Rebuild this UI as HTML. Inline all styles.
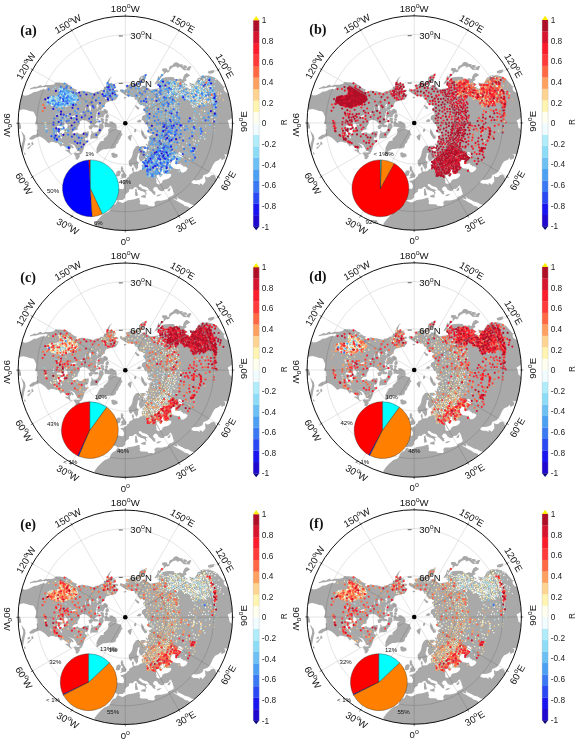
<!DOCTYPE html><html><head><meta charset="utf-8"><title>figure</title><style>html,body{margin:0;padding:0;background:#fff}svg{display:block}text{font-family:"Liberation Sans",sans-serif}.s{font-family:"Liberation Serif",serif;font-weight:bold}</style></head><body>
<svg width="575" height="743" viewBox="0 0 575 743">
<defs>
<clipPath id="cp"><circle r="107.2"/></clipPath>
<clipPath id="lc"><path d="M-6.7 -28.6L-6.9 -27.7L-8.2 -25.3L-10.0 -23.0L-12.2 -22.9L-14.0 -22.5L-17.4 -21.4L-19.4 -20.8L-19.7 -19.7L-20.3 -18.9L-20.6 -17.3L-20.6 -16.1L-22.4 -16.3L-22.0 -15.2L-23.2 -15.1L-24.1 -13.9L-26.0 -12.1L-27.5 -12.2L-28.3 -10.3L-27.9 -9.3L-29.9 -9.7L-28.9 -8.8L-28.5 -7.6L-29.4 -6.3L-29.5 -4.1L-28.9 -3.8L-28.3 -3.0L-24.9 -2.4L-24.2 -1.9L-25.6 -1.1L-27.7 -1.0L-29.1 -0.3L-30.5 1.1L-29.8 1.6L-27.2 2.1L-27.0 3.8L-28.8 4.3L-30.9 4.3L-32.0 3.4L-32.5 2.3L-34.7 1.5L-35.7 0.0L-37.1 -1.3L-39.5 -2.8L-42.4 -3.3L-45.4 -2.0L-45.4 0.0L-46.1 1.6L-47.7 4.2L-47.6 6.4L-50.8 7.1L-52.1 8.3L-53.0 9.3L-52.6 10.2L-51.0 10.1L-48.9 9.5L-48.0 8.9L-46.5 10.3L-44.9 10.8L-42.7 10.3L-41.9 8.9L-40.2 8.5L-38.7 8.6L-36.8 7.8L-36.5 9.8L-36.8 11.9L-37.3 13.6L-38.5 14.4L-39.9 14.5L-40.4 16.3L-39.1 17.4L-36.8 17.2L-36.6 17.4L-39.0 20.3L-40.5 22.0L-41.5 23.9L-41.6 26.0L-42.4 27.5L-43.0 29.2L-44.4 29.9L-46.0 28.2L-47.9 27.7L-49.7 24.3L-51.4 21.8L-53.3 21.0L-55.6 20.2L-57.5 19.6L-54.7 21.0L-52.8 22.4L-51.5 24.5L-53.1 25.3L-53.8 23.9L-54.7 25.5L-55.6 26.5L-55.2 28.1L-54.8 29.8L-53.4 30.8L-52.6 29.7L-53.9 31.1L-55.1 30.6L-57.4 28.6L-59.9 27.3L-59.5 26.3L-57.5 26.8L-56.6 27.0L-57.7 25.7L-58.5 24.8L-59.7 24.1L-61.6 22.4L-63.4 22.2L-64.1 23.3L-64.6 23.5L-65.3 22.5L-66.0 21.4L-67.6 19.4L-68.7 19.7L-70.0 19.4L-70.9 19.0L-72.4 18.7L-74.2 18.5L-74.9 19.0L-76.8 19.9L-78.1 18.7L-79.7 16.9L-81.2 15.8L-82.8 14.6L-84.8 13.4L-86.6 13.1L-90.0 14.6L-92.5 16.3L-95.3 16.5L-96.1 15.2L-94.8 13.7L-91.9 11.8L-89.6 11.5L-88.3 10.1L-88.1 8.8L-88.6 7.0L-87.6 5.4L-87.9 3.1L-88.1 0.8L-89.9 1.1L-89.9 -0.8L-89.2 -3.1L-89.0 -6.2L-90.0 -7.9L-91.0 -10.4L-92.3 -11.8L-95.0 -12.0L-98.7 -13.3L-101.9 -14.0L-104.9 -13.4L-108.1 -11.9L-109.2 -11.1L-110.6 -8.7L-110.1 -4.8L-109.3 -1.9L-106.3 -0.9L-105.4 -0.6L-104.3 2.7L-104.2 5.5L-106.2 5.6L-108.2 4.7L-110.7 4.3L-112.4 3.3L-115.5 2.4L-115.9 4.0L-115.7 8.1L-115.7 12.2L-116.8 13.9L-121.2 13.8L-121.8 5.3L-119.7 -3.1L-116.4 -7.1L-115.1 -10.1L-115.4 -13.1L-113.6 -17.0L-111.7 -19.7L-108.9 -23.2L-106.1 -26.5L-103.4 -28.7L-100.7 -27.5L-97.5 -28.0L-94.0 -29.7L-91.3 -31.4L-89.1 -31.5L-86.6 -32.4L-84.9 -33.4L-82.1 -34.0L-79.5 -33.8L-77.7 -35.7L-79.6 -36.6L-82.8 -36.0L-85.9 -35.6L-89.2 -34.8L-92.4 -34.5L-95.3 -33.7L-95.5 -34.8L-92.9 -35.7L-90.4 -36.9L-88.7 -36.2L-86.5 -37.6L-84.3 -38.4L-83.3 -37.1L-81.0 -37.8L-78.3 -38.2L-74.9 -38.2L-71.6 -38.9L-69.5 -40.9L-67.7 -40.7L-65.1 -40.7L-63.3 -40.4L-60.8 -40.6L-58.7 -40.0L-56.5 -38.3L-54.9 -37.8L-53.3 -35.9L-51.1 -34.5L-47.9 -33.2L-49.4 -32.1L-48.3 -30.8L-47.3 -31.0L-46.0 -31.6L-43.4 -32.7L-41.0 -32.0L-39.3 -31.8L-37.4 -31.7L-35.9 -31.2L-34.3 -30.9L-31.9 -30.3L-30.6 -30.6L-29.5 -31.6L-27.0 -31.6L-25.3 -32.4L-24.1 -33.2L-22.4 -33.2L-21.4 -34.2L-21.1 -35.8L-20.1 -37.1L-19.3 -35.5L-19.7 -34.1L-18.9 -35.6L-19.0 -37.2L-19.0 -38.9L-18.2 -40.8L-17.3 -42.8L-16.2 -44.5L-14.8 -45.7L-13.4 -46.9L-14.0 -45.8L-15.3 -44.3L-16.0 -41.7L-16.4 -39.7L-15.4 -40.1L-13.3 -40.8L-12.7 -39.1L-10.8 -38.9L-9.7 -37.7L-9.7 -36.2L-9.8 -35.5L-11.2 -34.3L-11.4 -33.1L-10.1 -33.2L-8.4 -33.5L-6.9 -32.4L-7.8 -31.2L-9.2 -31.1L-9.9 -30.3L-9.1 -29.8L-8.1 -29.1ZM-27.9 15.1L-30.7 15.3L-33.5 15.3L-34.8 16.4L-34.9 15.5L-34.9 13.7L-34.8 12.0L-33.6 9.6L-34.1 8.2L-33.9 7.2L-32.6 8.1L-32.7 9.4L-30.5 9.3L-28.5 8.7L-26.9 6.7L-26.5 5.2L-26.8 3.8L-26.2 2.3L-25.6 0.4L-22.9 0.2L-21.7 1.9L-21.7 3.4L-21.7 4.6L-22.6 5.6L-23.7 7.7L-24.8 9.8L-26.2 11.1L-27.4 13.4L-27.5 14.6ZM-25.3 -12.9L-26.8 -11.4L-27.4 -8.9L-27.8 -5.9L-26.5 -5.4L-24.8 -6.6L-22.1 -5.9L-21.5 -7.8L-20.6 -9.2L-20.8 -11.1L-21.8 -12.1L-23.4 -12.2ZM-19.9 -13.9L-21.3 -13.8L-21.6 -12.5L-20.6 -10.0L-19.0 -9.7L-17.9 -10.7L-17.8 -12.2ZM-18.1 0.0L-18.3 3.2L-17.1 3.6L-14.9 4.0L-14.1 4.3L-10.9 5.1L-9.1 4.8L-8.8 3.2L-9.2 1.6L-10.7 0.0L-12.1 -0.4L-13.4 0.7L-15.4 0.5ZM-15.6 -1.4L-15.4 -0.3L-14.1 0.5L-12.1 -0.4L-12.9 -1.4ZM-20.3 3.6L-20.6 -0.7L-18.7 -2.0L-17.9 0.0L-18.9 3.3ZM-18.0 -9.2L-19.6 -7.1L-19.1 -5.1L-17.3 -5.6L-16.7 -7.8ZM-19.2 -4.8L-20.0 -2.8L-18.0 -2.4L-17.5 -3.7ZM-23.9 -2.3L-23.2 -0.2L-21.5 0.0L-21.5 -1.9L-22.8 -2.4ZM-24.4 -5.2L-24.4 -3.0L-22.1 -2.7L-21.4 -4.2ZM-28.0 -4.7L-28.8 -3.0L-27.5 -2.6L-26.8 -3.8ZM-33.2 1.7L-36.4 3.2L-35.7 5.6L-34.2 5.7L-32.4 3.4ZM-51.1 30.4L-49.3 33.3L-49.2 35.8L-47.6 35.9L-46.7 34.5L-45.8 33.2L-46.3 31.2L-44.1 30.3L-45.5 29.6L-48.0 30.0L-49.9 29.7ZM-15.1 4.6L-12.4 5.0L-9.3 5.4L-6.8 6.8L-4.5 7.3L-3.8 9.3L-3.5 10.8L-2.4 11.1L-4.1 12.8L-5.0 15.3L-6.7 17.6L-7.1 19.6L-9.0 21.1L-9.4 23.1L-9.9 24.4L-12.5 25.5L-15.2 25.3L-19.6 26.0L-21.8 26.0L-24.6 27.4L-28.0 30.0L-28.7 29.8L-28.8 27.8L-28.8 25.1L-27.5 22.3L-26.0 19.6L-24.7 17.9L-21.5 17.4L-21.7 15.5L-19.3 13.5L-17.5 11.4L-16.5 9.5L-17.2 7.7L-17.1 6.2L-16.0 5.2ZM-13.8 30.3L-12.0 29.7L-10.0 30.7L-8.3 31.1L-7.9 33.0L-9.1 33.8L-11.5 34.4L-13.4 33.1L-13.3 32.0ZM2.7 13.8L3.7 12.9L4.8 11.9L6.1 12.0L5.8 14.3L5.2 17.1L4.1 16.3ZM19.5 15.5L18.3 13.8L16.6 11.4L16.3 9.4L16.2 6.5L17.7 8.2L18.8 11.8L21.5 14.0L21.1 15.3ZM14.7 -1.3L11.9 -1.7L13.9 -3.5L15.9 -2.8ZM9.8 8.8L10.8 7.5L10.4 6.0L9.3 6.5L9.2 8.3ZM13.3 -14.3L11.8 -14.6L11.2 -16.0L10.0 -17.2L10.6 -17.6L12.3 -16.3L13.8 -15.3ZM0.7 -25.6L-0.9 -25.0L-1.1 -25.6L0.0 -25.9ZM11.1 23.0L12.0 22.7L13.7 22.8L13.7 23.8L15.2 23.4L16.5 22.8L19.8 22.8L20.9 24.1L19.9 25.5L17.7 26.2L16.7 26.2L18.9 27.4L19.8 28.5L21.4 28.4L21.1 27.0L22.2 26.5L20.9 25.0L21.5 23.5L22.4 23.2L20.4 21.1L19.9 21.1L21.2 20.5L22.7 21.6L22.8 21.3L22.5 19.5L23.2 17.5L24.0 17.1L24.3 15.2L24.0 13.9L23.9 13.2L25.3 12.1L26.0 11.6L26.8 11.4L27.3 10.8L25.7 10.4L23.6 10.0L22.0 8.6L21.5 8.0L22.1 7.0L23.9 7.3L27.1 8.5L30.2 8.8L30.6 9.9L28.9 8.3L27.2 8.1L24.0 6.9L22.3 6.2L23.3 5.0L22.6 4.0L24.0 3.8L26.1 3.2L24.0 3.4L22.0 3.5L21.8 1.3L20.2 1.1L19.1 -0.7L18.2 -2.6L16.0 -4.0L16.7 -5.1L16.8 -6.8L17.9 -7.8L20.1 -8.5L21.4 -7.0L20.2 -7.4L20.3 -8.8L20.0 -11.1L19.0 -12.3L17.8 -13.4L18.2 -15.0L19.9 -16.1L19.6 -17.0L18.3 -17.0L17.0 -18.3L15.2 -18.1L13.3 -19.8L12.5 -21.6L12.2 -22.9L10.0 -23.6L9.2 -25.4L9.0 -26.2L7.6 -26.4L6.1 -26.3L4.8 -27.3L4.9 -28.0L4.2 -26.7L1.9 -27.2L0.0 -28.4L-1.5 -29.3L-3.8 -30.8L-5.6 -32.0L-4.8 -34.4L-2.3 -33.2L-0.6 -33.3L-0.8 -32.2L0.6 -34.3L1.5 -34.4L0.6 -36.8L0.5 -37.8L3.4 -38.4L5.6 -39.5L7.1 -40.5L9.9 -39.9L11.7 -39.7L12.9 -42.0L13.7 -42.1L13.7 -44.8L15.0 -46.2L17.4 -47.9L18.9 -48.0L21.5 -49.9L20.9 -46.9L19.9 -44.1L18.5 -41.5L17.3 -40.7L14.6 -39.1L13.1 -38.2L10.3 -36.1L13.2 -36.2L12.9 -36.3L15.1 -35.6L17.5 -37.5L20.0 -37.5L20.3 -36.4L22.9 -35.3L25.3 -33.6L28.7 -34.2L31.1 -34.5L33.9 -35.1L33.7 -36.7L32.5 -37.4L32.0 -39.5L32.9 -41.3L35.5 -43.1L37.4 -45.4L40.7 -46.0L44.7 -46.2L48.6 -46.1L49.3 -44.4L51.1 -44.1L53.1 -44.1L54.5 -45.0L56.8 -43.9L57.7 -44.3L57.9 -46.0L59.1 -48.5L61.0 -50.1L61.9 -50.1L63.7 -48.9L65.0 -47.7L63.5 -47.0L61.7 -45.7L60.3 -45.0L61.4 -43.3L60.6 -42.4L59.0 -41.8L59.2 -40.4L61.9 -38.7L62.8 -38.0L59.9 -37.5L60.0 -36.1L62.5 -35.4L64.3 -34.2L65.5 -34.4L66.1 -36.7L64.7 -38.1L64.0 -40.8L66.2 -39.8L69.6 -39.1L71.0 -41.8L72.5 -45.0L74.0 -45.9L75.4 -45.3L75.4 -47.1L77.8 -47.7L80.6 -47.5L83.6 -47.5L86.3 -46.9L89.6 -45.6L92.1 -43.9L93.9 -41.8L96.4 -39.0L98.1 -36.7L100.1 -37.0L98.4 -35.4L98.6 -33.0L100.8 -30.8L104.1 -29.9L106.8 -31.6L111.9 -36.4L120.1 -21.2L113.5 -14.9L115.1 -10.1L112.1 -8.4L108.1 -7.6L106.8 -5.6L104.3 -3.6L102.4 -2.7L103.0 -0.9L103.8 1.8L104.3 4.6L105.8 5.7L107.3 7.5L108.5 9.5L113.4 15.9L115.8 20.4L113.1 32.4L107.5 32.9L104.5 32.3L100.6 31.2L98.6 31.1L98.2 31.0L100.2 32.6L99.7 35.3L96.2 36.9L95.7 34.8L93.5 36.8L90.8 38.0L89.7 38.6L87.6 41.8L85.5 46.4L82.7 50.1L79.7 51.4L78.2 51.7L77.1 55.0L73.8 56.6L70.5 57.1L68.0 56.7L66.3 58.1L66.0 59.5L68.6 60.7L72.4 60.7L74.3 61.9L74.5 59.9L76.5 60.7L77.3 61.9L80.2 58.3L79.7 53.8L79.3 52.7L81.7 54.3L84.3 53.7L85.6 52.3L88.5 51.5L90.2 53.3L90.8 55.7L92.5 58.3L92.6 60.1L92.1 64.5L91.0 71.1L89.0 80.1L85.2 88.2L83.6 88.7L79.8 86.4L75.9 84.3L71.5 82.8L66.3 81.3L63.2 79.4L59.6 78.5L57.0 77.0L53.1 75.3L51.3 73.2L52.2 75.9L52.1 76.4L50.3 76.1L47.8 74.7L49.0 76.3L51.8 77.7L54.6 79.4L57.8 81.0L59.2 82.4L62.8 83.4L65.3 85.7L69.3 87.2L73.2 92.1L48.0 132.0L0.0 140.5L-34.6 113.1L-32.8 110.8L-30.7 105.0L-30.8 100.8L-27.7 96.6L-24.0 92.7L-20.8 90.1L-17.8 88.9L-15.4 87.5L-14.6 84.6L-12.2 81.8L-9.7 80.9L-8.1 78.0L-7.2 77.9L-4.1 79.2L-2.8 79.6L0.0 78.4L2.0 77.2L4.0 76.7L6.7 76.5L10.0 75.8L12.9 74.8L14.6 75.0L14.1 76.3L15.0 78.4L14.1 79.9L15.8 81.2L18.8 81.3L22.3 81.5L22.9 82.7L26.1 82.9L28.6 83.2L29.7 81.5L28.9 79.4L30.6 77.6L32.9 77.4L36.1 77.5L39.1 76.8L42.1 76.0L43.1 74.7L44.1 73.4L46.1 72.9L48.5 71.3L48.3 69.5L47.7 68.2L47.1 65.5L46.3 64.0L45.5 62.2L44.2 63.2L43.5 64.5L41.9 65.7L39.2 66.0L38.3 67.7L36.1 67.9L34.8 67.5L33.0 66.2L32.6 64.9L31.6 64.1L30.9 63.4L28.5 64.1L28.8 65.4L27.4 65.2L28.1 67.0L29.4 68.2L30.6 68.8L29.5 69.6L30.4 71.0L29.5 71.6L28.4 71.3L27.2 70.0L26.6 69.3L25.4 68.0L23.7 66.9L22.9 65.1L21.4 64.0L19.4 63.4L17.4 62.7L15.8 61.2L14.8 60.8L13.4 61.6L13.9 63.1L15.5 64.0L17.0 65.6L18.9 65.9L21.8 67.1L22.6 67.6L20.7 67.7L20.6 69.1L21.5 69.9L21.0 71.1L20.2 72.0L20.2 70.3L19.2 68.9L17.3 68.0L15.6 67.6L14.5 67.0L12.9 66.4L11.8 64.8L11.0 64.0L9.9 63.7L8.5 64.8L7.0 66.1L5.5 65.8L4.4 65.9L3.5 67.4L3.8 68.5L2.7 69.2L1.0 70.3L-0.4 72.5L0.1 73.6L-0.9 75.3L-2.7 76.7L-5.9 76.7L-7.3 77.6L-8.4 76.5L-9.8 75.5L-11.8 75.5L-11.3 73.1L-12.1 72.6L-10.9 70.3L-10.4 67.5L-10.7 65.8L-9.1 64.9L-6.5 65.4L-4.4 65.7L-2.1 66.0L-1.3 64.0L-1.2 62.5L-2.1 60.7L-2.3 60.0L-4.4 59.0L-4.8 58.0L-3.0 57.5L-1.6 57.8L-1.6 56.4L-0.2 56.9L0.2 56.3L1.5 55.5L1.6 54.4L3.3 53.6L3.8 52.3L4.3 51.1L6.2 50.2L7.4 49.6L7.4 48.1L6.8 47.0L6.5 44.9L8.1 43.6L8.2 45.4L8.7 45.8L8.3 47.2L8.1 47.9L9.3 48.6L10.3 48.4L11.5 47.9L12.3 48.4L13.6 47.5L15.4 46.1L16.4 46.4L16.6 45.6L17.1 44.4L16.3 42.4L16.5 41.4L17.1 41.1L18.4 41.4L18.0 39.6L17.1 39.4L16.8 38.7L17.7 37.9L19.6 36.9L20.6 35.7L19.2 35.3L17.8 36.4L16.1 37.9L14.7 37.4L14.0 35.9L13.5 34.2L13.8 32.6L14.4 30.8L14.2 30.0L13.4 30.0L12.4 30.6L12.5 32.3L11.8 34.4L11.4 36.0L11.7 37.9L12.9 38.7L13.5 39.6L12.9 41.0L12.7 42.8L12.8 44.8L11.7 45.4L11.7 46.3L10.7 46.5L10.3 45.3L9.3 43.7L8.5 42.4L7.9 41.3L7.6 40.7L7.0 42.1L6.1 43.4L5.2 43.5L4.2 42.6L3.7 40.9L3.4 39.2L3.4 37.8L4.5 36.5L5.6 35.2L6.4 33.7L7.1 31.8L7.4 29.9L7.6 28.4L8.2 26.9L8.8 25.6L9.9 24.4L10.4 23.4ZM-5.5 55.4L-3.4 55.2L-1.4 54.7L1.2 54.0L0.7 53.5L1.5 51.7L0.3 51.3L-0.2 49.8L-1.3 48.3L-1.6 46.8L-2.5 46.8L-1.6 44.5L-3.1 44.4L-2.4 43.0L-3.8 42.9L-4.5 44.5L-4.5 46.2L-4.3 47.4L-4.1 48.5L-2.7 48.6L-2.6 50.5L-4.0 50.7L-3.8 51.9L-4.8 52.9L-3.0 53.6L-4.1 54.1ZM-9.2 52.3L-7.9 52.8L-5.8 52.2L-5.3 50.6L-4.7 48.8L-5.4 47.7L-6.9 47.6L-8.6 48.8L-8.7 50.1ZM44.1 -53.1L42.4 -52.4L40.9 -54.7L37.5 -54.5L37.0 -53.2L38.9 -51.6L38.7 -49.4L40.4 -51.0L41.5 -51.8L42.4 -51.0L43.8 -51.9ZM43.3 -54.0L44.5 -57.0L47.1 -58.1L48.6 -60.0L49.7 -60.9L51.3 -61.1L52.9 -60.4L54.9 -58.9L55.4 -59.0L57.4 -59.1L57.2 -57.4L59.2 -55.2L61.5 -53.5L61.1 -52.9L58.2 -53.3L56.2 -55.2L54.6 -56.6L52.4 -55.6L51.3 -55.6L52.2 -56.3L50.3 -56.9L48.0 -56.2L45.9 -54.8L44.9 -53.5ZM61.7 -53.5L61.8 -55.2L64.5 -56.9L65.7 -56.3L64.6 -54.6L64.0 -53.2L62.6 -53.3ZM60.3 -55.3L58.0 -56.6L58.2 -57.6L59.3 -57.7L61.3 -57.1L61.1 -55.8ZM38.1 -48.8L36.1 -48.8L34.2 -45.4L33.1 -46.8L32.0 -42.9L30.7 -41.1L29.8 -39.3L31.1 -39.8L32.6 -41.5L33.8 -43.4L36.1 -46.4L37.7 -48.1ZM83.4 -50.1L82.9 -51.6L85.7 -52.5L88.8 -52.9L87.8 -50.9L85.6 -50.0ZM101.2 -35.8L100.2 -38.5L103.4 -38.6L104.7 -36.1L103.3 -34.7ZM-103.2 9.2L-100.7 12.4L-100.0 15.8L-100.7 18.7L-101.5 22.5L-102.1 26.0L-102.7 29.1L-103.9 27.8L-105.1 22.9L-103.5 23.5L-103.2 21.0L-102.0 17.1L-101.6 14.3L-102.4 11.7ZM-106.5 29.7L-102.8 31.4L-102.0 34.1L-101.4 36.9L-102.4 40.6L-105.7 36.4ZM16.2 73.0L20.0 71.7L20.0 74.3L16.3 73.6ZM10.4 72.4L10.0 69.1L11.5 68.6L12.4 71.7L11.4 72.2ZM10.3 68.3L10.1 66.5L10.9 65.8L11.4 68.1ZM31.6 72.7L32.7 71.7L35.2 71.2L33.8 72.4L31.7 72.9ZM42.6 67.5L43.1 66.4L44.7 64.9L44.6 66.2L43.8 67.5ZM-93.1 18.9L-92.0 20.9L-93.0 21.5L-93.7 19.9ZM-95.8 20.0L-95.4 21.0L-97.4 21.6L-97.4 20.7ZM-94.5 22.5L-95.5 23.8L-97.2 25.7L-97.5 25.0ZM-100.7 29.6L-99.9 30.9L-100.9 30.9Z"/></clipPath>
<g id="land"><g clip-path="url(#cp)">
<path fill="#a9a9a9" d="M-6.7 -28.6L-6.9 -27.7L-8.2 -25.3L-10.0 -23.0L-12.2 -22.9L-14.0 -22.5L-17.4 -21.4L-19.4 -20.8L-19.7 -19.7L-20.3 -18.9L-20.6 -17.3L-20.6 -16.1L-22.4 -16.3L-22.0 -15.2L-23.2 -15.1L-24.1 -13.9L-26.0 -12.1L-27.5 -12.2L-28.3 -10.3L-27.9 -9.3L-29.9 -9.7L-28.9 -8.8L-28.5 -7.6L-29.4 -6.3L-29.5 -4.1L-28.9 -3.8L-28.3 -3.0L-24.9 -2.4L-24.2 -1.9L-25.6 -1.1L-27.7 -1.0L-29.1 -0.3L-30.5 1.1L-29.8 1.6L-27.2 2.1L-27.0 3.8L-28.8 4.3L-30.9 4.3L-32.0 3.4L-32.5 2.3L-34.7 1.5L-35.7 0.0L-37.1 -1.3L-39.5 -2.8L-42.4 -3.3L-45.4 -2.0L-45.4 0.0L-46.1 1.6L-47.7 4.2L-47.6 6.4L-50.8 7.1L-52.1 8.3L-53.0 9.3L-52.6 10.2L-51.0 10.1L-48.9 9.5L-48.0 8.9L-46.5 10.3L-44.9 10.8L-42.7 10.3L-41.9 8.9L-40.2 8.5L-38.7 8.6L-36.8 7.8L-36.5 9.8L-36.8 11.9L-37.3 13.6L-38.5 14.4L-39.9 14.5L-40.4 16.3L-39.1 17.4L-36.8 17.2L-36.6 17.4L-39.0 20.3L-40.5 22.0L-41.5 23.9L-41.6 26.0L-42.4 27.5L-43.0 29.2L-44.4 29.9L-46.0 28.2L-47.9 27.7L-49.7 24.3L-51.4 21.8L-53.3 21.0L-55.6 20.2L-57.5 19.6L-54.7 21.0L-52.8 22.4L-51.5 24.5L-53.1 25.3L-53.8 23.9L-54.7 25.5L-55.6 26.5L-55.2 28.1L-54.8 29.8L-53.4 30.8L-52.6 29.7L-53.9 31.1L-55.1 30.6L-57.4 28.6L-59.9 27.3L-59.5 26.3L-57.5 26.8L-56.6 27.0L-57.7 25.7L-58.5 24.8L-59.7 24.1L-61.6 22.4L-63.4 22.2L-64.1 23.3L-64.6 23.5L-65.3 22.5L-66.0 21.4L-67.6 19.4L-68.7 19.7L-70.0 19.4L-70.9 19.0L-72.4 18.7L-74.2 18.5L-74.9 19.0L-76.8 19.9L-78.1 18.7L-79.7 16.9L-81.2 15.8L-82.8 14.6L-84.8 13.4L-86.6 13.1L-90.0 14.6L-92.5 16.3L-95.3 16.5L-96.1 15.2L-94.8 13.7L-91.9 11.8L-89.6 11.5L-88.3 10.1L-88.1 8.8L-88.6 7.0L-87.6 5.4L-87.9 3.1L-88.1 0.8L-89.9 1.1L-89.9 -0.8L-89.2 -3.1L-89.0 -6.2L-90.0 -7.9L-91.0 -10.4L-92.3 -11.8L-95.0 -12.0L-98.7 -13.3L-101.9 -14.0L-104.9 -13.4L-108.1 -11.9L-109.2 -11.1L-110.6 -8.7L-110.1 -4.8L-109.3 -1.9L-106.3 -0.9L-105.4 -0.6L-104.3 2.7L-104.2 5.5L-106.2 5.6L-108.2 4.7L-110.7 4.3L-112.4 3.3L-115.5 2.4L-115.9 4.0L-115.7 8.1L-115.7 12.2L-116.8 13.9L-121.2 13.8L-121.8 5.3L-119.7 -3.1L-116.4 -7.1L-115.1 -10.1L-115.4 -13.1L-113.6 -17.0L-111.7 -19.7L-108.9 -23.2L-106.1 -26.5L-103.4 -28.7L-100.7 -27.5L-97.5 -28.0L-94.0 -29.7L-91.3 -31.4L-89.1 -31.5L-86.6 -32.4L-84.9 -33.4L-82.1 -34.0L-79.5 -33.8L-77.7 -35.7L-79.6 -36.6L-82.8 -36.0L-85.9 -35.6L-89.2 -34.8L-92.4 -34.5L-95.3 -33.7L-95.5 -34.8L-92.9 -35.7L-90.4 -36.9L-88.7 -36.2L-86.5 -37.6L-84.3 -38.4L-83.3 -37.1L-81.0 -37.8L-78.3 -38.2L-74.9 -38.2L-71.6 -38.9L-69.5 -40.9L-67.7 -40.7L-65.1 -40.7L-63.3 -40.4L-60.8 -40.6L-58.7 -40.0L-56.5 -38.3L-54.9 -37.8L-53.3 -35.9L-51.1 -34.5L-47.9 -33.2L-49.4 -32.1L-48.3 -30.8L-47.3 -31.0L-46.0 -31.6L-43.4 -32.7L-41.0 -32.0L-39.3 -31.8L-37.4 -31.7L-35.9 -31.2L-34.3 -30.9L-31.9 -30.3L-30.6 -30.6L-29.5 -31.6L-27.0 -31.6L-25.3 -32.4L-24.1 -33.2L-22.4 -33.2L-21.4 -34.2L-21.1 -35.8L-20.1 -37.1L-19.3 -35.5L-19.7 -34.1L-18.9 -35.6L-19.0 -37.2L-19.0 -38.9L-18.2 -40.8L-17.3 -42.8L-16.2 -44.5L-14.8 -45.7L-13.4 -46.9L-14.0 -45.8L-15.3 -44.3L-16.0 -41.7L-16.4 -39.7L-15.4 -40.1L-13.3 -40.8L-12.7 -39.1L-10.8 -38.9L-9.7 -37.7L-9.7 -36.2L-9.8 -35.5L-11.2 -34.3L-11.4 -33.1L-10.1 -33.2L-8.4 -33.5L-6.9 -32.4L-7.8 -31.2L-9.2 -31.1L-9.9 -30.3L-9.1 -29.8L-8.1 -29.1ZM-27.9 15.1L-30.7 15.3L-33.5 15.3L-34.8 16.4L-34.9 15.5L-34.9 13.7L-34.8 12.0L-33.6 9.6L-34.1 8.2L-33.9 7.2L-32.6 8.1L-32.7 9.4L-30.5 9.3L-28.5 8.7L-26.9 6.7L-26.5 5.2L-26.8 3.8L-26.2 2.3L-25.6 0.4L-22.9 0.2L-21.7 1.9L-21.7 3.4L-21.7 4.6L-22.6 5.6L-23.7 7.7L-24.8 9.8L-26.2 11.1L-27.4 13.4L-27.5 14.6ZM-25.4 -13.3L-27.1 -11.5L-27.8 -9.0L-28.2 -5.7L-26.4 -5.0L-24.7 -6.3L-21.9 -5.5L-21.2 -7.7L-20.2 -9.1L-20.5 -11.2L-21.7 -12.4L-23.3 -12.5ZM-19.8 -14.3L-21.6 -14.2L-22.0 -12.5L-20.8 -9.7L-18.8 -9.3L-17.5 -10.6L-17.4 -12.4ZM-18.5 -0.4L-18.6 3.5L-17.2 4.0L-15.0 4.3L-14.2 4.6L-11.0 5.5L-8.8 5.2L-8.5 3.2L-8.9 1.5L-10.5 -0.3L-12.1 -0.8L-13.5 0.3L-15.4 0.2ZM-16.1 -1.7L-15.7 -0.0L-14.1 0.9L-11.5 -0.3L-12.8 -1.7ZM-20.6 4.0L-18.7 3.6L-17.5 -0.0L-18.6 -2.5L-20.9 -0.9ZM-18.0 -9.7L-20.0 -7.2L-19.4 -4.7L-17.0 -5.3L-16.3 -7.9ZM-19.4 -5.3L-20.5 -2.6L-17.8 -2.0L-17.1 -3.9ZM-24.4 -2.6L-23.4 0.1L-21.2 0.4L-21.1 -2.1L-22.7 -2.8ZM-24.8 -5.7L-24.7 -2.7L-21.8 -2.3L-20.9 -4.4ZM-28.2 -5.2L-29.3 -2.8L-27.3 -2.2L-26.3 -3.9ZM-33.1 1.3L-36.8 3.0L-35.9 6.0L-34.0 6.1L-32.0 3.4ZM-51.6 30.2L-49.6 33.4L-49.6 36.1L-47.4 36.2L-46.4 34.7L-45.4 33.3L-45.8 31.4L-43.3 30.4L-45.5 29.2L-48.0 29.6L-50.0 29.3ZM-15.1 4.6L-12.4 5.0L-9.3 5.4L-6.8 6.8L-4.5 7.3L-3.8 9.3L-3.5 10.8L-2.4 11.1L-4.1 12.8L-5.0 15.3L-6.7 17.6L-7.1 19.6L-9.0 21.1L-9.4 23.1L-9.9 24.4L-12.5 25.5L-15.2 25.3L-19.6 26.0L-21.8 26.0L-24.6 27.4L-28.0 30.0L-28.7 29.8L-28.8 27.8L-28.8 25.1L-27.5 22.3L-26.0 19.6L-24.7 17.9L-21.5 17.4L-21.7 15.5L-19.3 13.5L-17.5 11.4L-16.5 9.5L-17.2 7.7L-17.1 6.2L-16.0 5.2ZM-14.2 30.1L-13.6 32.1L-13.7 33.2L-11.6 34.7L-8.9 34.1L-7.5 33.2L-8.0 30.8L-9.9 30.4L-12.0 29.3ZM2.2 13.8L3.8 16.5L5.5 17.7L6.1 14.4L6.5 11.6L4.7 11.6L3.5 12.6ZM19.4 15.9L21.4 15.6L21.9 13.9L19.2 11.6L18.0 8.1L15.8 5.6L16.0 9.4L16.3 11.6L18.0 14.0ZM14.9 -0.9L16.4 -3.0L13.8 -3.9L11.2 -1.4ZM9.8 9.3L11.1 7.6L10.7 5.5L9.0 6.3L8.8 8.4ZM13.5 -13.9L14.2 -15.4L12.5 -16.6L10.6 -18.1L9.4 -17.3L10.9 -15.8L11.6 -14.3ZM1.5 -25.7L0.0 -26.3L-1.6 -25.9L-1.1 -24.5ZM11.1 23.0L12.0 22.7L13.7 22.8L13.7 23.8L15.2 23.4L16.5 22.8L19.8 22.8L20.9 24.1L19.9 25.5L17.7 26.2L16.7 26.2L18.9 27.4L19.8 28.5L21.4 28.4L21.1 27.0L22.2 26.5L20.9 25.0L21.5 23.5L22.4 23.2L20.4 21.1L19.9 21.1L21.2 20.5L22.7 21.6L22.8 21.3L22.5 19.5L23.2 17.5L24.0 17.1L24.3 15.2L24.0 13.9L23.9 13.2L25.3 12.1L26.0 11.6L26.8 11.4L27.3 10.8L25.7 10.4L23.6 10.0L22.0 8.6L21.5 8.0L22.1 7.0L23.9 7.3L27.1 8.5L30.2 8.8L30.6 9.9L28.9 8.3L27.2 8.1L24.0 6.9L22.3 6.2L23.3 5.0L22.6 4.0L24.0 3.8L26.1 3.2L24.0 3.4L22.0 3.5L21.8 1.3L20.2 1.1L19.1 -0.7L18.2 -2.6L16.0 -4.0L16.7 -5.1L16.8 -6.8L17.9 -7.8L20.1 -8.5L21.4 -7.0L20.2 -7.4L20.3 -8.8L20.0 -11.1L19.0 -12.3L17.8 -13.4L18.2 -15.0L19.9 -16.1L19.6 -17.0L18.3 -17.0L17.0 -18.3L15.2 -18.1L13.3 -19.8L12.5 -21.6L12.2 -22.9L10.0 -23.6L9.2 -25.4L9.0 -26.2L7.6 -26.4L6.1 -26.3L4.8 -27.3L4.9 -28.0L4.2 -26.7L1.9 -27.2L0.0 -28.4L-1.5 -29.3L-3.8 -30.8L-5.6 -32.0L-4.8 -34.4L-2.3 -33.2L-0.6 -33.3L-0.8 -32.2L0.6 -34.3L1.5 -34.4L0.6 -36.8L0.5 -37.8L3.4 -38.4L5.6 -39.5L7.1 -40.5L9.9 -39.9L11.7 -39.7L12.9 -42.0L13.7 -42.1L13.7 -44.8L15.0 -46.2L17.4 -47.9L18.9 -48.0L21.5 -49.9L20.9 -46.9L19.9 -44.1L18.5 -41.5L17.3 -40.7L14.6 -39.1L13.1 -38.2L10.3 -36.1L13.2 -36.2L12.9 -36.3L15.1 -35.6L17.5 -37.5L20.0 -37.5L20.3 -36.4L22.9 -35.3L25.3 -33.6L28.7 -34.2L31.1 -34.5L33.9 -35.1L33.7 -36.7L32.5 -37.4L32.0 -39.5L32.9 -41.3L35.5 -43.1L37.4 -45.4L40.7 -46.0L44.7 -46.2L48.6 -46.1L49.3 -44.4L51.1 -44.1L53.1 -44.1L54.5 -45.0L56.8 -43.9L57.7 -44.3L57.9 -46.0L59.1 -48.5L61.0 -50.1L61.9 -50.1L63.7 -48.9L65.0 -47.7L63.5 -47.0L61.7 -45.7L60.3 -45.0L61.4 -43.3L60.6 -42.4L59.0 -41.8L59.2 -40.4L61.9 -38.7L62.8 -38.0L59.9 -37.5L60.0 -36.1L62.5 -35.4L64.3 -34.2L65.5 -34.4L66.1 -36.7L64.7 -38.1L64.0 -40.8L66.2 -39.8L69.6 -39.1L71.0 -41.8L72.5 -45.0L74.0 -45.9L75.4 -45.3L75.4 -47.1L77.8 -47.7L80.6 -47.5L83.6 -47.5L86.3 -46.9L89.6 -45.6L92.1 -43.9L93.9 -41.8L96.4 -39.0L98.1 -36.7L100.1 -37.0L98.4 -35.4L98.6 -33.0L100.8 -30.8L104.1 -29.9L106.8 -31.6L111.9 -36.4L120.1 -21.2L113.5 -14.9L115.1 -10.1L112.1 -8.4L108.1 -7.6L106.8 -5.6L104.3 -3.6L102.4 -2.7L103.0 -0.9L103.8 1.8L104.3 4.6L105.8 5.7L107.3 7.5L108.5 9.5L113.4 15.9L115.8 20.4L113.1 32.4L107.5 32.9L104.5 32.3L100.6 31.2L98.6 31.1L98.2 31.0L100.2 32.6L99.7 35.3L96.2 36.9L95.7 34.8L93.5 36.8L90.8 38.0L89.7 38.6L87.6 41.8L85.5 46.4L82.7 50.1L79.7 51.4L78.2 51.7L77.1 55.0L73.8 56.6L70.5 57.1L68.0 56.7L66.3 58.1L66.0 59.5L68.6 60.7L72.4 60.7L74.3 61.9L74.5 59.9L76.5 60.7L77.3 61.9L80.2 58.3L79.7 53.8L79.3 52.7L81.7 54.3L84.3 53.7L85.6 52.3L88.5 51.5L90.2 53.3L90.8 55.7L92.5 58.3L92.6 60.1L92.1 64.5L91.0 71.1L89.0 80.1L85.2 88.2L83.6 88.7L79.8 86.4L75.9 84.3L71.5 82.8L66.3 81.3L63.2 79.4L59.6 78.5L57.0 77.0L53.1 75.3L51.3 73.2L52.2 75.9L52.1 76.4L50.3 76.1L47.8 74.7L49.0 76.3L51.8 77.7L54.6 79.4L57.8 81.0L59.2 82.4L62.8 83.4L65.3 85.7L69.3 87.2L73.2 92.1L48.0 132.0L0.0 140.5L-34.6 113.1L-32.8 110.8L-30.7 105.0L-30.8 100.8L-27.7 96.6L-24.0 92.7L-20.8 90.1L-17.8 88.9L-15.4 87.5L-14.6 84.6L-12.2 81.8L-9.7 80.9L-8.1 78.0L-7.2 77.9L-4.1 79.2L-2.8 79.6L0.0 78.4L2.0 77.2L4.0 76.7L6.7 76.5L10.0 75.8L12.9 74.8L14.6 75.0L14.1 76.3L15.0 78.4L14.1 79.9L15.8 81.2L18.8 81.3L22.3 81.5L22.9 82.7L26.1 82.9L28.6 83.2L29.7 81.5L28.9 79.4L30.6 77.6L32.9 77.4L36.1 77.5L39.1 76.8L42.1 76.0L43.1 74.7L44.1 73.4L46.1 72.9L48.5 71.3L48.3 69.5L47.7 68.2L47.1 65.5L46.3 64.0L45.5 62.2L44.2 63.2L43.5 64.5L41.9 65.7L39.2 66.0L38.3 67.7L36.1 67.9L34.8 67.5L33.0 66.2L32.6 64.9L31.6 64.1L30.9 63.4L28.5 64.1L28.8 65.4L27.4 65.2L28.1 67.0L29.4 68.2L30.6 68.8L29.5 69.6L30.4 71.0L29.5 71.6L28.4 71.3L27.2 70.0L26.6 69.3L25.4 68.0L23.7 66.9L22.9 65.1L21.4 64.0L19.4 63.4L17.4 62.7L15.8 61.2L14.8 60.8L13.4 61.6L13.9 63.1L15.5 64.0L17.0 65.6L18.9 65.9L21.8 67.1L22.6 67.6L20.7 67.7L20.6 69.1L21.5 69.9L21.0 71.1L20.2 72.0L20.2 70.3L19.2 68.9L17.3 68.0L15.6 67.6L14.5 67.0L12.9 66.4L11.8 64.8L11.0 64.0L9.9 63.7L8.5 64.8L7.0 66.1L5.5 65.8L4.4 65.9L3.5 67.4L3.8 68.5L2.7 69.2L1.0 70.3L-0.4 72.5L0.1 73.6L-0.9 75.3L-2.7 76.7L-5.9 76.7L-7.3 77.6L-8.4 76.5L-9.8 75.5L-11.8 75.5L-11.3 73.1L-12.1 72.6L-10.9 70.3L-10.4 67.5L-10.7 65.8L-9.1 64.9L-6.5 65.4L-4.4 65.7L-2.1 66.0L-1.3 64.0L-1.2 62.5L-2.1 60.7L-2.3 60.0L-4.4 59.0L-4.8 58.0L-3.0 57.5L-1.6 57.8L-1.6 56.4L-0.2 56.9L0.2 56.3L1.5 55.5L1.6 54.4L3.3 53.6L3.8 52.3L4.3 51.1L6.2 50.2L7.4 49.6L7.4 48.1L6.8 47.0L6.5 44.9L8.1 43.6L8.2 45.4L8.7 45.8L8.3 47.2L8.1 47.9L9.3 48.6L10.3 48.4L11.5 47.9L12.3 48.4L13.6 47.5L15.4 46.1L16.4 46.4L16.6 45.6L17.1 44.4L16.3 42.4L16.5 41.4L17.1 41.1L18.4 41.4L18.0 39.6L17.1 39.4L16.8 38.7L17.7 37.9L19.6 36.9L20.6 35.7L19.2 35.3L17.8 36.4L16.1 37.9L14.7 37.4L14.0 35.9L13.5 34.2L13.8 32.6L14.4 30.8L14.2 30.0L13.4 30.0L12.4 30.6L12.5 32.3L11.8 34.4L11.4 36.0L11.7 37.9L12.9 38.7L13.5 39.6L12.9 41.0L12.7 42.8L12.8 44.8L11.7 45.4L11.7 46.3L10.7 46.5L10.3 45.3L9.3 43.7L8.5 42.4L7.9 41.3L7.6 40.7L7.0 42.1L6.1 43.4L5.2 43.5L4.2 42.6L3.7 40.9L3.4 39.2L3.4 37.8L4.5 36.5L5.6 35.2L6.4 33.7L7.1 31.8L7.4 29.9L7.6 28.4L8.2 26.9L8.8 25.6L9.9 24.4L10.4 23.4ZM-5.5 55.4L-3.4 55.2L-1.4 54.7L1.2 54.0L0.7 53.5L1.5 51.7L0.3 51.3L-0.2 49.8L-1.3 48.3L-1.6 46.8L-2.5 46.8L-1.6 44.5L-3.1 44.4L-2.4 43.0L-3.8 42.9L-4.5 44.5L-4.5 46.2L-4.3 47.4L-4.1 48.5L-2.7 48.6L-2.6 50.5L-4.0 50.7L-3.8 51.9L-4.8 52.9L-3.0 53.6L-4.1 54.1ZM-9.6 52.5L-7.9 53.2L-5.5 52.5L-5.0 50.7L-4.3 48.8L-5.2 47.4L-6.9 47.2L-8.9 48.6L-9.0 50.1ZM44.6 -53.7L42.6 -52.9L41.1 -55.0L37.2 -54.9L36.5 -53.1L38.5 -51.4L38.3 -48.5L40.6 -50.7L41.5 -51.3L42.3 -50.6L44.2 -51.7ZM43.3 -54.0L44.5 -57.0L47.1 -58.1L48.6 -60.0L49.7 -60.9L51.3 -61.1L52.9 -60.4L54.9 -58.9L55.4 -59.0L57.4 -59.1L57.2 -57.4L59.2 -55.2L61.5 -53.5L61.1 -52.9L58.2 -53.3L56.2 -55.2L54.6 -56.6L52.4 -55.6L51.3 -55.6L52.2 -56.3L50.3 -56.9L48.0 -56.2L45.9 -54.8L44.9 -53.5ZM61.4 -53.2L62.5 -52.9L64.3 -52.8L64.9 -54.5L66.2 -56.5L64.5 -57.3L61.4 -55.4ZM60.4 -54.9L61.4 -55.6L61.6 -57.4L59.3 -58.0L57.9 -57.9L57.6 -56.4ZM38.7 -49.2L35.9 -49.1L34.2 -46.0L33.0 -47.5L31.7 -43.1L30.4 -41.3L29.1 -38.7L31.3 -39.5L32.9 -41.3L34.1 -43.2L36.4 -46.2L38.0 -47.9ZM83.1 -49.8L85.7 -49.7L88.0 -50.6L89.4 -53.4L85.6 -52.9L82.5 -51.8ZM100.9 -35.6L103.3 -34.3L105.2 -36.0L103.6 -39.0L99.7 -38.8ZM-104.1 7.7L-102.7 11.8L-102.0 14.3L-102.3 17.0L-103.6 20.9L-103.8 23.0L-105.6 22.3L-104.2 28.0L-102.5 29.8L-101.8 26.1L-101.2 22.6L-100.4 18.7L-99.7 15.9L-100.4 12.2L-104.0 7.6ZM-106.9 29.1L-106.0 36.5L-102.3 41.3L-101.1 36.9L-101.6 34.0L-102.6 31.2ZM15.8 72.8L16.0 74.0L20.4 74.7L20.4 71.2ZM10.1 72.8L11.5 72.6L12.8 71.9L11.7 68.1L9.6 68.9ZM10.0 68.7L11.8 68.4L11.1 65.1L9.7 66.4ZM31.2 72.6L31.5 73.3L33.9 72.7L36.5 70.7L32.5 71.4ZM42.1 67.8L44.0 67.9L45.0 66.3L45.2 64.0L42.8 66.2ZM-93.1 18.3L-94.1 19.9L-93.1 22.0L-91.5 21.0ZM-95.6 19.5L-97.7 20.5L-97.7 22.1L-94.9 21.2ZM-93.3 21.1L-98.0 25.0L-97.2 26.3L-95.2 24.0L-93.1 21.4ZM-100.9 28.7L-101.4 31.2L-99.2 31.3Z"/>
<path fill="#fff" d="M33.9 61.1L31.8 60.4L30.9 59.4L31.3 57.8L30.7 56.5L31.0 54.9L31.0 52.4L32.2 51.6L34.2 51.5L33.8 52.8L35.5 53.8L37.0 51.8L37.7 50.7L35.3 50.4L36.2 48.0L38.0 46.3L38.3 48.7L38.4 50.6L39.9 50.8L42.3 50.6L44.9 50.4L46.2 51.5L45.1 53.8L43.2 55.3L41.5 56.0L39.3 56.2L37.3 57.5L36.5 59.6ZM46.8 44.1L49.0 45.2L51.2 45.6L53.5 46.0L54.8 45.5L55.0 47.5L56.2 49.3L58.3 49.2L60.9 47.6L62.4 45.0L60.0 43.3L58.0 43.2L57.0 41.7L55.4 41.8L56.2 40.1L53.6 40.7L51.9 40.8L49.8 40.6L49.9 39.3L50.7 37.7L48.9 36.2L46.6 37.7L45.6 39.9L45.8 42.4ZM54.9 34.0L52.9 32.3L52.4 30.3L53.8 28.8L56.1 29.8L57.5 32.5L56.6 34.0ZM-60.8 -2.1L-61.0 0.0L-61.1 3.2L-60.9 5.6L-58.9 5.2L-57.7 3.5L-57.6 1.5L-59.2 0.0ZM-68.2 2.6L-68.6 4.2L-65.7 4.4L-62.5 5.2L-62.1 3.8L-65.0 2.5ZM-61.8 6.0L-64.7 7.4L-65.9 8.7L-65.2 9.5L-63.1 9.7L-63.2 11.1L-61.7 10.3L-61.2 8.6ZM-68.3 7.9L-68.3 10.2L-65.9 12.8L-65.7 12.2L-66.8 9.4ZM-65.1 11.7L-64.5 14.9L-63.2 15.5L-63.4 14.0ZM-27.6 -19.3L-29.1 -17.5L-28.8 -15.3L-27.5 -14.6L-26.7 -16.1L-26.9 -17.8ZM-35.3 -18.0L-36.3 -16.2L-35.7 -13.7L-35.1 -12.1L-34.4 -13.5L-34.5 -15.7L-34.6 -16.9ZM-49.9 -7.9L-52.3 -7.2L-54.7 -6.2L-53.2 -5.9L-49.7 -6.5L-49.3 -7.4ZM-40.0 -15.7L-40.1 -13.8L-40.5 -11.6L-39.5 -13.6L-39.6 -15.2ZM20.8 35.4L21.5 35.0L21.7 33.5L20.5 32.8L19.9 33.8ZM22.5 32.7L23.1 31.8L21.8 30.5L21.4 31.1ZM-45.0 -10.4L-44.5 -9.1L-43.0 -9.1L-43.4 -10.0ZM-56.5 1.0L-56.7 2.0L-55.5 1.9L-55.5 1.0Z"/>
</g></g>
</defs>
<g transform="translate(125.3 123.3)">
<use href="#land"/>
<g clip-path="url(#cp)"><g fill="none" stroke-linecap="round"><path d="M34.1 47.5h0M32.2 43.8h0M42.9 44.8h0M50.4 32.1h0M42.1 46.1h0M45.9 -17.4h0M6.9 -39.2h0M45.0 40.8h0M47.5 29.6h0M48.6 34.9h0M63.9 35.5h0M55.7 5.0h0M53.9 -33.2h0M56.5 -34.4h0M44.2 -30.1h0M67.7 -23.9h0M81.9 -36.0h0M58.6 -37.5h0M78.5 -34.7h0M54.0 -36.1h0M47.2 -28.2h0M85.6 -26.8h0M80.8 -42.1h0M75.3 -41.8h0M80.4 -36.0h0M76.5 -43.1h0M72.2 -18.6h0M67.0 -25.2h0M82.6 -22.2h0M69.2 -17.6h0M78.0 -44.7h0M60.4 -34.9h0M50.0 -32.3h0M79.1 -43.5h0M80.1 -22.6h0M48.4 -38.4h0M51.1 -26.9h0M72.3 -38.1h0M47.4 -35.1h0M85.6 -24.2h0M81.2 -45.6h0M55.0 -34.2h0M81.0 -32.4h0M61.5 -25.6h0M45.2 -30.9h0M44.9 -29.0h0M75.3 -20.0h0M84.5 -32.0h0M65.1 -32.8h0M54.5 -30.8h0M75.7 -24.1h0M84.8 -36.9h0M51.7 -32.5h0M70.3 -25.2h0M90.5 -43.9h0M87.1 -2.2h0M88.5 6.8h0M89.4 -3.7h0M79.4 -12.1h0M75.8 -6.3h0M-72.1 -20.2h0M-64.5 -27.6h0M-61.5 -21.0h0M-73.3 -26.5h0M-65.4 -18.0h0M-71.5 -22.1h0M-56.8 -24.9h0M-72.9 -17.9h0M-58.1 -21.1h0M-70.4 -19.8h0M-54.8 -20.4h0M-60.1 -26.5h0M-55.5 -32.8h0M-52.1 -28.0h0M-71.5 -18.8h0M-59.2 -17.0h0M-66.5 -20.1h0M-75.0 -22.5h0M-61.4 -30.2h0M-70.7 -24.2h0M-65.4 -35.1h0M-63.6 -33.6h0M-50.8 -22.1h0M-79.5 0.6h0M-76.8 -20.8h0M-78.6 5.1h0" stroke="#fffff0" stroke-width="1.40"/><path d="M34.6 44.5h0M23.6 41.6h0M40.0 41.1h0M44.3 35.5h0M36.6 26.6h0M44.1 40.1h0M47.7 28.0h0M33.9 38.5h0M50.0 36.2h0M23.4 27.3h0M17.7 25.4h0M45.2 12.5h0M47.8 12.4h0M36.0 16.7h0M33.3 -33.7h0M49.0 -18.0h0M34.5 -26.5h0M24.5 -21.2h0M24.4 -17.4h0M39.1 -10.4h0M29.4 -24.4h0M22.4 -26.3h0M16.3 -45.3h0M1.1 -29.7h0M51.4 30.9h0M68.8 20.7h0M57.5 34.3h0M57.6 23.4h0M57.4 -31.1h0M73.9 -43.9h0M62.7 -24.9h0M58.8 -30.4h0M58.3 -39.5h0M43.7 -31.9h0M70.1 -30.6h0M47.0 -32.5h0M81.9 -25.5h0M49.1 -27.5h0M79.5 -24.5h0M54.7 -32.1h0M76.9 -21.1h0M75.6 -37.7h0M64.3 -23.4h0M66.8 -32.2h0M44.0 -27.0h0M51.8 -30.9h0M82.0 -27.0h0M52.9 -35.9h0M62.7 -32.4h0M67.7 -22.4h0M79.4 -39.9h0M73.2 -27.1h0M67.4 -16.8h0M57.8 -28.9h0M71.7 -23.3h0M79.3 -27.9h0M78.8 -22.0h0M78.2 -43.0h0M83.4 -21.0h0M42.1 -28.0h0M65.7 -38.5h0M88.8 -30.3h0M78.5 -23.0h0M76.4 -36.6h0M72.6 -24.6h0M65.8 -19.4h0M75.2 -40.2h0M65.5 -30.7h0M83.6 -34.9h0M73.0 -28.8h0M67.5 -18.7h0M71.5 -29.2h0M70.8 -20.6h0M66.8 -37.9h0M56.1 -29.4h0M75.3 -30.9h0M60.2 -29.7h0M52.5 -27.9h0M47.9 -41.9h0M69.7 -38.1h0M76.1 -22.1h0M73.9 -33.5h0M57.5 -33.9h0M87.7 -22.0h0M95.5 -29.8h0M90.7 -25.7h0M88.8 -24.3h0M87.9 -6.3h0M89.0 -12.5h0M86.6 -5.8h0M88.2 -20.2h0M68.8 -5.5h0M58.1 2.8h0M79.6 15.7h0M88.7 3.1h0M70.1 17.7h0M75.9 11.5h0M75.5 8.1h0M-58.3 -19.1h0M-54.6 -30.5h0M-51.8 -22.4h0M-67.1 -22.3h0M-52.0 -24.0h0M-68.0 -17.5h0M-50.0 -22.4h0M-63.4 -22.8h0M-61.1 -19.3h0M-52.8 -26.8h0M-71.9 -25.4h0M-68.9 -21.9h0M-57.4 -33.6h0M-60.0 -20.2h0M-61.3 -29.4h0M-68.9 -16.9h0M-62.2 -34.1h0M-52.8 -20.2h0M-51.6 -25.1h0M-62.5 -23.0h0M-60.1 -17.2h0M-65.7 -21.4h0M-65.6 -24.7h0M-60.5 -31.6h0M-67.9 -20.6h0M-52.1 -29.1h0M-62.3 -35.3h0M-71.9 -18.0h0M-75.7 -25.4h0M-62.3 -29.2h0M-58.9 -24.4h0M-65.7 -32.6h0M-63.2 -20.1h0M-77.3 -24.2h0M-52.6 -22.0h0M-63.1 -34.4h0M-74.6 -24.4h0M-62.6 -16.5h0M-56.9 -21.5h0M-74.2 -26.4h0M-63.9 -23.8h0M-52.6 -19.4h0M-77.9 -22.6h0M-63.9 -31.4h0M-73.7 -18.1h0M-64.5 -23.2h0M-77.8 -20.2h0M-62.5 20.2h0M-66.2 0.4h0M-23.7 -31.2h0M-19.6 -25.1h0M-19.6 -32.6h0" stroke="#f0fcff" stroke-width="1.40"/><path d="M51.1 33.3h0M52.2 32.3h0M28.4 37.6h0M53.5 33.9h0M29.4 46.7h0M29.8 44.7h0M37.2 45.4h0M45.6 34.4h0M24.0 52.7h0M42.8 43.0h0M36.6 37.1h0M33.3 37.1h0M45.4 45.9h0M33.8 46.1h0M47.1 32.3h0M23.9 51.0h0M30.0 32.4h0M31.3 35.3h0M27.2 36.8h0M39.8 37.8h0M44.9 25.9h0M33.9 41.6h0M29.2 24.2h0M26.5 23.6h0M46.0 19.9h0M36.4 18.6h0M38.9 17.4h0M43.9 10.8h0M28.5 12.6h0M33.5 -29.1h0M47.0 -15.8h0M50.0 -5.0h0M40.2 -15.7h0M52.4 -20.9h0M51.1 -14.7h0M49.8 -19.8h0M30.7 -30.7h0M41.5 -6.5h0M49.3 -16.1h0M41.9 -0.4h0M40.1 -35.8h0M47.4 -0.4h0M47.9 -11.4h0M23.4 -2.5h0M28.4 -20.6h0M26.8 -30.4h0M21.7 -18.9h0M40.4 -6.8h0M30.5 -16.0h0M30.3 -13.3h0M35.9 -19.9h0M13.8 -26.8h0M70.8 25.4h0M53.6 36.4h0M53.7 47.9h0M68.9 29.1h0M54.1 21.3h0M58.5 14.6h0M61.3 19.9h0M77.0 -32.1h0M53.5 -29.6h0M55.4 -32.9h0M82.5 -34.3h0M47.1 -39.1h0M80.6 -28.9h0M50.9 -31.6h0M44.5 -35.6h0M58.8 -26.7h0M66.9 -35.6h0M80.2 -33.3h0M71.0 -18.3h0M70.9 -38.0h0M77.0 -33.3h0M68.6 -30.9h0M85.4 -20.0h0M50.9 -37.8h0M79.5 -29.9h0M84.3 -40.8h0M67.6 -34.3h0M66.5 -20.3h0M67.3 -30.8h0M52.6 -26.8h0M57.1 -39.6h0M74.4 -31.6h0M65.9 -25.7h0M63.7 -28.7h0M82.6 -29.6h0M55.4 -35.5h0M52.2 -25.6h0M73.9 -29.7h0M81.3 -38.7h0M61.1 -27.4h0M80.4 -37.6h0M66.2 -34.5h0M86.8 -23.5h0M85.6 -37.7h0M78.7 -41.5h0M44.2 -42.3h0M46.7 -41.3h0M50.5 -40.2h0M86.3 -22.4h0M45.1 -38.6h0M78.3 -26.8h0M71.1 -32.9h0M54.9 -28.6h0M71.6 -41.1h0M61.3 -24.4h0M48.0 -30.2h0M63.8 -25.7h0M71.9 -35.3h0M51.8 -34.7h0M74.3 -37.0h0M71.9 -27.1h0M82.3 -37.3h0M84.1 -27.5h0M43.8 -37.4h0M72.3 -21.1h0M52.6 -30.1h0M66.7 -33.4h0M87.3 -20.4h0M86.8 -27.2h0M68.1 -29.0h0M72.5 -22.2h0M63.3 -23.8h0M68.9 -35.0h0M85.9 -21.1h0M60.4 -24.8h0M83.3 -41.7h0M74.7 -35.1h0M78.2 -30.2h0M60.3 -38.3h0M79.3 -44.6h0M68.5 -15.9h0M50.1 -33.9h0M56.7 -28.5h0M73.5 -20.5h0M72.6 -25.9h0M78.5 -29.1h0M89.0 -37.1h0M89.7 -41.5h0M86.3 -36.6h0M82.0 -40.7h0M89.9 -17.8h0M84.7 -39.5h0M90.3 -22.4h0M74.3 -9.3h0M73.5 18.1h0M91.0 -18.9h0M68.2 -1.9h0M68.6 7.5h0M80.5 2.8h0M91.7 -0.4h0M75.6 6.4h0M68.3 5.7h0M75.1 15.1h0M66.3 26.4h0M-66.3 -17.5h0M-49.9 -21.1h0M-63.7 -16.2h0M-53.6 -30.7h0M-64.9 -19.6h0M-60.2 -24.8h0M-75.5 -24.2h0M-52.9 -29.5h0M-66.3 -26.6h0M-69.9 -20.5h0M-56.0 -28.7h0M-56.6 -19.3h0M-53.6 -25.9h0M-68.1 -26.4h0M-73.6 -24.2h0M-48.9 -25.6h0M-58.0 -18.1h0M-47.9 -24.6h0M-58.9 -18.4h0M-65.8 -27.8h0M-76.3 -20.8h0M-55.8 -31.3h0M-77.4 -23.4h0M-64.3 -26.7h0M-58.0 -28.1h0M-67.0 -16.6h0M-71.3 -23.5h0M-55.8 -26.4h0M-67.6 -23.7h0M-68.3 -18.6h0M-70.0 -17.3h0M-71.2 -19.8h0M-54.6 -29.4h0M-72.3 -21.1h0M-58.1 -26.9h0M-72.9 -23.7h0M-60.6 -33.2h0M-49.8 -25.5h0M-74.3 -25.3h0M-75.9 -22.4h0M-64.2 -33.1h0M-54.9 -22.2h0M-61.7 -25.6h0M-69.7 -24.3h0M-50.9 -26.3h0M-62.7 -26.7h0M-67.7 -27.3h0M-57.7 -17.3h0M-63.9 -19.2h0M-74.5 -23.4h0M-67.3 -21.4h0M-48.0 -25.9h0M-60.0 -33.7h0M-57.9 -30.6h0M-64.9 -34.2h0M-60.8 -27.2h0M-68.9 -19.2h0M-65.7 -16.7h0M-48.4 -22.7h0M-68.5 -21.1h0M-62.2 -20.2h0M-63.2 -32.3h0M-58.9 -27.5h0M-70.9 -21.5h0M-64.5 -28.8h0M-72.8 -25.9h0M-80.7 0.5h0M-79.5 5.5h0M-79.6 3.1h0M-66.4 -9.2h0M-65.2 10.7h0M-69.0 -9.2h0M-69.6 10.2h0M-62.6 2.1h0M-57.6 -8.8h0" stroke="#b0ecfa" stroke-width="1.40"/><path d="M68.0 16.7h0M69.0 -27.6h0M84.1 -25.5h0M62.5 -33.8h0M78.3 -39.1h0M84.6 -22.3h0M51.3 -36.1h0M85.8 -30.5h0M81.1 -29.9h0M78.5 -31.9h0M66.1 -27.8h0M81.1 -34.9h0M73.3 -35.3h0M74.7 -21.0h0M80.0 -20.7h0M48.3 -36.0h0M49.4 -40.6h0M75.2 -26.1h0M69.3 -32.0h0M62.5 -28.4h0M82.9 -33.2h0M52.6 -41.2h0M50.9 -39.2h0M49.7 -38.2h0M53.7 -41.8h0M65.6 -23.8h0M75.1 -32.4h0M74.7 -23.6h0M70.7 -39.1h0M63.9 -31.8h0M89.6 -29.6h0M71.2 -26.0h0M79.2 -19.5h0M42.4 -29.8h0M70.8 -16.7h0M80.0 -25.6h0M52.0 -42.1h0M92.7 -29.0h0M91.0 -17.8h0M80.2 9.3h0M73.3 17.3h0M69.7 1.0h0M-61.9 -17.8h0M-54.0 -21.0h0M-55.4 -19.4h0M-73.4 -18.9h0M-70.3 -25.1h0M-73.6 -20.7h0M-52.1 -21.0h0M-68.8 -23.4h0M-74.5 -20.6h0M-70.1 -26.4h0M-53.9 -28.1h0M-57.7 -32.7h0M-79.7 -0.5h0M-60.6 8.2h0" stroke="#fff5b0" stroke-width="1.40"/><path d="M35.5 22.1h0M39.2 44.1h0M43.7 46.8h0M48.8 32.1h0M33.8 40.2h0M47.0 33.9h0M29.0 39.1h0M37.5 38.4h0M28.1 45.9h0M30.5 33.8h0M40.6 46.0h0M25.4 47.8h0M34.2 30.1h0M29.4 52.3h0M39.4 47.0h0M35.5 33.5h0M20.4 45.6h0M40.8 32.2h0M51.5 30.2h0M26.8 49.1h0M32.0 39.0h0M29.7 53.9h0M25.5 51.9h0M27.6 47.5h0M35.2 31.2h0M40.0 49.9h0M25.8 41.8h0M37.9 22.8h0M43.2 29.8h0M36.6 23.4h0M21.1 44.3h0M35.5 52.5h0M49.6 30.9h0M34.3 23.3h0M38.8 45.5h0M35.1 48.8h0M38.0 30.0h0M21.9 35.5h0M24.0 49.6h0M52.0 34.3h0M23.1 44.5h0M20.7 29.4h0M23.9 32.4h0M47.8 17.7h0M38.0 10.4h0M48.6 6.7h0M38.4 15.6h0M38.7 5.5h0M42.0 17.6h0M34.7 2.9h0M28.5 0.3h0M32.3 4.4h0M53.4 -12.0h0M36.5 -26.4h0M41.8 -8.7h0M49.8 -11.4h0M51.0 -17.7h0M42.6 -38.2h0M45.0 -19.6h0M37.1 -35.5h0M28.3 -30.2h0M44.1 -15.4h0M55.7 -0.1h0M44.0 -5.3h0M44.5 -13.4h0M49.9 -9.4h0M39.7 -30.9h0M44.6 -8.7h0M42.1 -14.3h0M51.2 -12.7h0M39.6 -28.7h0M40.6 -17.7h0M53.1 -15.4h0M38.8 -13.7h0M37.9 -27.8h0M33.4 -20.7h0M37.5 -3.7h0M37.7 -6.4h0M35.6 -14.0h0M11.7 -24.3h0M2.8 -34.7h0M18.0 -33.8h0M23.4 -31.3h0M26.2 -32.2h0M12.2 -32.2h0M67.8 25.9h0M44.6 36.8h0M54.2 18.1h0M51.3 40.1h0M41.8 37.2h0M76.3 -41.5h0M89.2 -31.4h0M77.0 -35.6h0M46.9 -36.1h0M72.9 -32.1h0M50.0 -29.9h0M80.3 -31.0h0M76.3 -39.7h0M73.9 -26.1h0M74.2 -40.8h0M68.3 -38.5h0M57.3 -37.6h0M45.4 -36.9h0M87.0 -30.8h0M67.1 -27.0h0M74.7 -38.5h0M45.3 -40.2h0M48.4 -32.8h0M45.4 -27.7h0M69.3 -25.6h0M75.1 -43.4h0M53.9 -40.5h0M45.4 -32.4h0M59.3 -35.9h0M58.9 -25.0h0M58.4 -33.2h0M81.8 -20.2h0M80.1 -18.8h0M87.2 -35.0h0M49.6 -36.1h0M45.6 -42.5h0M64.2 -27.7h0M47.8 -40.1h0M43.4 -28.0h0M69.9 -35.8h0M88.8 -22.6h0M73.1 -23.6h0M52.4 -33.6h0M72.8 -39.5h0M59.9 -32.6h0M46.1 -37.7h0M48.1 -31.6h0M50.7 -34.7h0M75.9 -29.6h0M81.3 -46.7h0M73.3 -42.9h0M75.7 -33.6h0M77.5 -41.7h0M68.9 -20.7h0M64.5 -24.5h0M56.4 -32.6h0M70.3 -22.2h0M82.2 -40.0h0M71.5 -24.7h0M50.2 -25.3h0M45.8 -35.6h0M55.8 -27.5h0M90.8 -32.5h0M90.3 -15.4h0M90.3 -17.5h0M89.5 -24.2h0M88.6 -29.8h0M84.9 -38.6h0M66.4 5.3h0M77.2 -2.7h0M88.4 9.6h0M74.0 4.4h0M64.5 2.3h0M68.7 -8.3h0M78.4 13.4h0M71.3 -4.3h0M88.4 -15.4h0M85.4 -9.1h0M71.4 -0.2h0M75.6 9.2h0M68.2 7.5h0M69.2 25.0h0M-66.1 -22.9h0M-64.2 -24.8h0M-56.9 -29.9h0M-55.6 -20.9h0M-53.1 -21.3h0M-64.9 -17.3h0M-69.2 -27.0h0M-63.9 -18.2h0M-54.6 -27.6h0M-64.8 -15.8h0M-76.0 -19.9h0M-49.8 -28.0h0M-59.9 -18.3h0M-76.7 -24.8h0M-70.6 -18.7h0M-66.5 -25.2h0M-62.6 -30.5h0M-60.2 -32.4h0M-58.8 -20.5h0M-60.4 -22.7h0M-50.4 -29.4h0M-50.8 -25.4h0M-63.6 -21.4h0M-61.8 -31.0h0M-60.1 -21.6h0M-63.3 -26.1h0M-63.1 -27.5h0M-65.1 -20.9h0M-52.1 -26.0h0M-74.0 -22.3h0M-58.8 -33.8h0M-59.6 -27.9h0M-69.1 -25.0h0M-48.8 -23.9h0M-59.5 -30.9h0M-63.0 -18.2h0M-59.4 -32.0h0M-59.5 -29.0h0M-55.9 -29.9h0M-48.8 -27.7h0M-74.7 -19.1h0M-59.1 -26.1h0M-51.1 -20.9h0M-55.4 -22.8h0M-56.0 -23.9h0M-63.0 -24.0h0M-65.8 -25.6h0M-56.5 -33.3h0M-53.7 -28.9h0M-61.4 -23.5h0M-53.0 -27.8h0M-56.8 -28.7h0M-67.9 -25.5h0M-61.5 -28.2h0M-66.4 -34.7h0M-73.1 -25.0h0M-71.4 -20.7h0M-62.9 -21.3h0M-63.0 -29.7h0M-54.6 -23.5h0M-55.5 -27.3h0M-50.2 -23.3h0M-67.0 -24.3h0M-56.0 -18.4h0M-69.3 -26.0h0M-60.5 -23.8h0M-76.2 -23.6h0M-64.6 -31.1h0M-61.9 -19.3h0M-50.5 -27.4h0M-59.9 -25.6h0M-55.7 -25.2h0M-49.0 -22.0h0M-62.4 -33.3h0M-64.0 -29.6h0M-54.9 -28.6h0M-62.6 -28.3h0M-58.5 -32.1h0M-52.9 -28.7h0M-56.3 -27.7h0M-73.8 -19.7h0M-75.4 -23.3h0M-76.3 -21.6h0M-67.0 -26.3h0M-65.0 -33.4h0M-77.2 -24.2h0M-78.3 -18.9h0M-66.5 18.5h0M-58.9 23.5h0M-64.1 19.2h0M-64.9 19.4h0M-74.7 12.0h0M-65.8 18.6h0M-60.8 -6.1h0M-65.4 -5.3h0M-58.8 7.9h0M-62.6 -3.0h0M-62.5 -1.3h0M-59.6 -4.2h0M-58.1 5.1h0M-65.5 -7.2h0M-57.4 -5.9h0M-69.7 -35.9h0M-72.2 -34.0h0M-59.5 -13.2h0M-15.6 -23.5h0M-18.0 -38.5h0M-9.4 -31.9h0M-20.7 -28.8h0M-20.2 -30.8h0" stroke="#8cdcf8" stroke-width="1.40"/><path d="M50.6 -23.8h0M65.0 -28.7h0M61.4 -32.6h0M78.4 -20.6h0M64.5 -26.6h0M58.9 -34.7h0M77.6 -18.7h0M75.8 -18.9h0M76.7 -44.6h0M83.3 -36.7h0M75.3 -27.6h0M73.6 -37.7h0M73.8 -19.5h0M70.0 -33.8h0M68.0 -36.5h0M82.4 -32.1h0M49.3 -42.7h0M94.5 -25.2h0M98.1 -23.4h0M93.1 -31.1h0M90.7 -22.6h0M76.7 -12.9h0M75.2 11.7h0M-70.1 -23.2h0M-80.7 -0.2h0" stroke="#ffd490" stroke-width="1.40"/><path d="M36.7 35.4h0M38.5 36.6h0M43.3 41.5h0M30.6 36.7h0M52.3 37.6h0M35.3 42.1h0M27.8 41.6h0M19.2 38.5h0M41.0 37.0h0M45.5 32.9h0M27.4 31.7h0M44.1 38.7h0M42.7 28.1h0M28.7 49.2h0M18.3 43.9h0M49.3 34.9h0M31.9 33.5h0M40.6 26.3h0M36.0 38.6h0M40.3 30.7h0M37.9 40.7h0M22.4 36.9h0M41.1 40.1h0M45.9 29.1h0M18.0 42.4h0M43.5 26.5h0M36.1 51.1h0M45.1 41.9h0M44.2 37.1h0M41.4 50.1h0M44.1 28.8h0M32.7 50.7h0M35.0 37.6h0M28.2 30.0h0M35.3 29.2h0M50.4 29.2h0M24.1 18.7h0M29.3 19.4h0M19.2 33.5h0M30.4 27.0h0M23.0 23.0h0M23.8 30.1h0M24.7 25.4h0M28.5 29.0h0M47.4 0.6h0M43.4 5.8h0M42.6 0.9h0M40.1 19.3h0M50.4 2.0h0M41.6 20.8h0M36.5 20.8h0M48.4 23.8h0M51.5 23.3h0M24.8 13.9h0M23.9 0.0h0M38.0 -29.8h0M42.3 -10.6h0M32.4 -26.8h0M36.7 -21.4h0M41.8 -30.9h0M52.1 -3.8h0M39.7 -40.6h0M42.6 -3.7h0M54.7 -7.3h0M47.1 -4.8h0M50.0 -26.1h0M40.0 -10.0h0M37.8 -16.0h0M38.0 -39.6h0M38.5 -22.4h0M43.9 -22.2h0M25.3 -12.4h0M28.3 -11.3h0M28.9 -28.0h0M27.9 -15.2h0M18.7 -19.0h0M30.4 -18.7h0M27.4 -0.5h0M37.8 -15.7h0M23.9 -23.9h0M24.6 -27.8h0M26.8 -4.9h0M34.9 -6.1h0M40.6 -4.0h0M37.8 -0.4h0M18.3 -21.6h0M6.7 -31.5h0M21.9 -27.5h0M9.7 -30.1h0M17.7 -26.0h0M33.5 -40.1h0M6.5 -27.4h0M15.4 -18.8h0M18.8 -36.6h0M0.2 -32.6h0M58.7 11.7h0M65.4 30.9h0M62.6 31.1h0M61.3 22.6h0M63.9 18.4h0M64.2 38.3h0M62.7 41.0h0M74.8 -17.9h0M49.4 -31.2h0M79.4 -32.6h0M79.9 -41.6h0M56.2 -30.8h0M52.7 -39.1h0M84.2 -29.0h0M57.3 -35.4h0M51.9 -29.1h0M79.9 -26.7h0M72.5 -36.5h0M76.8 -34.3h0M77.3 -25.2h0M77.1 -26.7h0M79.7 -34.6h0M67.7 -31.8h0M69.7 -19.6h0M69.4 -36.8h0M65.3 -22.0h0M77.9 -40.5h0M54.8 -38.1h0M85.0 -33.0h0M82.6 -44.6h0M84.0 -33.1h0M84.2 -43.2h0M68.5 -33.5h0M63.5 -30.6h0M87.0 -25.4h0M77.6 -28.0h0M60.5 -31.4h0M48.7 -34.1h0M46.5 -29.2h0M87.9 -28.9h0M46.4 -26.9h0M43.4 -29.1h0M86.6 -43.0h0M93.4 -37.2h0M88.7 -45.1h0M89.4 -6.7h0M88.1 -32.5h0M89.3 -16.6h0M86.2 -31.3h0M88.6 -20.6h0M90.1 -19.4h0M90.7 -1.4h0M85.9 -34.4h0M80.1 -9.7h0M80.8 -17.7h0M84.4 7.7h0M63.2 7.5h0M90.1 -12.7h0M71.5 6.0h0M71.8 -10.9h0M82.0 -13.2h0M68.4 9.7h0M74.5 14.0h0M-57.1 -18.2h0M-51.0 -28.1h0M-58.2 -34.4h0M-61.2 -16.8h0M-53.3 -22.6h0M-57.7 -29.7h0M-78.1 -21.8h0M-58.5 -29.1h0M-50.2 -24.6h0M-64.8 -22.4h0M-75.2 -21.4h0M-65.8 -33.9h0M-59.3 -23.7h0M-53.7 -27.3h0M-55.0 -24.7h0M-65.0 -29.8h0M-56.9 -20.4h0M-72.1 -24.4h0M-61.0 -20.4h0M-71.2 -25.0h0M-58.7 -30.4h0M-77.1 -22.1h0M-56.5 -22.2h0M-71.3 -26.3h0M-67.9 -22.9h0M-68.2 -24.6h0M-65.5 -20.1h0M-60.6 -28.1h0M-49.3 -22.8h0M-57.7 -23.4h0M-65.5 -28.6h0M-63.7 -17.2h0M-69.1 -18.2h0M-75.5 -20.6h0M-63.2 -15.5h0M-73.7 -21.6h0M-54.9 -18.2h0M-49.2 -24.6h0M-58.4 -31.3h0M-54.1 -22.8h0M-81.1 -2.2h0M-79.1 -19.0h0M-79.2 7.7h0M-80.6 3.3h0M-67.9 -2.6h0M-68.7 -0.3h0M-69.3 -10.4h0M-45.8 -9.8h0M-30.3 -3.6h0M-11.7 -24.8h0M-14.8 -30.8h0M-14.3 -34.9h0M-13.8 -39.7h0" stroke="#6cc0f4" stroke-width="1.40"/><path d="M50.3 -27.8h0M69.7 -24.2h0M81.0 -21.6h0M91.0 -22.3h0M53.4 -31.2h0M95.0 -27.4h0M67.8 8.2h0M-61.9 -16.0h0M-65.1 -26.9h0" stroke="#ffa060" stroke-width="1.40"/><path d="M42.8 37.9h0M24.4 43.9h0M28.7 35.3h0M42.9 48.7h0M22.4 52.9h0M24.5 33.8h0M53.7 36.3h0M25.5 40.3h0M29.3 50.7h0M54.9 34.8h0M37.0 21.4h0M21.5 32.6h0M48.3 10.2h0M45.1 24.0h0M34.1 9.7h0M32.6 18.3h0M32.2 15.4h0M41.9 -27.4h0M45.3 -23.5h0M46.9 -7.5h0M37.6 -32.7h0M35.4 -39.2h0M36.9 -23.7h0M42.1 -24.1h0M34.8 -22.2h0M43.9 -0.2h0M35.6 -17.2h0M27.2 -18.2h0M35.9 -8.6h0M21.5 -4.5h0M20.3 -24.0h0M71.5 21.8h0M51.0 24.6h0M64.9 24.4h0M60.5 29.4h0M50.5 -28.9h0M46.8 -30.5h0M72.5 -33.2h0M82.1 -23.4h0M70.5 -27.1h0M72.7 -30.6h0M89.5 -15.9h0M89.6 -23.5h0M69.7 -12.2h0M84.4 1.7h0M75.4 6.1h0M70.5 0.0h0M-54.4 -26.6h0M-60.1 -34.5h0M-49.1 -28.6h0M-48.6 -26.8h0M-66.0 -19.2h0M-63.8 -35.1h0M-64.2 -20.6h0M-53.2 -23.4h0M-54.4 -32.2h0M-57.6 -25.2h0M-67.2 -17.4h0M-49.8 -26.6h0M-54.4 -19.0h0M-53.9 -21.8h0M-64.3 -25.8h0M-61.1 -24.4h0M-52.8 -31.2h0M-58.6 24.0h0M-63.2 5.9h0M-45.4 -20.2h0M-11.1 -27.1h0M-18.7 -33.9h0" stroke="#6cc0f4" stroke-width="2.16"/><path d="M28.1 53.1h0M44.7 27.4h0M41.9 34.8h0M49.0 29.1h0M25.3 50.2h0M24.6 36.8h0M33.4 42.9h0M47.1 30.0h0M31.7 47.6h0M39.7 33.9h0M42.2 25.5h0M26.5 43.6h0M41.0 23.9h0M20.1 40.9h0M41.4 38.6h0M44.7 43.7h0M21.9 40.6h0M23.9 39.3h0M31.2 50.6h0M31.8 37.6h0M21.7 49.0h0M17.7 45.3h0M30.5 38.4h0M31.9 26.9h0M35.2 25.1h0M36.3 32.3h0M39.3 42.5h0M26.2 46.1h0M33.3 24.7h0M32.7 49.2h0M21.5 38.3h0M43.5 31.2h0M23.1 34.4h0M30.1 49.4h0M46.3 44.5h0M46.7 35.8h0M23.4 35.8h0M39.7 25.0h0M32.3 30.2h0M28.9 40.7h0M44.1 33.6h0M27.5 40.2h0M41.4 27.6h0M51.1 38.5h0M25.6 44.7h0M19.7 44.3h0M48.2 35.8h0M39.0 48.4h0M20.5 39.4h0M30.3 48.0h0M36.9 39.8h0M34.1 26.0h0M35.7 47.5h0M27.8 50.2h0M26.1 29.2h0M33.9 21.6h0M25.5 20.8h0M27.1 16.4h0M31.0 21.1h0M15.3 24.5h0M25.2 15.2h0M32.7 19.2h0M27.9 21.2h0M26.7 18.9h0M45.8 21.7h0M44.9 0.8h0M43.2 19.5h0M49.8 4.2h0M40.1 9.9h0M46.6 7.3h0M35.2 15.1h0M45.1 5.0h0M49.3 13.5h0M38.6 20.5h0M43.1 22.3h0M45.0 14.4h0M50.8 6.9h0M37.1 14.3h0M44.8 7.1h0M49.2 18.5h0M53.9 4.5h0M55.1 7.3h0M53.2 11.5h0M29.6 5.6h0M32.2 1.2h0M37.1 6.5h0M34.3 12.8h0M24.2 4.4h0M36.9 9.5h0M39.6 -23.9h0M28.8 -32.4h0M47.4 -19.9h0M41.9 -34.7h0M40.2 -33.9h0M46.2 -12.3h0M33.7 -23.9h0M53.3 -19.1h0M48.4 -6.2h0M46.9 -26.2h0M41.0 -2.1h0M43.0 -33.0h0M49.2 -22.4h0M50.3 -1.2h0M35.2 -35.0h0M46.0 -21.4h0M53.1 -1.9h0M36.9 -37.3h0M39.6 -20.0h0M48.4 -3.3h0M53.7 -0.1h0M52.5 -6.2h0M36.9 -19.4h0M26.7 -31.4h0M35.8 -42.3h0M37.0 -43.7h0M31.1 -9.4h0M33.3 -11.5h0M26.7 -23.9h0M21.8 -15.2h0M40.7 -0.8h0M22.4 -7.4h0M21.6 -11.7h0M36.2 -11.2h0M31.8 -6.3h0M35.0 -0.4h0M31.6 -0.1h0M33.5 -23.6h0M13.6 -35.0h0M10.5 -35.1h0M-2.7 -32.7h0M3.4 -31.6h0M33.5 -44.2h0M19.2 -45.5h0M36.6 -48.1h0M60.4 37.9h0M67.6 36.8h0M68.5 31.8h0M65.5 27.9h0M89.0 -23.9h0M61.2 -34.0h0M70.9 -35.1h0M57.5 -26.9h0M61.9 -30.5h0M58.2 -31.9h0M48.9 -41.5h0M74.8 -25.1h0M49.6 -39.4h0M84.6 -30.8h0M48.0 -29.0h0M41.9 -40.8h0M77.5 -46.7h0M82.4 -38.9h0M73.3 -41.9h0M85.3 -28.1h0M69.2 -22.4h0M82.0 -30.7h0M76.6 -30.7h0M77.0 -19.8h0M66.4 -29.8h0M63.1 -26.8h0M76.7 -28.7h0M66.2 -22.7h0M43.3 -40.7h0M83.1 -23.9h0M60.0 -28.7h0M71.4 -31.8h0M75.9 -38.7h0M54.3 -34.9h0M84.7 -44.9h0M84.2 -40.6h0M87.5 -32.9h0M89.7 -9.2h0M91.3 -20.7h0M88.6 -25.1h0M89.9 -24.3h0M88.4 -7.6h0M89.8 -26.4h0M90.8 -7.7h0M78.3 -17.6h0M62.1 5.6h0M66.2 -2.8h0M82.8 -2.9h0M66.8 9.1h0M60.9 3.0h0M83.0 -10.0h0M78.5 -5.5h0M75.3 7.1h0M68.4 3.9h0M68.9 25.5h0M-58.1 -24.6h0M-60.8 -18.0h0M-51.9 -20.0h0M-62.4 -24.7h0M-61.7 -32.4h0M-72.3 -19.2h0M-62.8 -31.4h0M-59.4 -19.5h0M-61.2 -26.4h0M-54.7 -25.6h0M-75.5 -26.2h0M-65.5 -31.0h0M-57.0 -22.9h0M-60.5 -30.6h0M-63.6 -28.6h0M-68.9 -20.0h0M-65.8 -29.6h0M-57.7 -31.9h0M-53.0 -24.8h0M-51.6 -29.9h0M-72.8 -22.1h0M-65.8 -23.7h0M-75.1 -19.9h0M-54.0 -19.8h0M-56.7 -25.8h0M-64.7 -18.5h0M-59.5 -22.4h0M-56.7 -30.8h0M-70.0 -21.9h0M-72.2 -26.8h0M-53.4 -19.1h0M-54.1 -24.4h0M-58.8 -32.9h0M-67.5 -19.7h0M-57.2 -26.5h0M-55.7 -21.9h0M-53.8 -31.5h0M-56.5 -32.0h0M-51.5 -23.4h0M-70.9 -22.8h0M-61.2 -21.8h0M-73.2 -22.8h0M-66.3 -18.3h0M-60.9 -25.4h0M-51.4 -27.3h0M-68.6 15.5h0M-70.3 16.4h0M-71.2 13.1h0M-78.6 8.3h0M-57.1 7.4h0M-72.1 5.7h0M-64.8 1.9h0M-71.4 10.3h0M-71.2 7.8h0M-68.1 7.1h0M-60.7 -39.7h0M-66.9 -12.8h0M-68.6 -16.0h0M-62.8 -15.3h0M-48.8 -10.3h0M-44.8 17.5h0M-51.4 -5.0h0M-50.4 -12.2h0M-48.1 12.4h0M-39.3 -21.6h0M-34.7 -29.3h0M-26.6 -25.4h0M-22.3 -17.1h0M-8.7 -27.2h0M-19.0 -29.0h0M-13.2 -36.5h0M-17.4 -28.4h0M-14.3 -38.0h0M-13.0 -31.6h0M-15.0 -29.2h0" stroke="#4ca0f4" stroke-width="2.16"/><path d="M54.9 -39.6h0M81.0 -40.8h0M86.4 -28.4h0M-82.2 -18.4h0M-82.7 -12.2h0" stroke="#ff6842" stroke-width="2.16"/><path d="M38.8 38.9h0M46.1 26.7h0M33.6 27.4h0M25.8 37.4h0M38.9 31.1h0M34.1 50.0h0M30.9 40.3h0M28.4 43.0h0M27.0 51.4h0M27.1 35.0h0M36.2 41.0h0M33.1 31.4h0M38.6 26.3h0M34.0 34.5h0M35.3 46.1h0M22.4 51.1h0M31.7 45.7h0M22.7 45.9h0M31.1 31.3h0M45.1 30.6h0M32.4 28.5h0M22.9 48.3h0M28.9 31.3h0M41.8 30.7h0M28.0 33.4h0M38.7 28.8h0M26.2 32.9h0M49.0 33.5h0M42.8 36.5h0M51.0 40.0h0M41.7 41.4h0M42.1 47.5h0M40.1 28.4h0M37.5 42.7h0M31.1 42.3h0M26.7 52.8h0M17.7 38.9h0M28.0 26.7h0M19.7 24.6h0M29.2 17.1h0M26.3 31.4h0M18.5 28.8h0M22.0 25.0h0M14.5 26.5h0M40.8 0.5h0M49.5 0.3h0M47.6 15.2h0M36.6 12.1h0M41.3 3.0h0M46.1 9.9h0M43.4 24.4h0M40.5 22.2h0M39.1 13.8h0M49.7 8.5h0M43.4 3.2h0M43.2 12.8h0M44.3 8.9h0M34.8 19.9h0M42.3 9.3h0M38.5 0.3h0M43.1 7.6h0M43.7 16.2h0M41.6 23.6h0M38.7 22.3h0M52.0 19.2h0M50.8 10.4h0M25.9 6.7h0M23.0 7.8h0M27.8 9.6h0M31.9 7.9h0M37.7 3.6h0M34.9 0.1h0M44.3 -10.7h0M34.2 -31.0h0M41.9 -20.9h0M51.3 -7.9h0M30.9 -32.7h0M54.1 -5.0h0M42.8 -17.1h0M38.3 -18.1h0M44.8 -25.5h0M31.4 -28.8h0M35.4 -29.4h0M48.4 -14.3h0M35.5 -32.6h0M40.8 -25.5h0M33.0 -3.3h0M29.4 -2.5h0M28.7 -6.9h0M31.2 -26.5h0M19.2 -13.3h0M24.1 -5.5h0M19.9 -31.7h0M14.6 -30.4h0M15.8 -21.9h0M5.7 -35.8h0M16.9 -28.9h0M13.1 -39.4h0M3.2 -27.6h0M11.1 -27.6h0M20.3 -48.1h0M64.3 15.0h0M58.8 25.7h0M59.6 6.5h0M55.6 10.8h0M64.4 21.6h0M54.3 14.4h0M68.3 -26.4h0M83.0 -28.5h0M77.0 -29.7h0M55.2 -37.1h0M70.6 -28.2h0M51.1 -43.3h0M45.7 -34.1h0M43.2 -30.9h0M80.5 -27.6h0M43.9 -39.7h0M59.3 -23.7h0M88.7 -18.6h0M90.2 -18.9h0M83.3 -6.2h0M90.1 -9.8h0M74.2 -16.6h0M63.4 -1.9h0M75.5 10.5h0M75.5 5.4h0M67.9 27.3h0M66.3 28.1h0M-57.1 -27.3h0M-59.1 -21.5h0M-60.5 -29.1h0M-62.7 -19.4h0M-61.4 -34.4h0M-66.6 -21.0h0M-64.4 -32.1h0M-61.9 -27.0h0M-66.8 -27.5h0M-58.2 -22.5h0M-59.2 -35.4h0M-67.4 -18.7h0M-69.7 -19.0h0M-72.0 -23.0h0M-70.9 -17.4h0M-58.2 -25.9h0M-59.0 -25.3h0M-68.5 16.9h0M-58.9 -7.2h0M-70.9 -4.8h0M-58.6 -2.0h0M-62.8 -5.5h0M-57.2 11.4h0M-66.1 13.4h0M-61.6 4.7h0M-64.3 -2.7h0M-54.3 -35.5h0M-76.6 -33.9h0M-64.5 -36.4h0M-58.5 -36.9h0M-47.4 -23.5h0M-41.2 -30.9h0M-49.5 -18.5h0M-50.8 4.5h0M-48.9 -29.9h0M-46.5 25.7h0M-47.1 -1.6h0M-56.6 -2.7h0M-41.5 -11.0h0M-43.7 14.7h0M-34.3 -10.2h0M-37.1 -12.1h0M-32.7 -25.8h0M-25.8 -1.8h0M-14.4 -26.1h0M-11.0 -31.5h0M-18.0 -31.7h0M-17.8 -40.1h0M-17.0 -30.0h0M-10.5 -35.9h0M-16.2 -38.4h0M-16.9 -34.1h0" stroke="#3a78f4" stroke-width="2.16"/><path d="M-80.7 -15.4h0" stroke="#ff3a38" stroke-width="2.16"/><path d="M32.3 41.5h0M35.2 27.8h0M37.4 28.2h0M26.4 39.2h0M45.8 37.3h0M24.7 46.4h0M36.2 44.2h0M37.4 33.8h0M40.4 35.6h0M41.3 43.4h0M40.7 48.7h0M21.8 47.1h0M51.6 35.8h0M38.9 23.8h0M32.8 35.4h0M19.0 40.0h0M37.7 24.7h0M42.5 39.5h0M20.3 37.2h0M34.2 32.8h0M23.6 37.9h0M35.1 39.6h0M32.7 24.3h0M40.0 6.9h0M41.3 11.3h0M47.0 4.9h0M40.5 16.0h0M34.3 17.8h0M44.4 17.9h0M46.2 2.6h0M39.7 12.0h0M49.6 11.6h0M39.5 1.8h0M46.7 26.4h0M51.4 7.1h0M51.7 0.6h0M28.8 15.5h0M37.8 0.2h0M38.9 -25.9h0M45.5 -1.8h0M47.4 -23.6h0M40.5 -12.7h0M43.9 -35.3h0M33.1 -38.4h0M51.8 -10.6h0M43.2 -19.4h0M44.6 -3.5h0M21.0 -21.5h0M33.0 -14.2h0M21.8 -0.0h0M21.6 -34.3h0M15.9 -41.8h0M20.5 -24.5h0M1.9 -37.4h0M18.6 -22.4h0M66.9 12.9h0M57.8 17.3h0M69.7 34.4h0M56.2 2.2h0M57.5 30.9h0M78.3 -37.5h0M90.0 -27.2h0M85.1 -35.3h0M89.3 -29.4h0M90.5 -15.9h0M80.2 -3.0h0M76.3 8.2h0M69.1 5.2h0M68.6 3.8h0M67.5 24.8h0M67.8 27.8h0M-65.0 -25.5h0M-62.0 -22.3h0M-52.2 -30.6h0M-77.1 -20.8h0M-62.1 -23.9h0M-57.7 -19.9h0M-70.7 14.6h0M-56.7 23.8h0M-73.9 12.9h0M-66.5 8.0h0M-71.9 1.4h0M-63.8 0.4h0M-61.6 -8.6h0M-71.7 -0.8h0M-53.4 13.4h0M-46.5 14.4h0M-52.5 6.3h0M-55.2 -9.2h0M-43.8 23.7h0M-47.1 -14.5h0M-45.2 19.8h0M-44.9 -27.6h0M-50.4 18.2h0M-32.7 -17.3h0M-29.3 -22.9h0M-38.7 11.4h0M-27.5 -30.4h0M-40.2 -7.9h0M-36.1 -4.6h0M-38.1 18.2h0M-33.6 -21.0h0M-25.3 -20.1h0M-34.3 -1.3h0M-31.6 -15.8h0M-29.0 11.6h0M-19.9 -27.4h0M-15.4 -33.4h0M-13.1 -23.7h0M-17.4 -25.3h0M-21.3 -32.2h0M-10.3 -28.8h0M-11.3 -38.3h0M-12.3 -33.8h0M-18.2 -36.1h0M-21.6 -27.2h0" stroke="#2a48f4" stroke-width="2.16"/><path d="M29.8 42.8h0M20.3 42.6h0M25.1 35.4h0M34.9 36.1h0M42.6 32.3h0M39.0 35.2h0M21.9 43.0h0M31.0 28.7h0M27.8 44.4h0M41.4 44.8h0M22.5 39.3h0M18.3 31.5h0M41.3 4.9h0M48.4 2.4h0M46.2 16.8h0M45.7 23.4h0M55.0 2.1h0M31.5 11.6h0M37.7 -41.6h0M46.2 -9.8h0M40.0 -37.8h0M24.3 -9.3h0M31.2 -22.5h0M9.5 -38.1h0M79.6 -38.8h0M58.0 -26.0h0M84.0 -43.1h0M85.8 -39.9h0M88.7 -1.7h0M64.6 -5.0h0M-68.4 16.1h0M-56.4 24.6h0M-66.6 -1.3h0M-69.1 5.1h0M-66.5 6.1h0M-72.0 -14.4h0M-52.8 -15.5h0M-50.8 -0.8h0M-48.7 -7.1h0M-47.9 19.8h0M-43.5 -6.0h0M-37.7 -17.5h0M-26.5 -9.7h0M-25.5 6.9h0M-15.4 -27.4h0M-16.5 -36.2h0M-22.8 -29.0h0" stroke="#1a14f0" stroke-width="2.16"/><path d="M29.5 29.5h0M36.3 30.2h0M41.3 29.2h0M38.0 32.4h0M35.6 20.6h0M16.0 28.2h0M41.9 14.7h0M37.9 7.9h0M38.6 3.4h0M50.8 15.9h0M26.6 2.5h0M34.7 -36.9h0M89.5 -9.6h0M89.0 -25.4h0M90.7 -21.8h0M85.6 -12.1h0M69.3 25.1h0M-68.3 -7.3h0M-61.9 11.5h0M-64.4 -9.0h0M-69.6 12.3h0M-77.2 -25.4h0M-80.1 -24.0h0M-69.4 -32.4h0M-64.2 -11.6h0M-48.6 -3.9h0M-52.1 -18.2h0M-38.9 -28.8h0M-51.0 11.0h0M-54.0 -5.2h0M-53.6 2.2h0M-46.1 -30.7h0M-41.5 21.2h0M-30.9 -28.6h0M-41.6 10.5h0M-33.9 -6.2h0M-12.7 -29.9h0M-17.3 -23.6h0" stroke="#2008d0" stroke-width="2.16"/></g></g>
<g><g fill="none" stroke="#b4b4b4" stroke-width="0.36"><circle r="88.5"/><circle r="41.1"/><path d="M0 0L0.0 107.2"/><path d="M0 0L53.6 92.8"/><path d="M0 0L92.8 53.6"/><path d="M0 0L107.2 0.0"/><path d="M0 0L92.8 -53.6"/><path d="M0 0L53.6 -92.8"/><path d="M0 0L0.0 -107.2"/><path d="M0 0L-53.6 -92.8"/><path d="M0 0L-92.8 -53.6"/><path d="M0 0L-107.2 -0.0"/><path d="M0 0L-92.8 53.6"/><path d="M0 0L-53.6 92.8"/></g><g fill="none" stroke="#707070" stroke-width="0.4" clip-path="url(#lc)"><circle r="88.5"/><circle r="41.1"/><path d="M0 0L0.0 107.2"/><path d="M0 0L53.6 92.8"/><path d="M0 0L92.8 53.6"/><path d="M0 0L107.2 0.0"/><path d="M0 0L92.8 -53.6"/><path d="M0 0L53.6 -92.8"/><path d="M0 0L0.0 -107.2"/><path d="M0 0L-53.6 -92.8"/><path d="M0 0L-92.8 -53.6"/><path d="M0 0L-107.2 -0.0"/><path d="M0 0L-92.8 53.6"/><path d="M0 0L-53.6 92.8"/></g><g stroke="#222" stroke-width="0.6"><path d="M0.0 106.2L0.0 109.1"/><path d="M53.1 92.0L54.5 94.5"/><path d="M92.0 53.1L94.5 54.6"/><path d="M106.2 0.0L109.1 0.0"/><path d="M92.0 -53.1L94.5 -54.5"/><path d="M53.1 -92.0L54.5 -94.5"/><path d="M0.0 -106.2L0.0 -109.1"/><path d="M-53.1 -92.0L-54.6 -94.5"/><path d="M-92.0 -53.1L-94.5 -54.6"/><path d="M-106.2 -0.0L-109.1 -0.0"/><path d="M-92.0 53.1L-94.5 54.6"/><path d="M-53.1 92.0L-54.6 94.5"/></g><circle r="107.2" fill="none" stroke="#111" stroke-width="1.0"/><circle r="2.3" fill="#000"/><text transform="translate(0.0 -114.8) rotate(0)" font-size="9.6" text-anchor="middle" x="0.0" y="3.4" fill="#111">180<tspan font-size="7" dy="-4">o</tspan><tspan dy="4">W</tspan></text><text transform="translate(-57.4 -99.4) rotate(-30)" font-size="9.6" text-anchor="middle" x="0.0" y="3.4" fill="#111">150<tspan font-size="7" dy="-4">o</tspan><tspan dy="4">W</tspan></text><text transform="translate(-99.4 -57.4) rotate(-60)" font-size="9.6" text-anchor="middle" x="0.0" y="3.4" fill="#111">120<tspan font-size="7" dy="-4">o</tspan><tspan dy="4">W</tspan></text><text transform="translate(-118.0 0.0) rotate(90)" font-size="9.6" text-anchor="middle" x="1.7" y="3.4" fill="#111">90<tspan font-size="7" dy="-4">o</tspan><tspan dy="4">W</tspan></text><text transform="translate(-102.2 59.0) rotate(60)" font-size="9.6" text-anchor="middle" x="1.7" y="3.4" fill="#111">60<tspan font-size="7" dy="-4">o</tspan><tspan dy="4">W</tspan></text><text transform="translate(-59.0 102.2) rotate(30)" font-size="9.6" text-anchor="middle" x="1.7" y="3.4" fill="#111">30<tspan font-size="7" dy="-4">o</tspan><tspan dy="4">W</tspan></text><text transform="translate(0.0 118.0) rotate(0)" font-size="9.6" text-anchor="middle" x="0.0" y="3.4" fill="#111">0<tspan font-size="7" dy="-4">o</tspan><tspan dy="4"></tspan></text><text transform="translate(59.0 102.2) rotate(-30)" font-size="9.6" text-anchor="middle" x="1.7" y="3.4" fill="#111">30<tspan font-size="7" dy="-4">o</tspan><tspan dy="4">E</tspan></text><text transform="translate(102.2 59.0) rotate(-60)" font-size="9.6" text-anchor="middle" x="1.7" y="3.4" fill="#111">60<tspan font-size="7" dy="-4">o</tspan><tspan dy="4">E</tspan></text><text transform="translate(118.0 0.0) rotate(-90)" font-size="9.6" text-anchor="middle" x="1.7" y="3.4" fill="#111">90<tspan font-size="7" dy="-4">o</tspan><tspan dy="4">E</tspan></text><text transform="translate(99.4 -57.4) rotate(60)" font-size="9.6" text-anchor="middle" x="0.0" y="3.4" fill="#111">120<tspan font-size="7" dy="-4">o</tspan><tspan dy="4">E</tspan></text><text transform="translate(57.4 -99.4) rotate(30)" font-size="9.6" text-anchor="middle" x="0.0" y="3.4" fill="#111">150<tspan font-size="7" dy="-4">o</tspan><tspan dy="4">E</tspan></text><path d="M-6.5 -87.3h4" stroke="#222" stroke-width="0.7"/><text x="5" y="-83.9" font-size="9.6" fill="#111">30<tspan font-size="7" dy="-4">o</tspan><tspan dy="4">N</tspan></text><path d="M-6.5 -39.9h4" stroke="#222" stroke-width="0.7"/><text x="5" y="-36.5" font-size="9.6" fill="#111">60<tspan font-size="7" dy="-4">o</tspan><tspan dy="4">N</tspan></text><rect x="127.9" y="91.83" width="6.0" height="11.62" fill="#2008d0"/><rect x="127.9" y="80.37" width="6.0" height="11.62" fill="#1a14f0"/><rect x="127.9" y="68.90" width="6.0" height="11.62" fill="#2a48f4"/><rect x="127.9" y="57.43" width="6.0" height="11.62" fill="#3a78f4"/><rect x="127.9" y="45.97" width="6.0" height="11.62" fill="#4ca0f4"/><rect x="127.9" y="34.50" width="6.0" height="11.62" fill="#6cc0f4"/><rect x="127.9" y="23.03" width="6.0" height="11.62" fill="#8cdcf8"/><rect x="127.9" y="11.57" width="6.0" height="11.62" fill="#b0ecfa"/><rect x="127.9" y="0.10" width="6.0" height="11.62" fill="#f0fcff"/><rect x="127.9" y="-11.37" width="6.0" height="11.62" fill="#fffff0"/><rect x="127.9" y="-22.83" width="6.0" height="11.62" fill="#fff5b0"/><rect x="127.9" y="-34.30" width="6.0" height="11.62" fill="#ffd490"/><rect x="127.9" y="-45.77" width="6.0" height="11.62" fill="#ffa060"/><rect x="127.9" y="-57.23" width="6.0" height="11.62" fill="#ff6842"/><rect x="127.9" y="-68.70" width="6.0" height="11.62" fill="#ff3a38"/><rect x="127.9" y="-80.17" width="6.0" height="11.62" fill="#fb1d2c"/><rect x="127.9" y="-91.63" width="6.0" height="11.62" fill="#d8152e"/><rect x="127.9" y="-103.10" width="6.0" height="11.62" fill="#b00f28"/><path d="M127.9 -103.0l3.0 -4.3l3.0 4.3z" fill="#ffee00"/><path d="M127.9 103.2l3.0 3.8l3.0 -3.8z" fill="#0c0880"/><path d="M127.9 -103.1v206.4M133.9 -103.1v206.4" stroke="#aaa" stroke-width="0.3" fill="none"/><text x="136.5" y="106.3" font-size="8.3" fill="#222">-1</text><text x="136.5" y="85.7" font-size="8.3" fill="#222">-0.8</text><text x="136.5" y="65.0" font-size="8.3" fill="#222">-0.6</text><text x="136.5" y="44.4" font-size="8.3" fill="#222">-0.4</text><text x="136.5" y="23.7" font-size="8.3" fill="#222">-0.2</text><text x="136.5" y="3.1" font-size="8.3" fill="#222">0</text><text x="136.5" y="-17.5" font-size="8.3" fill="#222">0.2</text><text x="136.5" y="-38.2" font-size="8.3" fill="#222">0.4</text><text x="136.5" y="-58.8" font-size="8.3" fill="#222">0.6</text><text x="136.5" y="-79.5" font-size="8.3" fill="#222">0.8</text><text x="136.5" y="-100.1" font-size="8.3" fill="#222">1</text><text transform="translate(161.2 -1.0)  rotate(-90)" font-size="8.3" text-anchor="middle" fill="#222">R</text></g>
<text class="s" x="-105" y="-88.6" font-size="14.2" fill="#111">(a)</text>
</g>
<path d="M90.40 188.30L90.40 159.90A28.4 28.4 0 0 0 88.62 159.96Z" fill="#ff0000" stroke="#222" stroke-width="0.35" stroke-linejoin="round"/><path d="M90.40 188.30L88.62 159.96A28.4 28.4 0 0 0 92.18 216.64Z" fill="#0000ff" stroke="#222" stroke-width="0.35" stroke-linejoin="round"/><path d="M90.40 188.30L92.18 216.64A28.4 28.4 0 0 0 102.49 214.00Z" fill="#ff8000" stroke="#222" stroke-width="0.35" stroke-linejoin="round"/><path d="M90.40 188.30L102.49 214.00A28.4 28.4 0 0 0 90.40 159.90Z" fill="#00ffff" stroke="#222" stroke-width="0.35" stroke-linejoin="round"/><text x="89.6" y="155.7" font-size="6.1" text-anchor="middle" fill="#111">1%</text><text x="53.0" y="192.9" font-size="6.1" text-anchor="middle" fill="#111">50%</text><text x="98.3" y="224.7" font-size="6.1" text-anchor="middle" fill="#111">6%</text><text x="125.2" y="183.8" font-size="6.1" text-anchor="middle" fill="#111">43%</text>
<g transform="translate(414.2 123.0)">
<use href="#land"/>
<g clip-path="url(#cp)"><g fill="none" stroke-linecap="round"><path d="M62.5 -33.8h0M78.4 -20.6h0M74.4 -31.6h0M77.6 -18.7h0M43.4 -28.0h0M61.3 -24.4h0M82.3 -37.3h0M43.3 -40.7h0M78.2 -30.2h0M88.6 -20.6h0M85.9 -34.4h0" stroke="#fffff0" stroke-width="1.40"/><path d="M58.6 -37.5h0M46.9 -36.1h0M77.5 -46.7h0M83.3 -36.7h0" stroke="#f0fcff" stroke-width="1.40"/><path d="M44.2 -30.1h0M67.7 -23.9h0M48.9 -41.5h0M51.9 -29.1h0M44.0 -27.0h0M82.0 -27.0h0M69.7 -24.2h0M84.6 -30.8h0M76.8 -34.3h0M66.1 -27.8h0M87.0 -30.8h0M67.1 -27.0h0M73.2 -27.1h0M57.8 -28.9h0M77.9 -40.5h0M54.9 -39.6h0M79.1 -43.5h0M72.6 -24.6h0M75.2 -40.2h0M80.1 -22.6h0M65.5 -30.7h0M81.2 -45.6h0M66.2 -22.7h0M70.8 -20.6h0M47.9 -41.9h0M48.7 -34.1h0M53.4 -31.2h0M50.2 -25.3h0M42.4 -29.8h0M58.0 -26.0h0M54.3 -34.9h0M73.5 -20.5h0M95.5 -29.8h0M89.5 -9.6h0M90.7 -1.4h0M70.1 17.7h0" stroke="#fff5b0" stroke-width="1.40"/><path d="M75.6 -37.7h0M72.8 -39.5h0" stroke="#b0ecfa" stroke-width="1.40"/><path d="M76.3 -41.5h0M89.0 -23.9h0M73.9 -43.9h0M65.0 -28.7h0M51.3 -36.1h0M81.9 -36.0h0M47.0 -32.5h0M44.5 -35.6h0M50.3 -27.8h0M77.0 -29.7h0M84.2 -29.0h0M64.3 -23.4h0M81.1 -29.9h0M75.3 -41.8h0M48.0 -29.0h0M67.3 -30.8h0M45.4 -27.7h0M81.3 -38.7h0M61.1 -27.4h0M69.2 -22.4h0M66.2 -34.5h0M86.8 -23.5h0M44.2 -42.3h0M48.0 -30.2h0M69.9 -35.8h0M85.0 -33.0h0M43.2 -30.9h0M67.5 -18.7h0M84.5 -32.0h0M86.8 -27.2h0M81.0 -21.6h0M79.6 -38.8h0M60.4 -24.8h0M52.5 -27.9h0M64.5 -24.5h0M56.4 -32.6h0M68.5 -15.9h0M59.3 -23.7h0M87.9 -28.9h0M89.0 -37.1h0M90.8 -32.5h0M89.0 -25.4h0M84.2 -40.6h0M88.6 -25.1h0M84.4 7.7h0M68.4 9.7h0M75.4 6.1h0M70.5 0.0h0" stroke="#ffd490" stroke-width="1.40"/><path d="M61.2 -34.0h0M70.9 -35.1h0M58.3 -39.5h0M84.6 -22.3h0M79.9 -41.6h0M54.7 -32.1h0M66.9 -35.6h0M50.0 -29.9h0M74.8 -25.1h0M85.4 -20.0h0M70.6 -28.2h0M57.1 -39.6h0M79.4 -39.9h0M58.9 -34.7h0M67.7 -31.8h0M69.3 -25.6h0M75.1 -43.4h0M82.1 -23.4h0M67.4 -16.8h0M73.9 -29.7h0M69.2 -17.6h0M58.9 -25.0h0M81.8 -20.2h0M75.2 -26.1h0M76.6 -30.7h0M65.3 -22.0h0M88.8 -30.3h0M82.9 -33.2h0M71.9 -35.3h0M88.8 -22.6h0M74.3 -37.0h0M55.0 -34.2h0M70.5 -27.1h0M74.7 -23.6h0M71.5 -29.2h0M73.1 -23.6h0M65.1 -32.8h0M70.7 -39.1h0M63.9 -31.8h0M84.2 -43.2h0M78.3 -37.5h0M81.3 -46.7h0M73.3 -42.9h0M70.3 -22.2h0M60.5 -31.4h0M82.2 -40.0h0M46.5 -29.2h0M90.0 -27.2h0M72.6 -25.9h0M98.1 -23.4h0M93.4 -37.2h0M89.5 -15.9h0M84.0 -43.1h0M86.3 -36.6h0M90.3 -17.5h0M74.3 -9.3h0" stroke="#ffa060" stroke-width="1.40"/><path d="M53.9 -33.2h0M58.2 -31.9h0M85.8 -30.5h0M66.8 -32.2h0M72.5 -36.5h0M41.9 -40.8h0M73.3 -41.9h0M71.7 -23.3h0M80.4 -37.6h0M87.2 -35.0h0M45.6 -42.5h0M73.8 -19.5h0M71.6 -41.1h0M84.1 -27.5h0M44.9 -29.0h0M83.3 -41.7h0M68.0 -36.5h0M63.5 -30.6h0M60.0 -28.7h0M71.4 -31.8h0M75.9 -38.7h0M70.3 -25.2h0M84.7 -44.9h0M88.7 -1.7h0M88.5 6.8h0" stroke="#ffa060" stroke-width="2.16"/><path d="M58.7 11.7h0M61.3 22.6h0M55.7 5.0h0M53.5 -29.6h0M56.5 -34.4h0M83.0 -28.5h0M57.5 -26.9h0M80.6 -28.9h0M54.0 -36.1h0M50.9 -31.6h0M81.9 -25.5h0M49.1 -27.5h0M52.7 -39.1h0M47.2 -28.2h0M80.2 -33.3h0M85.6 -26.8h0M76.3 -39.7h0M50.5 -28.9h0M80.8 -42.1h0M74.2 -40.8h0M68.3 -38.5h0M70.9 -38.0h0M80.4 -36.0h0M57.3 -35.4h0M77.0 -33.3h0M68.6 -30.9h0M46.8 -30.5h0M76.5 -43.1h0M57.3 -37.6h0M50.9 -37.8h0M79.5 -29.9h0M52.9 -35.9h0M62.7 -32.4h0M67.0 -25.2h0M79.7 -34.6h0M74.7 -38.5h0M81.1 -34.9h0M48.4 -32.8h0M73.3 -35.3h0M59.3 -35.9h0M69.4 -36.8h0M48.3 -36.0h0M83.4 -21.0h0M49.4 -40.6h0M85.6 -37.7h0M75.3 -27.6h0M77.0 -19.8h0M78.0 -44.7h0M47.8 -40.1h0M60.4 -34.9h0M45.1 -38.6h0M71.1 -32.9h0M54.9 -28.6h0M54.8 -38.1h0M83.6 -34.9h0M85.6 -24.2h0M65.6 -23.8h0M45.2 -30.9h0M43.8 -37.4h0M72.3 -21.1h0M75.3 -20.0h0M66.7 -33.4h0M63.3 -23.8h0M80.5 -27.6h0M74.7 -35.1h0M71.2 -26.0h0M49.3 -42.7h0M84.8 -36.9h0M68.9 -20.7h0M56.7 -28.5h0M76.1 -22.1h0M51.7 -32.5h0M43.9 -39.7h0M73.9 -33.5h0M87.7 -22.0h0M70.8 -16.7h0M90.5 -43.9h0M95.0 -27.4h0M89.7 -41.5h0M88.7 -18.6h0M90.3 -15.4h0M90.7 -21.8h0M89.3 -16.6h0M88.6 -29.8h0M85.1 -35.3h0M90.8 -7.7h0M89.6 -23.5h0M90.7 -22.6h0M89.3 -29.4h0M90.3 -22.4h0M66.2 -2.8h0M78.4 13.4h0M69.7 -12.2h0M76.7 -12.9h0M85.6 -12.1h0M63.2 7.5h0M82.8 -2.9h0M68.3 5.7h0" stroke="#ff6842" stroke-width="2.16"/><path d="M45.3 -23.5h0M37.7 -41.6h0M36.9 -37.3h0M36.9 -19.4h0M34.8 -22.2h0M50.6 -23.8h0M35.8 -42.3h0M35.6 -17.2h0M20.3 -24.0h0M18.3 -21.6h0M33.5 -23.6h0M57.8 17.3h0M51.3 40.1h0M60.5 29.4h0M77.0 -32.1h0M74.8 -17.9h0M57.4 -31.1h0M61.4 -32.6h0M79.4 -32.6h0M82.5 -34.3h0M43.7 -31.9h0M47.1 -39.1h0M61.9 -30.5h0M64.5 -26.6h0M72.9 -32.1h0M71.0 -18.3h0M73.9 -26.1h0M78.5 -31.9h0M55.2 -37.1h0M72.5 -33.2h0M66.5 -20.3h0M72.2 -18.6h0M77.3 -25.2h0M82.6 -22.2h0M65.9 -25.7h0M82.6 -29.6h0M53.9 -40.5h0M69.7 -19.6h0M85.3 -28.1h0M79.3 -27.9h0M75.8 -18.9h0M74.7 -21.0h0M78.2 -43.0h0M82.0 -30.7h0M65.7 -38.5h0M80.1 -18.8h0M49.6 -36.1h0M51.1 -43.3h0M45.7 -34.1h0M46.7 -41.3h0M69.3 -32.0h0M62.5 -28.4h0M86.3 -22.4h0M50.0 -32.3h0M78.5 -23.0h0M66.4 -29.8h0M50.9 -39.2h0M65.8 -19.4h0M49.7 -38.2h0M53.7 -41.8h0M71.9 -27.1h0M82.6 -44.6h0M73.0 -28.8h0M61.5 -25.6h0M52.4 -33.6h0M85.9 -21.1h0M70.0 -33.8h0M46.1 -37.7h0M56.1 -29.4h0M84.0 -33.1h0M82.4 -32.1h0M54.5 -30.8h0M68.5 -33.5h0M77.5 -41.7h0M60.3 -38.3h0M77.6 -28.0h0M71.5 -24.7h0M91.0 -22.3h0M57.5 -33.9h0M86.4 -28.4h0M45.8 -35.6h0M55.8 -27.5h0M94.5 -25.2h0M92.7 -29.0h0M88.7 -45.1h0M93.1 -31.1h0M90.7 -25.7h0M89.4 -6.7h0M87.9 -6.3h0M89.7 -9.2h0M91.3 -20.7h0M89.9 -17.8h0M85.8 -39.9h0M88.2 -20.2h0M62.1 5.6h0M89.4 -3.7h0M80.8 -17.7h0M58.1 2.8h0M64.6 -5.0h0M74.0 4.4h0M66.8 9.1h0M84.4 1.7h0M85.4 -9.1h0M91.7 -0.4h0M75.6 6.4h0M75.3 7.1h0M73.3 17.3h0M75.6 9.2h0M75.1 15.1h0M69.1 5.2h0M-57.7 -19.9h0M-80.6 3.3h0M-82.2 -18.4h0M-66.5 18.5h0M-58.8 7.9h0M-68.3 -7.3h0M-72.1 5.7h0M-71.4 10.3h0M-64.2 -11.6h0M-23.7 -31.2h0" stroke="#ff3a38" stroke-width="2.16"/><path d="M42.8 37.9h0M41.9 34.8h0M40.6 46.0h0M42.6 32.3h0M47.1 30.0h0M36.2 44.2h0M31.7 47.6h0M28.7 49.2h0M40.0 49.9h0M51.0 40.0h0M33.3 37.1h0M23.4 35.8h0M49.6 30.9h0M43.5 26.5h0M29.3 50.7h0M22.5 39.3h0M50.4 29.2h0M35.7 47.5h0M31.0 21.1h0M21.5 32.6h0M36.4 18.6h0M40.5 22.2h0M43.4 3.2h0M36.5 20.8h0M28.5 0.3h0M36.5 -26.4h0M41.9 -27.4h0M41.9 -34.7h0M45.5 -1.8h0M50.0 -5.0h0M46.9 -26.2h0M51.1 -14.7h0M49.8 -19.8h0M54.1 -5.0h0M35.4 -39.2h0M41.5 -6.5h0M45.0 -19.6h0M43.9 -35.3h0M34.7 -36.9h0M53.1 -1.9h0M49.9 -9.4h0M39.7 -30.9h0M40.1 -35.8h0M50.0 -26.1h0M40.6 -17.7h0M43.9 -22.2h0M44.6 -3.5h0M37.9 -27.8h0M23.4 -2.5h0M29.4 -2.5h0M37.5 -3.7h0M28.7 -6.9h0M28.9 -28.0h0M26.8 -30.4h0M35.9 -8.6h0M37.8 -15.7h0M24.6 -27.8h0M33.0 -14.2h0M35.0 -0.4h0M34.9 -6.1h0M37.7 -6.4h0M11.7 -24.3h0M2.8 -34.7h0M15.8 -21.9h0M-2.7 -32.7h0M1.1 -29.7h0M6.5 -27.4h0M33.5 -44.2h0M19.2 -45.5h0M15.4 -18.8h0M11.1 -27.6h0M20.3 -48.1h0M60.4 37.9h0M71.5 21.8h0M45.0 40.8h0M51.0 24.6h0M68.8 20.7h0M57.5 34.3h0M58.8 25.7h0M48.6 34.9h0M44.6 36.8h0M68.9 29.1h0M54.2 18.1h0M62.6 31.1h0M64.9 24.4h0M58.5 14.6h0M54.3 14.4h0M84.1 -25.5h0M55.4 -32.9h0M62.7 -24.9h0M77.0 -35.6h0M78.5 -34.7h0M56.2 -30.8h0M76.9 -21.1h0M58.8 -26.7h0M80.3 -31.0h0M51.8 -30.9h0M79.9 -26.7h0M67.6 -34.3h0M77.1 -26.7h0M45.3 -40.2h0M82.4 -38.9h0M52.2 -25.6h0M45.4 -32.4h0M58.4 -33.2h0M80.0 -20.7h0M78.8 -22.0h0M42.1 -28.0h0M78.7 -41.5h0M64.2 -27.7h0M76.4 -36.6h0M73.6 -37.7h0M63.1 -26.8h0M52.6 -41.2h0M78.3 -26.8h0M76.7 -28.7h0M51.8 -34.7h0M48.4 -38.4h0M72.3 -38.1h0M47.4 -35.1h0M81.0 -40.8h0M75.1 -32.4h0M52.6 -30.1h0M83.1 -23.9h0M68.1 -29.0h0M72.5 -22.2h0M68.9 -35.0h0M66.8 -37.9h0M72.7 -30.6h0M48.1 -31.6h0M75.3 -30.9h0M50.7 -34.7h0M60.2 -29.7h0M75.7 -24.1h0M69.7 -38.1h0M79.2 -19.5h0M79.3 -44.6h0M78.5 -29.1h0M52.0 -42.1h0M88.8 -24.3h0M88.1 -32.5h0M89.5 -24.2h0M91.0 -17.8h0M86.2 -31.3h0M84.9 -38.6h0M77.2 -2.7h0M86.6 -5.8h0M83.3 -6.2h0M73.5 18.1h0M80.2 9.3h0M79.4 -12.1h0M68.7 -8.3h0M90.1 -9.8h0M68.2 -1.9h0M80.5 2.8h0M71.5 6.0h0M71.8 -10.9h0M83.0 -10.0h0M82.0 -13.2h0M67.8 8.2h0M75.2 11.7h0M66.3 26.4h0M-57.1 -18.2h0M-62.4 -24.7h0M-61.5 -21.0h0M-62.8 -31.4h0M-60.2 -24.8h0M-71.9 -25.4h0M-48.6 -26.8h0M-70.6 -18.7h0M-66.5 -25.2h0M-65.5 -31.0h0M-60.0 -20.2h0M-58.8 -33.8h0M-69.1 -25.0h0M-66.6 -21.0h0M-65.7 -21.4h0M-55.0 -24.7h0M-71.3 -23.5h0M-55.4 -22.8h0M-61.4 -23.5h0M-60.1 -26.5h0M-67.9 -25.5h0M-77.1 -22.1h0M-55.5 -27.3h0M-50.2 -23.3h0M-56.0 -18.4h0M-67.7 -27.3h0M-71.3 -26.3h0M-57.7 -17.3h0M-67.9 -22.9h0M-62.3 -29.2h0M-65.7 -32.6h0M-70.9 -17.4h0M-61.4 -30.2h0M-69.1 -18.2h0M-63.2 -15.5h0M-74.6 -24.4h0M-70.7 -24.2h0M-81.1 -2.2h0M-79.5 0.6h0M-79.7 -0.5h0M-78.6 5.1h0M-79.6 3.1h0M-68.4 16.1h0M-71.2 13.1h0M-58.9 23.5h0M-64.1 19.2h0M-56.4 24.6h0M-66.4 -9.2h0M-65.2 10.7h0M-69.1 5.1h0M-63.8 0.4h0M-69.6 12.3h0M-60.6 8.2h0M-62.6 2.1h0M-58.5 -36.9h0M-72.2 -34.0h0M-68.6 -16.0h0M-48.6 -3.9h0M-44.8 17.5h0M-52.5 6.3h0M-51.4 -5.0h0M-52.8 -15.5h0M-52.1 -18.2h0M-38.9 -28.8h0M-43.8 23.7h0M-47.1 -14.5h0M-53.6 2.2h0M-46.1 -30.7h0M-46.5 25.7h0M-50.4 18.2h0M-56.6 -2.7h0M-27.5 -30.4h0M-41.5 21.2h0M-40.2 -7.9h0M-30.9 -28.6h0M-39.3 -21.6h0M-34.7 -29.3h0M-33.6 -21.0h0M-11.7 -24.8h0M-14.4 -26.1h0M-12.7 -29.9h0M-19.0 -29.0h0M-17.3 -23.6h0M-18.2 -36.1h0" stroke="#fb1d2c" stroke-width="2.16"/><path d="M36.7 35.4h0M35.5 22.1h0M29.8 42.8h0M51.1 33.3h0M43.3 41.5h0M28.7 35.3h0M20.3 42.6h0M47.0 33.9h0M44.7 27.4h0M38.9 31.1h0M29.0 39.1h0M35.3 42.1h0M40.0 41.1h0M19.2 38.5h0M30.9 40.3h0M30.5 33.8h0M36.2 41.0h0M42.9 48.7h0M25.3 50.2h0M34.9 36.1h0M25.4 47.8h0M45.8 37.3h0M24.6 36.8h0M33.4 42.9h0M27.4 31.7h0M29.4 52.3h0M37.4 33.8h0M44.1 38.7h0M42.2 25.5h0M26.5 43.6h0M39.4 47.0h0M40.4 35.6h0M45.1 30.6h0M44.3 35.5h0M21.9 40.6h0M23.9 39.3h0M24.5 33.8h0M32.4 28.5h0M32.2 43.8h0M32.0 39.0h0M21.8 47.1h0M22.9 48.3h0M49.3 34.9h0M38.0 32.4h0M21.7 49.0h0M40.6 26.3h0M17.7 45.3h0M38.7 28.8h0M29.8 44.7h0M36.0 38.6h0M26.2 32.9h0M37.2 45.4h0M30.5 38.4h0M37.9 40.7h0M25.5 51.9h0M45.6 34.4h0M21.9 43.0h0M42.8 36.5h0M35.2 31.2h0M31.0 28.7h0M42.9 44.8h0M35.2 25.1h0M37.9 22.8h0M36.6 37.1h0M36.3 32.3h0M39.3 42.5h0M26.2 46.1h0M36.6 23.4h0M21.5 38.3h0M41.7 41.4h0M21.1 44.3h0M45.4 45.9h0M43.5 31.2h0M40.1 28.4h0M27.8 44.4h0M41.1 40.1h0M39.7 25.0h0M33.8 46.1h0M47.1 32.3h0M36.1 51.1h0M33.9 38.5h0M28.9 40.7h0M23.9 51.0h0M42.5 39.5h0M45.1 41.9h0M44.2 37.1h0M39.8 37.8h0M41.4 50.1h0M44.1 28.8h0M25.6 44.7h0M39.0 48.4h0M32.7 50.7h0M20.5 39.4h0M34.1 26.0h0M35.3 29.2h0M23.6 37.9h0M33.9 41.6h0M24.1 18.7h0M26.1 29.2h0M29.2 24.2h0M18.3 31.5h0M29.3 19.4h0M33.9 21.6h0M30.4 27.0h0M25.2 15.2h0M19.7 24.6h0M17.7 25.4h0M23.8 30.1h0M27.9 21.2h0M26.7 18.9h0M45.8 21.7h0M40.0 6.9h0M44.9 0.8h0M43.2 19.5h0M35.2 15.1h0M47.6 15.2h0M43.4 5.8h0M43.4 24.4h0M48.3 10.2h0M42.6 0.9h0M41.3 4.9h0M39.1 13.8h0M48.6 6.7h0M34.3 17.8h0M49.7 8.5h0M37.9 7.9h0M44.4 17.9h0M46.2 2.6h0M45.0 14.4h0M48.4 2.4h0M39.7 12.0h0M37.1 14.3h0M43.7 16.2h0M42.0 17.6h0M39.5 1.8h0M38.7 22.3h0M50.8 15.9h0M49.2 18.5h0M48.4 23.8h0M45.7 23.4h0M55.0 2.1h0M25.9 6.7h0M28.8 15.5h0M32.6 18.3h0M37.8 0.2h0M31.5 11.6h0M26.6 2.5h0M32.3 4.4h0M28.5 12.6h0M36.9 9.5h0M39.6 -23.9h0M33.5 -29.1h0M53.4 -12.0h0M47.4 -19.9h0M38.9 -25.9h0M49.8 -11.4h0M46.2 -12.3h0M53.3 -19.1h0M47.4 -23.6h0M34.2 -31.0h0M48.4 -6.2h0M52.4 -20.9h0M36.7 -21.4h0M41.0 -2.1h0M41.9 -20.9h0M43.0 -33.0h0M46.9 -7.5h0M37.6 -32.7h0M42.8 -17.1h0M36.9 -23.7h0M33.3 -33.7h0M49.2 -22.4h0M42.6 -38.2h0M46.2 -9.8h0M49.0 -18.0h0M44.8 -25.5h0M45.9 -17.4h0M54.7 -7.3h0M35.2 -35.0h0M49.3 -16.1h0M28.3 -30.2h0M44.1 -15.4h0M42.1 -14.3h0M39.6 -20.0h0M47.1 -4.8h0M48.4 -3.3h0M43.2 -19.4h0M40.0 -10.0h0M26.7 -31.4h0M35.5 -32.6h0M38.5 -22.4h0M37.0 -43.7h0M40.8 -25.5h0M33.3 -11.5h0M28.3 -11.3h0M27.9 -15.2h0M18.7 -19.0h0M21.7 -18.9h0M31.2 -26.5h0M40.4 -6.8h0M27.4 -0.5h0M36.2 -11.2h0M21.0 -21.5h0M26.8 -4.9h0M40.6 -4.0h0M30.5 -16.0h0M37.8 -0.4h0M30.3 -13.3h0M35.9 -19.9h0M22.4 -26.3h0M13.8 -26.8h0M16.3 -45.3h0M21.9 -27.5h0M13.6 -35.0h0M19.9 -31.7h0M14.6 -30.4h0M6.9 -39.2h0M5.7 -35.8h0M33.5 -40.1h0M16.9 -28.9h0M26.2 -32.2h0M13.1 -39.4h0M9.5 -38.1h0M12.2 -32.2h0M18.8 -36.6h0M3.2 -27.6h0M1.9 -37.4h0M36.6 -48.1h0M0.2 -32.6h0M66.9 12.9h0M67.8 25.9h0M70.8 25.4h0M47.5 29.6h0M64.3 15.0h0M65.4 30.9h0M53.7 47.9h0M59.6 6.5h0M67.6 36.8h0M68.5 31.8h0M57.6 23.4h0M54.1 21.3h0M63.9 18.4h0M65.5 27.9h0M55.6 10.8h0M56.2 2.2h0M64.4 21.6h0M64.2 38.3h0M61.3 19.9h0M69.0 -27.6h0M70.1 -30.6h0M49.6 -39.4h0M84.3 -40.8h0M52.6 -26.8h0M67.7 -22.4h0M55.4 -35.5h0M50.5 -40.2h0M51.1 -26.9h0M81.0 -32.4h0M87.3 -20.4h0M59.9 -32.6h0M89.6 -29.6h0M75.9 -29.6h0M75.7 -33.6h0M46.4 -26.9h0M80.0 -25.6h0M43.4 -29.1h0M90.2 -18.9h0M89.8 -26.4h0M84.7 -39.5h0M90.1 -19.4h0M87.1 -2.2h0M78.3 -17.6h0M90.5 -15.9h0M68.6 7.5h0M90.1 -12.7h0M60.9 3.0h0M71.3 -4.3h0M88.4 -15.4h0M78.5 -5.5h0M76.3 8.2h0M75.5 5.4h0M75.9 11.5h0M68.2 7.5h0M69.7 1.0h0M68.6 3.8h0M66.3 28.1h0M69.2 25.0h0M-58.1 -24.6h0M-58.3 -19.1h0M-60.8 -18.0h0M-66.1 -22.9h0M-51.9 -20.0h0M-54.6 -30.5h0M-54.4 -26.6h0M-61.7 -32.4h0M-58.2 -34.4h0M-61.2 -16.8h0M-72.3 -19.2h0M-60.1 -34.5h0M-53.3 -22.6h0M-63.7 -16.2h0M-68.0 -17.5h0M-53.6 -30.7h0M-69.2 -27.0h0M-64.9 -19.6h0M-71.5 -22.1h0M-63.9 -18.2h0M-50.0 -22.4h0M-63.4 -22.8h0M-61.1 -19.3h0M-56.8 -24.9h0M-54.6 -27.6h0M-52.9 -29.5h0M-59.4 -19.5h0M-59.9 -18.3h0M-66.3 -26.6h0M-54.7 -25.6h0M-72.9 -17.9h0M-65.0 -25.5h0M-68.9 -21.9h0M-62.6 -30.5h0M-64.8 -22.4h0M-53.6 -25.9h0M-63.8 -35.1h0M-60.5 -30.6h0M-57.4 -33.6h0M-63.6 -21.4h0M-61.3 -29.4h0M-73.6 -24.2h0M-68.9 -16.9h0M-64.2 -20.6h0M-62.2 -34.1h0M-75.2 -21.4h0M-65.1 -20.9h0M-52.1 -26.0h0M-61.9 -16.0h0M-59.6 -27.9h0M-47.9 -24.6h0M-51.6 -25.1h0M-59.5 -30.9h0M-63.6 -28.6h0M-62.5 -23.0h0M-59.3 -23.7h0M-54.4 -32.2h0M-65.8 -27.8h0M-76.3 -20.8h0M-55.8 -31.3h0M-60.1 -17.2h0M-59.4 -32.0h0M-65.8 -29.6h0M-73.4 -18.9h0M-58.1 -21.1h0M-56.9 -20.4h0M-58.0 -28.1h0M-57.6 -25.2h0M-70.3 -25.1h0M-73.6 -20.7h0M-67.0 -16.6h0M-53.0 -24.8h0M-70.4 -19.8h0M-48.8 -27.7h0M-74.7 -19.1h0M-72.8 -22.1h0M-51.1 -20.9h0M-72.1 -24.4h0M-68.3 -18.6h0M-65.6 -24.7h0M-63.0 -24.0h0M-54.8 -20.4h0M-67.9 -20.6h0M-70.0 -17.3h0M-56.5 -33.3h0M-53.7 -28.9h0M-72.9 -23.7h0M-75.1 -19.9h0M-53.0 -27.8h0M-49.8 -25.5h0M-52.1 -21.0h0M-56.8 -28.7h0M-54.0 -19.8h0M-56.7 -25.8h0M-61.5 -28.2h0M-73.1 -25.0h0M-75.9 -22.4h0M-71.4 -20.7h0M-71.2 -25.0h0M-54.9 -22.2h0M-59.2 -35.4h0M-61.7 -25.6h0M-63.0 -29.7h0M-54.6 -23.5h0M-69.7 -24.3h0M-54.4 -19.0h0M-59.5 -22.4h0M-75.7 -25.4h0M-67.0 -24.3h0M-69.3 -26.0h0M-53.9 -21.8h0M-70.0 -21.9h0M-77.1 -20.8h0M-60.5 -23.8h0M-76.2 -23.6h0M-69.7 -19.0h0M-71.5 -18.8h0M-59.2 -17.0h0M-66.5 -20.1h0M-61.9 -19.3h0M-67.3 -21.4h0M-48.0 -25.9h0M-57.9 -30.6h0M-49.3 -22.8h0M-77.3 -24.2h0M-59.9 -25.6h0M-57.7 -23.4h0M-74.5 -20.6h0M-65.5 -28.6h0M-52.6 -22.0h0M-68.9 -19.2h0M-53.8 -31.5h0M-56.5 -32.0h0M-64.3 -25.8h0M-75.5 -20.6h0M-51.5 -23.4h0M-70.9 -22.8h0M-49.0 -22.0h0M-62.4 -33.3h0M-64.0 -29.6h0M-70.1 -26.4h0M-68.5 -21.1h0M-61.2 -21.8h0M-56.9 -21.5h0M-63.2 -32.3h0M-61.1 -24.4h0M-63.9 -23.8h0M-62.6 -28.3h0M-58.2 -25.9h0M-65.1 -26.9h0M-52.6 -19.4h0M-77.9 -22.6h0M-59.0 -25.3h0M-73.7 -21.6h0M-56.3 -27.7h0M-60.9 -25.4h0M-51.4 -27.3h0M-53.9 -28.1h0M-54.9 -18.2h0M-58.4 -31.3h0M-57.7 -32.7h0M-70.9 -21.5h0M-54.1 -22.8h0M-64.5 -23.2h0M-64.5 -28.8h0M-79.1 -19.0h0M-80.7 0.5h0M-77.8 -20.2h0M-79.5 5.5h0M-79.2 7.7h0M-78.3 -18.9h0M-82.7 -12.2h0M-80.7 -15.4h0M-64.9 19.4h0M-65.8 18.6h0M-73.9 12.9h0M-62.5 20.2h0M-63.2 5.9h0M-58.9 -7.2h0M-62.6 -3.0h0M-70.9 -4.8h0M-58.6 -2.0h0M-67.9 -2.6h0M-71.9 1.4h0M-62.8 -5.5h0M-61.9 11.5h0M-66.2 0.4h0M-68.7 -0.3h0M-61.6 -8.6h0M-64.8 1.9h0M-64.4 -9.0h0M-58.1 5.1h0M-69.6 10.2h0M-71.7 -0.8h0M-65.5 -7.2h0M-57.4 -5.9h0M-77.2 -25.4h0M-76.6 -33.9h0M-69.4 -32.4h0M-60.7 -39.7h0M-59.5 -13.2h0M-69.3 -10.4h0M-62.8 -15.3h0M-48.8 -10.3h0M-53.4 13.4h0M-55.2 -9.2h0M-50.8 -0.8h0M-50.8 4.5h0M-51.0 11.0h0M-48.7 -7.1h0M-48.1 12.4h0M-45.4 -20.2h0M-45.2 19.8h0M-44.9 -27.6h0M-47.1 -1.6h0M-32.7 -17.3h0M-29.3 -22.9h0M-38.7 11.4h0M-45.8 -9.8h0M-34.3 -10.2h0M-36.1 -4.6h0M-43.5 -6.0h0M-41.6 10.5h0M-38.1 18.2h0M-26.6 -25.4h0M-25.3 -20.1h0M-26.5 -9.7h0M-33.9 -6.2h0M-25.8 -1.8h0M-22.3 -17.1h0M-29.0 11.6h0M-15.4 -27.4h0M-16.5 -36.2h0M-15.4 -33.4h0M-11.0 -31.5h0M-18.0 -31.7h0M-15.6 -23.5h0M-17.4 -28.4h0M-13.1 -23.7h0M-17.4 -25.3h0M-22.8 -29.0h0M-21.3 -32.2h0M-17.8 -40.1h0M-14.3 -38.0h0M-17.0 -30.0h0M-13.0 -31.6h0M-11.3 -38.3h0M-16.2 -38.4h0M-12.3 -33.8h0M-19.6 -25.1h0M-16.9 -34.1h0M-9.4 -31.9h0M-20.7 -28.8h0M-19.6 -32.6h0M-21.6 -27.2h0M-13.8 -39.7h0" stroke="#d8152e" stroke-width="2.16"/><path d="M38.5 36.6h0M38.8 38.9h0M24.4 43.9h0M46.1 26.7h0M39.2 44.1h0M34.1 47.5h0M43.7 46.8h0M48.8 32.1h0M33.6 27.4h0M25.8 37.4h0M34.6 44.5h0M30.6 36.7h0M33.8 40.2h0M25.1 35.4h0M23.6 41.6h0M29.5 29.5h0M28.1 53.1h0M49.0 29.1h0M52.3 37.6h0M34.1 50.0h0M27.8 41.6h0M32.3 41.5h0M37.5 38.4h0M28.1 45.9h0M28.4 43.0h0M36.3 30.2h0M27.0 51.4h0M35.2 27.8h0M37.4 28.2h0M41.0 37.0h0M26.4 39.2h0M27.1 35.0h0M45.5 32.9h0M33.1 31.4h0M38.6 26.3h0M52.2 32.3h0M39.0 35.2h0M34.0 34.5h0M35.3 46.1h0M24.7 46.4h0M34.2 30.1h0M28.4 37.6h0M22.4 52.9h0M53.5 33.9h0M39.7 33.9h0M22.4 51.1h0M31.7 45.7h0M42.7 28.1h0M41.0 23.9h0M20.1 40.9h0M35.5 33.5h0M20.4 45.6h0M22.7 45.9h0M31.1 31.3h0M41.3 43.4h0M41.4 38.6h0M40.7 48.7h0M44.7 43.7h0M40.8 32.2h0M51.5 30.2h0M26.8 49.1h0M31.2 50.6h0M18.3 43.9h0M31.8 37.6h0M28.9 31.3h0M41.8 30.7h0M28.0 33.4h0M29.7 53.9h0M31.9 33.5h0M41.3 29.2h0M29.4 46.7h0M51.6 35.8h0M53.7 36.3h0M40.3 30.7h0M36.6 26.6h0M31.9 26.9h0M27.6 47.5h0M49.0 33.5h0M38.9 23.8h0M25.8 41.8h0M24.0 52.7h0M32.8 35.4h0M42.8 43.0h0M44.1 40.1h0M22.4 36.9h0M43.2 29.8h0M33.3 24.7h0M32.7 49.2h0M19.0 40.0h0M23.1 34.4h0M30.1 49.4h0M47.7 28.0h0M46.3 44.5h0M46.7 35.8h0M42.1 47.5h0M35.5 52.5h0M32.3 30.2h0M45.9 29.1h0M25.5 40.3h0M18.0 42.4h0M37.5 42.7h0M34.3 23.3h0M37.7 24.7h0M38.8 45.5h0M31.1 42.3h0M30.0 32.4h0M31.3 35.3h0M35.1 48.8h0M35.6 20.6h0M44.1 33.6h0M27.2 36.8h0M26.7 52.8h0M27.5 40.2h0M20.3 37.2h0M41.4 27.6h0M38.0 30.0h0M21.9 35.5h0M24.0 49.6h0M51.1 38.5h0M50.4 32.1h0M52.0 34.3h0M34.2 32.8h0M23.1 44.5h0M50.0 36.2h0M17.7 38.9h0M54.9 34.8h0M19.7 44.3h0M48.2 35.8h0M37.0 21.4h0M42.1 46.1h0M35.0 37.6h0M28.2 30.0h0M30.3 48.0h0M44.9 25.9h0M36.9 39.8h0M41.4 44.8h0M35.1 39.6h0M27.8 50.2h0M23.4 27.3h0M20.7 29.4h0M26.5 23.6h0M25.5 20.8h0M27.1 16.4h0M16.0 28.2h0M28.0 26.7h0M23.9 32.4h0M32.7 24.3h0M19.2 33.5h0M15.3 24.5h0M23.0 23.0h0M32.7 19.2h0M24.7 25.4h0M29.2 17.1h0M26.3 31.4h0M18.5 28.8h0M28.5 29.0h0M22.0 25.0h0M14.5 26.5h0M49.8 4.2h0M40.1 9.9h0M41.9 14.7h0M46.6 7.3h0M41.3 11.3h0M47.4 0.6h0M40.8 0.5h0M47.0 4.9h0M49.5 0.3h0M45.1 5.0h0M36.6 12.1h0M46.0 19.9h0M41.3 3.0h0M40.5 16.0h0M46.1 9.9h0M49.3 13.5h0M38.6 20.5h0M47.8 17.7h0M38.0 10.4h0M40.1 19.3h0M45.2 12.5h0M43.2 12.8h0M38.4 15.6h0M38.6 3.4h0M47.8 12.4h0M43.1 22.3h0M36.0 16.7h0M44.3 8.9h0M34.8 19.9h0M50.8 6.9h0M42.3 9.3h0M45.1 24.0h0M38.7 5.5h0M38.5 0.3h0M38.9 17.4h0M46.2 16.8h0M43.1 7.6h0M43.9 10.8h0M50.4 2.0h0M41.6 20.8h0M41.6 23.6h0M49.6 11.6h0M44.8 7.1h0M46.7 26.4h0M53.9 4.5h0M52.0 19.2h0M51.5 23.3h0M50.8 10.4h0M51.4 7.1h0M55.1 7.3h0M53.2 11.5h0M51.7 0.6h0M24.8 13.9h0M29.6 5.6h0M34.1 9.7h0M34.7 2.9h0M23.0 7.8h0M23.9 0.0h0M27.8 9.6h0M32.2 1.2h0M37.1 6.5h0M31.9 7.9h0M32.2 15.4h0M34.3 12.8h0M24.2 4.4h0M37.7 3.6h0M34.9 0.1h0M28.8 -32.4h0M47.0 -15.8h0M38.0 -29.8h0M40.2 -33.9h0M44.3 -10.7h0M41.8 -8.7h0M33.7 -23.9h0M42.3 -10.6h0M32.4 -26.8h0M40.2 -15.7h0M51.3 -7.9h0M40.5 -12.7h0M30.9 -32.7h0M41.8 -30.9h0M30.7 -30.7h0M52.1 -3.8h0M51.0 -17.7h0M39.7 -40.6h0M38.3 -18.1h0M50.3 -1.2h0M42.6 -3.7h0M37.1 -35.5h0M40.0 -37.8h0M46.0 -21.4h0M55.7 -0.1h0M31.4 -28.8h0M44.0 -5.3h0M42.1 -24.1h0M44.5 -13.4h0M41.9 -0.4h0M44.6 -8.7h0M51.2 -12.7h0M39.6 -28.7h0M33.1 -38.4h0M53.7 -0.1h0M35.4 -29.4h0M52.5 -6.2h0M51.8 -10.6h0M48.4 -14.3h0M47.4 -0.4h0M43.9 -0.2h0M34.5 -26.5h0M47.9 -11.4h0M37.8 -16.0h0M38.0 -39.6h0M53.1 -15.4h0M38.8 -13.7h0M31.1 -9.4h0M28.4 -20.6h0M33.0 -3.3h0M33.4 -20.7h0M26.7 -23.9h0M24.5 -21.2h0M25.3 -12.4h0M27.2 -18.2h0M21.8 -15.2h0M40.7 -0.8h0M22.4 -7.4h0M24.3 -9.3h0M21.6 -11.7h0M24.4 -17.4h0M30.4 -18.7h0M23.9 -23.9h0M31.2 -22.5h0M19.2 -13.3h0M31.8 -6.3h0M39.1 -10.4h0M21.5 -4.5h0M21.8 -0.0h0M31.6 -0.1h0M35.6 -14.0h0M29.4 -24.4h0M24.1 -5.5h0M6.7 -31.5h0M9.7 -30.1h0M10.5 -35.1h0M21.6 -34.3h0M18.0 -33.8h0M17.7 -26.0h0M15.9 -41.8h0M23.4 -31.3h0M3.4 -31.6h0M20.5 -24.5h0M18.6 -22.4h0M51.4 30.9h0M53.6 36.4h0M68.0 16.7h0M63.9 35.5h0M69.7 34.4h0M57.5 30.9h0M62.7 41.0h0M41.8 37.2h0M89.2 -31.4h0M49.4 -31.2h0M58.8 -30.4h0M68.3 -26.4h0M78.3 -39.1h0M79.5 -24.5h0M45.4 -36.9h0M63.7 -28.7h0M76.7 -44.6h0M63.8 -25.7h0M87.0 -25.4h0M50.1 -33.9h0M86.6 -43.0h0M87.5 -32.9h0M89.9 -24.3h0M82.0 -40.7h0M89.0 -12.5h0M88.4 -7.6h0M66.4 5.3h0M68.8 -5.5h0M80.1 -9.7h0M88.4 9.6h0M75.8 -6.3h0M64.5 2.3h0M91.0 -18.9h0M74.2 -16.6h0M79.6 15.7h0M63.4 -1.9h0M80.2 -3.0h0M88.7 3.1h0M75.5 10.5h0M75.5 8.1h0M74.5 14.0h0M71.4 -0.2h0M68.4 3.9h0M67.5 24.8h0M67.9 27.3h0M67.8 27.8h0M68.9 25.5h0M69.3 25.1h0M-57.1 -27.3h0M-72.1 -20.2h0M-66.3 -17.5h0M-64.5 -27.6h0M-64.2 -24.8h0M-51.0 -28.1h0M-56.9 -29.9h0M-55.6 -20.9h0M-59.1 -21.5h0M-73.3 -26.5h0M-53.1 -21.3h0M-51.8 -22.4h0M-49.9 -21.1h0M-67.1 -22.3h0M-65.4 -18.0h0M-52.0 -24.0h0M-64.9 -17.3h0M-70.1 -23.2h0M-61.9 -17.8h0M-75.5 -24.2h0M-57.7 -29.7h0M-78.1 -21.8h0M-64.8 -15.8h0M-52.8 -26.8h0M-76.0 -19.9h0M-61.2 -26.4h0M-49.8 -28.0h0M-58.5 -29.1h0M-76.7 -24.8h0M-69.9 -20.5h0M-75.5 -26.2h0M-49.1 -28.6h0M-54.0 -21.0h0M-56.0 -28.7h0M-50.2 -24.6h0M-56.6 -19.3h0M-55.4 -19.4h0M-60.2 -32.4h0M-66.0 -19.2h0M-58.8 -20.5h0M-60.4 -22.7h0M-57.0 -22.9h0M-50.4 -29.4h0M-50.8 -25.4h0M-68.1 -26.4h0M-61.8 -31.0h0M-60.1 -21.6h0M-60.5 -29.1h0M-63.3 -26.1h0M-63.1 -27.5h0M-62.0 -22.3h0M-62.7 -19.4h0M-48.9 -25.6h0M-74.0 -22.3h0M-58.0 -18.1h0M-53.2 -23.4h0M-65.8 -33.9h0M-52.8 -20.2h0M-48.8 -23.9h0M-61.4 -34.4h0M-58.9 -18.4h0M-53.7 -27.3h0M-63.0 -18.2h0M-64.4 -32.1h0M-68.9 -20.0h0M-77.4 -23.4h0M-64.3 -26.7h0M-61.9 -27.0h0M-57.7 -31.9h0M-65.0 -29.8h0M-59.5 -29.0h0M-55.9 -29.9h0M-51.6 -29.9h0M-59.1 -26.1h0M-55.8 -26.4h0M-65.8 -23.7h0M-67.6 -23.7h0M-56.0 -23.9h0M-60.5 -31.6h0M-66.8 -27.5h0M-65.8 -25.6h0M-71.2 -19.8h0M-61.0 -20.4h0M-54.6 -29.4h0M-67.2 -17.4h0M-72.3 -21.1h0M-58.1 -26.9h0M-58.2 -22.5h0M-52.1 -29.1h0M-55.5 -32.8h0M-60.6 -33.2h0M-74.3 -25.3h0M-66.4 -34.7h0M-62.3 -35.3h0M-64.2 -33.1h0M-58.7 -30.4h0M-64.7 -18.5h0M-62.9 -21.3h0M-71.9 -18.0h0M-56.5 -22.2h0M-68.8 -23.4h0M-49.8 -26.6h0M-50.9 -26.3h0M-56.7 -30.8h0M-67.4 -18.7h0M-52.2 -30.6h0M-72.2 -26.8h0M-53.4 -19.1h0M-62.7 -26.7h0M-54.1 -24.4h0M-64.6 -31.1h0M-52.1 -28.0h0M-72.0 -23.0h0M-58.9 -24.4h0M-50.5 -27.4h0M-68.2 -24.6h0M-58.8 -32.9h0M-63.9 -19.2h0M-65.5 -20.1h0M-74.5 -23.4h0M-75.0 -22.5h0M-60.0 -33.7h0M-60.6 -28.1h0M-63.2 -20.1h0M-62.1 -23.9h0M-67.5 -19.7h0M-64.9 -34.2h0M-55.7 -25.2h0M-57.2 -26.5h0M-60.8 -27.2h0M-63.7 -17.2h0M-55.7 -21.9h0M-65.7 -16.7h0M-48.4 -22.7h0M-63.1 -34.4h0M-54.9 -28.6h0M-62.2 -20.2h0M-62.6 -16.5h0M-73.2 -22.8h0M-74.2 -26.4h0M-66.3 -18.3h0M-52.8 -31.2h0M-58.5 -32.1h0M-52.9 -28.7h0M-58.9 -27.5h0M-73.8 -19.7h0M-75.4 -23.3h0M-65.4 -35.1h0M-63.6 -33.6h0M-63.9 -31.4h0M-49.2 -24.6h0M-73.7 -18.1h0M-50.8 -22.1h0M-76.3 -21.6h0M-67.0 -26.3h0M-65.0 -33.4h0M-72.8 -25.9h0M-77.2 -24.2h0M-76.8 -20.8h0M-80.7 -0.2h0M-68.6 15.5h0M-70.3 16.4h0M-58.6 24.0h0M-68.5 16.9h0M-74.7 12.0h0M-70.7 14.6h0M-56.7 23.8h0M-78.6 8.3h0M-60.8 -6.1h0M-57.1 7.4h0M-65.4 -5.3h0M-66.6 -1.3h0M-66.5 8.0h0M-62.5 -1.3h0M-57.2 11.4h0M-59.6 -4.2h0M-66.5 6.1h0M-66.1 13.4h0M-69.0 -9.2h0M-61.6 4.7h0M-64.3 -2.7h0M-71.2 7.8h0M-68.1 7.1h0M-54.3 -35.5h0M-80.1 -24.0h0M-64.5 -36.4h0M-69.7 -35.9h0M-72.0 -14.4h0M-66.9 -12.8h0M-57.6 -8.8h0M-47.4 -23.5h0M-41.2 -30.9h0M-46.5 14.4h0M-49.5 -18.5h0M-50.4 -12.2h0M-47.9 19.8h0M-48.9 -29.9h0M-54.0 -5.2h0M-41.5 -11.0h0M-43.7 14.7h0M-37.7 -17.5h0M-37.1 -12.1h0M-32.7 -25.8h0M-34.3 -1.3h0M-25.5 6.9h0M-31.6 -15.8h0M-30.3 -3.6h0M-19.9 -27.4h0M-8.7 -27.2h0M-11.1 -27.1h0M-18.7 -33.9h0M-14.8 -30.8h0M-13.2 -36.5h0M-10.3 -28.8h0M-14.3 -34.9h0M-10.5 -35.9h0M-15.0 -29.2h0M-18.0 -38.5h0M-20.2 -30.8h0" stroke="#b00f28" stroke-width="2.16"/></g></g>
<g><g fill="none" stroke="#b4b4b4" stroke-width="0.36"><circle r="88.5"/><circle r="41.1"/><path d="M0 0L0.0 107.2"/><path d="M0 0L53.6 92.8"/><path d="M0 0L92.8 53.6"/><path d="M0 0L107.2 0.0"/><path d="M0 0L92.8 -53.6"/><path d="M0 0L53.6 -92.8"/><path d="M0 0L0.0 -107.2"/><path d="M0 0L-53.6 -92.8"/><path d="M0 0L-92.8 -53.6"/><path d="M0 0L-107.2 -0.0"/><path d="M0 0L-92.8 53.6"/><path d="M0 0L-53.6 92.8"/></g><g fill="none" stroke="#707070" stroke-width="0.4" clip-path="url(#lc)"><circle r="88.5"/><circle r="41.1"/><path d="M0 0L0.0 107.2"/><path d="M0 0L53.6 92.8"/><path d="M0 0L92.8 53.6"/><path d="M0 0L107.2 0.0"/><path d="M0 0L92.8 -53.6"/><path d="M0 0L53.6 -92.8"/><path d="M0 0L0.0 -107.2"/><path d="M0 0L-53.6 -92.8"/><path d="M0 0L-92.8 -53.6"/><path d="M0 0L-107.2 -0.0"/><path d="M0 0L-92.8 53.6"/><path d="M0 0L-53.6 92.8"/></g><g stroke="#222" stroke-width="0.6"><path d="M0.0 106.2L0.0 109.1"/><path d="M53.1 92.0L54.5 94.5"/><path d="M92.0 53.1L94.5 54.6"/><path d="M106.2 0.0L109.1 0.0"/><path d="M92.0 -53.1L94.5 -54.5"/><path d="M53.1 -92.0L54.5 -94.5"/><path d="M0.0 -106.2L0.0 -109.1"/><path d="M-53.1 -92.0L-54.6 -94.5"/><path d="M-92.0 -53.1L-94.5 -54.6"/><path d="M-106.2 -0.0L-109.1 -0.0"/><path d="M-92.0 53.1L-94.5 54.6"/><path d="M-53.1 92.0L-54.6 94.5"/></g><circle r="107.2" fill="none" stroke="#111" stroke-width="1.0"/><circle r="2.3" fill="#000"/><text transform="translate(0.0 -114.8) rotate(0)" font-size="9.6" text-anchor="middle" x="0.0" y="3.4" fill="#111">180<tspan font-size="7" dy="-4">o</tspan><tspan dy="4">W</tspan></text><text transform="translate(-57.4 -99.4) rotate(-30)" font-size="9.6" text-anchor="middle" x="0.0" y="3.4" fill="#111">150<tspan font-size="7" dy="-4">o</tspan><tspan dy="4">W</tspan></text><text transform="translate(-99.4 -57.4) rotate(-60)" font-size="9.6" text-anchor="middle" x="0.0" y="3.4" fill="#111">120<tspan font-size="7" dy="-4">o</tspan><tspan dy="4">W</tspan></text><text transform="translate(-118.0 0.0) rotate(90)" font-size="9.6" text-anchor="middle" x="1.7" y="3.4" fill="#111">90<tspan font-size="7" dy="-4">o</tspan><tspan dy="4">W</tspan></text><text transform="translate(-102.2 59.0) rotate(60)" font-size="9.6" text-anchor="middle" x="1.7" y="3.4" fill="#111">60<tspan font-size="7" dy="-4">o</tspan><tspan dy="4">W</tspan></text><text transform="translate(-59.0 102.2) rotate(30)" font-size="9.6" text-anchor="middle" x="1.7" y="3.4" fill="#111">30<tspan font-size="7" dy="-4">o</tspan><tspan dy="4">W</tspan></text><text transform="translate(0.0 118.0) rotate(0)" font-size="9.6" text-anchor="middle" x="0.0" y="3.4" fill="#111">0<tspan font-size="7" dy="-4">o</tspan><tspan dy="4"></tspan></text><text transform="translate(59.0 102.2) rotate(-30)" font-size="9.6" text-anchor="middle" x="1.7" y="3.4" fill="#111">30<tspan font-size="7" dy="-4">o</tspan><tspan dy="4">E</tspan></text><text transform="translate(102.2 59.0) rotate(-60)" font-size="9.6" text-anchor="middle" x="1.7" y="3.4" fill="#111">60<tspan font-size="7" dy="-4">o</tspan><tspan dy="4">E</tspan></text><text transform="translate(118.0 0.0) rotate(-90)" font-size="9.6" text-anchor="middle" x="1.7" y="3.4" fill="#111">90<tspan font-size="7" dy="-4">o</tspan><tspan dy="4">E</tspan></text><text transform="translate(99.4 -57.4) rotate(60)" font-size="9.6" text-anchor="middle" x="0.0" y="3.4" fill="#111">120<tspan font-size="7" dy="-4">o</tspan><tspan dy="4">E</tspan></text><text transform="translate(57.4 -99.4) rotate(30)" font-size="9.6" text-anchor="middle" x="0.0" y="3.4" fill="#111">150<tspan font-size="7" dy="-4">o</tspan><tspan dy="4">E</tspan></text><path d="M-6.5 -87.3h4" stroke="#222" stroke-width="0.7"/><text x="5" y="-83.9" font-size="9.6" fill="#111">30<tspan font-size="7" dy="-4">o</tspan><tspan dy="4">N</tspan></text><path d="M-6.5 -39.9h4" stroke="#222" stroke-width="0.7"/><text x="5" y="-36.5" font-size="9.6" fill="#111">60<tspan font-size="7" dy="-4">o</tspan><tspan dy="4">N</tspan></text><rect x="127.9" y="91.83" width="6.0" height="11.62" fill="#2008d0"/><rect x="127.9" y="80.37" width="6.0" height="11.62" fill="#1a14f0"/><rect x="127.9" y="68.90" width="6.0" height="11.62" fill="#2a48f4"/><rect x="127.9" y="57.43" width="6.0" height="11.62" fill="#3a78f4"/><rect x="127.9" y="45.97" width="6.0" height="11.62" fill="#4ca0f4"/><rect x="127.9" y="34.50" width="6.0" height="11.62" fill="#6cc0f4"/><rect x="127.9" y="23.03" width="6.0" height="11.62" fill="#8cdcf8"/><rect x="127.9" y="11.57" width="6.0" height="11.62" fill="#b0ecfa"/><rect x="127.9" y="0.10" width="6.0" height="11.62" fill="#f0fcff"/><rect x="127.9" y="-11.37" width="6.0" height="11.62" fill="#fffff0"/><rect x="127.9" y="-22.83" width="6.0" height="11.62" fill="#fff5b0"/><rect x="127.9" y="-34.30" width="6.0" height="11.62" fill="#ffd490"/><rect x="127.9" y="-45.77" width="6.0" height="11.62" fill="#ffa060"/><rect x="127.9" y="-57.23" width="6.0" height="11.62" fill="#ff6842"/><rect x="127.9" y="-68.70" width="6.0" height="11.62" fill="#ff3a38"/><rect x="127.9" y="-80.17" width="6.0" height="11.62" fill="#fb1d2c"/><rect x="127.9" y="-91.63" width="6.0" height="11.62" fill="#d8152e"/><rect x="127.9" y="-103.10" width="6.0" height="11.62" fill="#b00f28"/><path d="M127.9 -103.0l3.0 -4.3l3.0 4.3z" fill="#ffee00"/><path d="M127.9 103.2l3.0 3.8l3.0 -3.8z" fill="#0c0880"/><path d="M127.9 -103.1v206.4M133.9 -103.1v206.4" stroke="#aaa" stroke-width="0.3" fill="none"/><text x="136.5" y="106.3" font-size="8.3" fill="#222">-1</text><text x="136.5" y="85.7" font-size="8.3" fill="#222">-0.8</text><text x="136.5" y="65.0" font-size="8.3" fill="#222">-0.6</text><text x="136.5" y="44.4" font-size="8.3" fill="#222">-0.4</text><text x="136.5" y="23.7" font-size="8.3" fill="#222">-0.2</text><text x="136.5" y="3.1" font-size="8.3" fill="#222">0</text><text x="136.5" y="-17.5" font-size="8.3" fill="#222">0.2</text><text x="136.5" y="-38.2" font-size="8.3" fill="#222">0.4</text><text x="136.5" y="-58.8" font-size="8.3" fill="#222">0.6</text><text x="136.5" y="-79.5" font-size="8.3" fill="#222">0.8</text><text x="136.5" y="-100.1" font-size="8.3" fill="#222">1</text><text transform="translate(161.2 -1.0)  rotate(-90)" font-size="8.3" text-anchor="middle" fill="#222">R</text></g>
<text class="s" x="-105" y="-88.6" font-size="14.2" fill="#111">(b)</text>
</g>
<path d="M380.40 188.30L380.40 159.90A28.4 28.4 0 1 0 394.08 163.41Z" fill="#ff0000" stroke="#222" stroke-width="0.35" stroke-linejoin="round"/><path d="M380.40 188.30L394.08 163.41A28.4 28.4 0 0 0 381.29 159.91Z" fill="#ff8000" stroke="#222" stroke-width="0.35" stroke-linejoin="round"/><path d="M380.40 188.30L381.29 159.91A28.4 28.4 0 0 0 380.40 159.90Z" fill="#00ffff" stroke="#222" stroke-width="0.35" stroke-linejoin="round"/><text x="380.6" y="155.7" font-size="6.1" text-anchor="middle" fill="#111">&lt; 1%</text><text x="389.3" y="155.7" font-size="6.1" text-anchor="middle" fill="#111">8%</text><text x="371.7" y="223.8" font-size="6.1" text-anchor="middle" fill="#111">92%</text>
<g transform="translate(125.3 370.2)">
<use href="#land"/>
<g clip-path="url(#cp)"><g fill="none" stroke-linecap="round"><path d="M24.4 43.9h0M33.6 27.4h0M33.8 40.2h0M20.3 42.6h0M44.7 27.4h0M27.8 41.6h0M36.3 30.2h0M35.2 27.8h0M26.4 39.2h0M34.9 36.1h0M33.1 31.4h0M38.6 26.3h0M35.5 33.5h0M24.5 33.8h0M31.9 33.5h0M32.8 35.4h0M37.9 22.8h0M30.0 32.4h0M27.5 40.2h0M41.4 27.6h0M19.7 44.3h0M18.3 31.5h0M33.9 21.6h0M27.1 16.4h0M16.0 28.2h0M28.0 26.7h0M24.7 25.4h0M29.2 17.1h0M26.3 31.4h0M22.0 25.0h0M47.4 0.6h0M46.0 19.9h0M46.1 9.9h0M48.6 6.7h0M43.2 12.8h0M44.4 17.9h0M46.2 2.6h0M34.8 19.9h0M39.7 12.0h0M38.7 5.5h0M43.7 16.2h0M50.8 15.9h0M49.2 18.5h0M55.0 2.1h0M50.8 10.4h0M55.1 7.3h0M24.8 13.9h0M34.7 2.9h0M28.8 15.5h0M32.6 18.3h0M28.5 12.6h0M37.7 3.6h0M44.3 -10.7h0M33.7 -23.9h0M36.9 -23.7h0M33.3 -33.7h0M38.3 -18.1h0M31.2 -26.5h0M35.0 -0.4h0M30.3 -13.3h0M-57.1 -18.2h0M-55.6 -20.9h0M-62.4 -24.7h0M-59.1 -21.5h0M-54.6 -30.5h0M-52.0 -24.0h0M-54.6 -27.6h0M-64.8 -15.8h0M-68.9 -21.9h0M-66.0 -19.2h0M-57.0 -22.9h0M-60.0 -20.2h0M-68.1 -26.4h0M-61.8 -31.0h0M-63.1 -27.5h0M-47.9 -24.6h0M-64.4 -32.1h0M-64.3 -26.7h0M-58.1 -21.1h0M-55.9 -29.9h0M-73.6 -20.7h0M-48.8 -27.7h0M-68.3 -18.6h0M-65.6 -24.7h0M-54.6 -29.4h0M-61.4 -23.5h0M-49.8 -25.5h0M-52.1 -21.0h0M-67.9 -25.5h0M-56.7 -25.8h0M-61.5 -28.2h0M-54.9 -22.2h0M-58.7 -30.4h0M-56.5 -22.2h0M-69.7 -24.3h0M-75.7 -25.4h0M-60.5 -23.8h0M-57.7 -17.3h0M-58.8 -32.9h0M-60.6 -28.1h0M-63.2 -20.1h0M-59.9 -25.6h0M-74.5 -20.6h0M-63.7 -17.2h0M-52.6 -22.0h0M-69.1 -18.2h0M-75.5 -20.6h0M-54.9 -28.6h0M-62.6 -16.5h0M-58.2 -25.9h0M-60.9 -25.4h0M-53.9 -28.1h0M-73.7 -18.1h0M-58.4 -31.3h0M-67.0 -26.3h0M-71.9 1.4h0M-71.7 -0.8h0" stroke="#f0fcff" stroke-width="1.40"/><path d="M25.8 37.4h0M28.7 35.3h0M29.0 39.1h0M30.9 40.3h0M28.4 43.0h0M42.2 25.5h0M31.1 31.3h0M21.9 40.6h0M31.2 50.6h0M32.0 39.0h0M28.9 31.3h0M41.8 30.7h0M40.6 26.3h0M40.3 30.7h0M31.9 26.9h0M35.2 31.2h0M36.6 37.1h0M43.2 29.8h0M21.5 38.3h0M40.1 28.4h0M39.7 25.0h0M25.5 40.3h0M37.5 42.7h0M33.9 38.5h0M31.1 42.3h0M35.0 37.6h0M28.2 30.0h0M34.1 26.0h0M20.7 29.4h0M19.2 33.5h0M30.4 27.0h0M19.7 24.6h0M32.7 19.2h0M18.5 28.8h0M14.5 26.5h0M45.8 21.7h0M43.2 19.5h0M49.8 4.2h0M41.9 14.7h0M47.6 15.2h0M40.5 22.2h0M49.3 13.5h0M48.3 10.2h0M49.7 8.5h0M43.4 3.2h0M37.9 7.9h0M43.1 22.3h0M45.0 14.4h0M44.3 8.9h0M45.1 24.0h0M38.5 0.3h0M43.1 7.6h0M50.4 2.0h0M36.5 20.8h0M39.5 1.8h0M44.8 7.1h0M23.0 7.8h0M37.1 6.5h0M32.2 15.4h0M26.6 2.5h0M36.9 9.5h0M47.4 -19.9h0M51.1 -14.7h0M30.7 -30.7h0M45.9 -17.4h0M49.3 -16.1h0M28.3 -30.2h0M53.1 -1.9h0M44.0 -5.3h0M49.9 -9.4h0M47.1 -4.8h0M53.7 -0.1h0M43.2 -19.4h0M34.5 -26.5h0M37.8 -16.0h0M26.7 -31.4h0M40.6 -17.7h0M38.5 -22.4h0M37.9 -27.8h0M26.7 -23.9h0M40.4 -6.8h0M24.6 -27.8h0M40.6 -4.0h0M13.6 -35.0h0M19.9 -31.7h0M9.7 -30.1h0M10.5 -35.1h0M6.9 -39.2h0M-58.1 -24.6h0M-61.5 -21.0h0M-49.9 -21.1h0M-67.1 -22.3h0M-61.1 -19.3h0M-52.8 -26.8h0M-58.5 -29.1h0M-66.3 -26.6h0M-69.9 -20.5h0M-66.5 -25.2h0M-62.6 -30.5h0M-65.5 -31.0h0M-61.3 -29.4h0M-60.5 -29.1h0M-64.2 -20.6h0M-62.7 -19.4h0M-52.1 -26.0h0M-53.2 -23.4h0M-63.0 -18.2h0M-61.9 -27.0h0M-57.6 -25.2h0M-72.8 -22.1h0M-70.0 -17.3h0M-71.2 -19.8h0M-67.2 -17.4h0M-72.3 -21.1h0M-58.2 -22.5h0M-53.0 -27.8h0M-74.3 -25.3h0M-66.4 -34.7h0M-71.4 -20.7h0M-64.7 -18.5h0M-71.9 -18.0h0M-50.2 -23.3h0M-56.0 -18.4h0M-67.7 -27.3h0M-54.1 -24.4h0M-71.3 -26.3h0M-71.5 -18.8h0M-75.0 -22.5h0M-65.5 -28.6h0M-57.2 -26.5h0M-65.7 -16.7h0M-64.3 -25.8h0M-51.5 -23.4h0M-48.4 -22.7h0M-49.0 -22.0h0M-74.6 -24.4h0M-74.2 -26.4h0M-77.9 -22.6h0M-73.7 -21.6h0M-56.3 -27.7h0M-54.9 -18.2h0M-49.2 -24.6h0M-65.0 -33.4h0M-79.5 5.5h0M-79.7 -0.5h0M-70.3 16.4h0M-74.7 12.0h0M-56.4 24.6h0" stroke="#fffff0" stroke-width="1.40"/><path d="M35.3 42.1h0M32.3 41.5h0M25.4 47.8h0M39.0 35.2h0M24.6 36.8h0M34.2 30.1h0M39.7 33.9h0M26.5 43.6h0M42.7 28.1h0M20.1 40.9h0M20.4 45.6h0M44.7 43.7h0M18.3 43.9h0M49.3 34.9h0M38.0 32.4h0M38.9 23.8h0M31.0 28.7h0M25.8 41.8h0M42.9 44.8h0M35.2 25.1h0M19.0 40.0h0M27.8 44.4h0M18.0 42.4h0M37.7 24.7h0M35.6 20.6h0M26.7 52.8h0M44.2 37.1h0M34.2 32.8h0M23.1 44.5h0M32.7 50.7h0M37.0 21.4h0M35.3 29.2h0M22.5 39.3h0M23.9 32.4h0M15.3 24.5h0M23.0 23.0h0M23.8 30.1h0M27.9 21.2h0M40.1 9.9h0M47.0 4.9h0M41.3 3.0h0M47.8 17.7h0M38.0 10.4h0M40.1 19.3h0M39.1 13.8h0M47.8 12.4h0M36.0 16.7h0M50.8 6.9h0M38.9 17.4h0M43.9 10.8h0M41.6 20.8h0M49.6 11.6h0M38.7 22.3h0M46.7 26.4h0M53.9 4.5h0M45.7 23.4h0M51.5 23.3h0M28.5 0.3h0M31.9 7.9h0M37.8 0.2h0M53.4 -12.0h0M48.4 -6.2h0M40.2 -15.7h0M46.9 -7.5h0M49.2 -22.4h0M35.4 -29.4h0M51.8 -10.6h0M36.9 -19.4h0M38.8 -13.7h0M31.1 -9.4h0M33.3 -11.5h0M18.7 -19.0h0M22.4 -7.4h0M30.4 -18.7h0M27.4 -0.5h0M37.8 -15.7h0M23.9 -23.9h0M36.2 -11.2h0M39.1 -10.4h0M21.8 -0.0h0M18.3 -21.6h0M35.9 -19.9h0M22.4 -26.3h0M6.7 -31.5h0M21.9 -27.5h0M3.4 -31.6h0M13.1 -39.4h0M12.2 -32.2h0M18.6 -22.4h0M-61.2 -16.8h0M-53.1 -21.3h0M-72.3 -19.2h0M-69.2 -27.0h0M-60.2 -24.8h0M-75.5 -24.2h0M-61.2 -26.4h0M-59.9 -18.3h0M-54.7 -25.6h0M-76.7 -24.8h0M-75.5 -26.2h0M-48.6 -26.8h0M-56.0 -28.7h0M-50.2 -24.6h0M-58.8 -20.5h0M-63.6 -21.4h0M-73.6 -24.2h0M-62.0 -22.3h0M-74.0 -22.3h0M-58.0 -18.1h0M-65.8 -33.9h0M-51.6 -25.1h0M-59.5 -30.9h0M-59.3 -23.7h0M-65.7 -21.4h0M-77.4 -23.4h0M-65.8 -29.6h0M-73.4 -18.9h0M-57.7 -31.9h0M-51.1 -20.9h0M-56.0 -23.9h0M-60.5 -31.6h0M-67.9 -20.6h0M-65.8 -25.6h0M-56.5 -33.3h0M-72.9 -23.7h0M-75.1 -19.9h0M-64.2 -33.1h0M-68.8 -23.4h0M-67.0 -24.3h0M-67.4 -18.7h0M-70.0 -21.9h0M-77.1 -20.8h0M-72.0 -23.0h0M-66.5 -20.1h0M-65.5 -20.1h0M-65.7 -32.6h0M-67.3 -21.4h0M-62.1 -23.9h0M-57.7 -19.9h0M-57.7 -23.4h0M-55.7 -25.2h0M-70.9 -17.4h0M-68.9 -19.2h0M-70.1 -26.4h0M-62.6 -28.3h0M-52.6 -19.4h0M-65.4 -35.1h0M-64.5 -23.2h0M-64.5 -28.8h0M-72.8 -25.9h0M-79.1 -19.0h0M-71.2 13.1h0M-64.1 19.2h0M-73.9 12.9h0M-66.4 -9.2h0M-58.6 -2.0h0M-66.5 6.1h0M-69.6 12.3h0M-71.4 10.3h0M-69.6 10.2h0M-76.6 -33.9h0M-52.5 6.3h0M-50.8 4.5h0M-38.7 11.4h0M-33.6 -21.0h0M-8.7 -27.2h0M-23.7 -31.2h0M-17.4 -28.4h0M-10.5 -35.9h0" stroke="#fff5b0" stroke-width="1.40"/><path d="M37.4 28.2h0M34.0 34.5h0M40.8 32.2h0M36.6 26.6h0M17.7 38.9h0M36.6 12.1h0M42.6 0.9h0M38.4 15.6h0M48.4 23.8h0M53.2 11.5h0M51.7 0.6h0M25.9 6.7h0M32.2 1.2h0M32.3 4.4h0M24.2 4.4h0M52.5 -6.2h0M34.8 -22.2h0M31.6 -0.1h0M20.3 -24.0h0M11.7 -24.3h0M-58.3 -19.1h0M-64.2 -24.8h0M-65.4 -18.0h0M-63.7 -16.2h0M-63.4 -22.8h0M-56.8 -24.9h0M-52.9 -29.5h0M-71.9 -25.4h0M-56.6 -19.3h0M-60.4 -22.7h0M-63.8 -35.1h0M-48.9 -25.6h0M-58.9 -18.4h0M-63.6 -28.6h0M-66.6 -21.0h0M-65.8 -27.8h0M-51.6 -29.9h0M-67.6 -23.7h0M-54.8 -20.4h0M-58.1 -26.9h0M-60.6 -33.2h0M-62.9 -21.3h0M-54.6 -23.5h0M-77.1 -22.1h0M-49.8 -26.6h0M-72.2 -26.8h0M-69.7 -19.0h0M-52.1 -28.0h0M-68.2 -24.6h0M-57.9 -30.6h0M-64.0 -29.6h0M-63.1 -34.4h0M-61.2 -21.8h0M-62.2 -20.2h0M-65.1 -26.9h0M-75.4 -23.3h0M-57.7 -32.7h0" stroke="#b0ecfa" stroke-width="1.40"/><path d="M36.7 35.4h0M25.1 35.4h0M29.5 29.5h0M41.9 34.8h0M38.9 31.1h0M19.2 38.5h0M30.5 33.8h0M36.2 41.0h0M25.3 50.2h0M42.6 32.3h0M24.7 46.4h0M53.5 33.9h0M27.4 31.7h0M37.4 33.8h0M41.0 23.9h0M22.7 45.9h0M23.9 39.3h0M21.8 47.1h0M41.3 29.2h0M51.6 35.8h0M17.7 45.3h0M30.5 38.4h0M33.3 24.7h0M23.4 35.8h0M32.3 30.2h0M20.3 37.2h0M38.0 30.0h0M24.0 49.6h0M25.6 44.7h0M20.5 39.4h0M30.3 48.0h0M50.4 29.2h0M24.1 18.7h0M26.1 29.2h0M29.2 24.2h0M26.5 23.6h0M25.5 20.8h0M31.0 21.1h0M32.7 24.3h0M44.9 0.8h0M46.6 7.3h0M41.3 11.3h0M45.1 5.0h0M40.5 16.0h0M45.2 12.5h0M42.3 9.3h0M37.1 14.3h0M42.0 17.6h0M41.6 23.6h0M52.0 19.2h0M51.4 7.1h0M34.9 0.1h0M46.2 -12.3h0M52.4 -20.9h0M36.7 -21.4h0M30.9 -32.7h0M49.8 -19.8h0M42.8 -17.1h0M42.6 -3.7h0M46.0 -21.4h0M55.7 -0.1h0M31.4 -28.8h0M51.2 -12.7h0M43.9 -0.2h0M40.0 -10.0h0M47.9 -11.4h0M44.6 -3.5h0M28.4 -20.6h0M33.4 -20.7h0M24.5 -21.2h0M25.3 -12.4h0M28.7 -6.9h0M27.9 -15.2h0M21.6 -11.7h0M33.0 -14.2h0M37.8 -0.4h0M35.6 -14.0h0M24.1 -5.5h0M14.6 -30.4h0M15.8 -21.9h0M5.7 -35.8h0M-2.7 -32.7h0M18.0 -33.8h0M1.1 -29.7h0M16.9 -28.9h0M23.4 -31.3h0M20.5 -24.5h0M15.4 -18.8h0M0.2 -32.6h0M63.9 35.5h0M68.9 29.1h0M51.3 40.1h0M56.2 2.2h0M79.4 -12.1h0M91.0 -18.9h0M71.8 -10.9h0M79.6 15.7h0M88.7 3.1h0M-57.1 -27.3h0M-66.3 -17.5h0M-60.8 -18.0h0M-51.0 -28.1h0M-56.9 -29.9h0M-58.2 -34.4h0M-51.8 -22.4h0M-72.9 -17.9h0M-55.4 -19.4h0M-53.6 -25.9h0M-60.5 -30.6h0M-57.4 -33.6h0M-50.4 -29.4h0M-75.2 -21.4h0M-58.8 -33.8h0M-61.4 -34.4h0M-68.9 -20.0h0M-55.0 -24.7h0M-58.0 -28.1h0M-67.0 -16.6h0M-71.3 -23.5h0M-70.4 -19.8h0M-74.7 -19.1h0M-59.1 -26.1h0M-55.4 -22.8h0M-63.0 -24.0h0M-66.8 -27.5h0M-61.0 -20.4h0M-53.7 -28.9h0M-52.1 -29.1h0M-56.8 -28.7h0M-54.0 -19.8h0M-73.1 -25.0h0M-71.2 -25.0h0M-61.7 -25.6h0M-50.9 -26.3h0M-59.5 -22.4h0M-56.7 -30.8h0M-53.9 -21.8h0M-52.2 -30.6h0M-76.2 -23.6h0M-62.3 -29.2h0M-63.9 -19.2h0M-74.5 -23.4h0M-48.0 -25.9h0M-60.0 -33.7h0M-49.3 -22.8h0M-56.5 -32.0h0M-63.2 -15.5h0M-68.5 -21.1h0M-61.1 -24.4h0M-66.3 -18.3h0M-63.9 -23.8h0M-52.8 -31.2h0M-52.9 -28.7h0M-63.9 -31.4h0M-70.9 -21.5h0M-76.3 -21.6h0M-77.8 -20.2h0M-78.6 5.1h0M-80.7 -0.2h0M-58.9 23.5h0M-64.9 19.4h0M-57.2 11.4h0M-64.8 1.9h0M-71.2 7.8h0M-77.2 -25.4h0M-59.5 -13.2h0M-47.4 -23.5h0M-48.6 -3.9h0M-48.7 -7.1h0M-48.1 12.4h0M-45.2 19.8h0M-41.5 21.2h0M-34.3 -10.2h0M-25.3 -20.1h0M-34.3 -1.3h0M-15.4 -27.4h0M-18.0 -31.7h0M-13.2 -36.5h0M-21.3 -32.2h0M-13.0 -31.6h0M-16.2 -38.4h0M-20.2 -30.8h0M-19.6 -32.6h0M-21.6 -27.2h0" stroke="#ffd490" stroke-width="1.40"/><path d="M27.1 35.0h0M28.0 33.4h0M34.3 23.3h0M44.1 28.8h0M41.3 4.9h0M38.6 3.4h0M46.2 16.8h0M31.5 11.6h0M-64.5 -27.6h0M-70.1 -23.2h0M-63.9 -18.2h0M-78.1 -21.8h0M-76.0 -19.9h0M-49.1 -28.6h0M-54.0 -21.0h0M-70.6 -18.7h0M-64.8 -22.4h0M-68.9 -16.9h0M-61.9 -16.0h0M-55.8 -31.3h0M-62.3 -35.3h0M-69.3 -26.0h0M-53.4 -19.1h0M-61.4 -30.2h0M-63.2 -32.3h0M-58.5 -32.1h0M-58.9 -27.5h0M-81.1 -2.2h0M-66.6 -1.3h0M-69.3 -10.4h0" stroke="#8cdcf8" stroke-width="1.40"/><path d="M35.5 22.1h0M29.8 42.8h0M42.8 37.9h0M46.1 26.7h0M34.1 47.5h0M43.7 46.8h0M30.6 36.7h0M23.6 41.6h0M28.1 45.9h0M36.2 44.2h0M40.4 35.6h0M32.4 28.5h0M31.8 37.6h0M29.7 53.9h0M29.4 46.7h0M53.7 36.3h0M21.9 43.0h0M44.1 40.1h0M51.0 40.0h0M22.4 36.9h0M36.6 23.4h0M33.3 37.1h0M21.1 44.3h0M46.3 44.5h0M28.9 40.7h0M23.9 51.0h0M31.3 35.3h0M44.1 33.6h0M21.9 35.5h0M50.0 36.2h0M42.1 46.1h0M44.9 25.9h0M23.6 37.9h0M29.3 19.4h0M23.4 27.3h0M25.2 15.2h0M17.7 25.4h0M26.7 18.9h0M28.5 29.0h0M40.0 6.9h0M35.2 15.1h0M40.8 0.5h0M49.5 0.3h0M36.4 18.6h0M34.1 9.7h0M27.8 9.6h0M38.9 -25.9h0M53.3 -19.1h0M41.0 -2.1h0M40.5 -12.7h0M54.1 -5.0h0M45.0 -19.6h0M39.6 -20.0h0M48.4 -14.3h0M33.0 -3.3h0M29.4 -2.5h0M21.8 -15.2h0M21.0 -21.5h0M31.2 -22.5h0M37.7 -6.4h0M29.4 -24.4h0M33.5 -23.6h0M13.8 -26.8h0M17.7 -26.0h0M1.9 -37.4h0M66.9 12.9h0M70.8 25.4h0M57.8 17.3h0M65.4 30.9h0M69.7 34.4h0M62.6 31.1h0M64.9 24.4h0M57.6 23.4h0M61.3 19.9h0M41.8 37.2h0M80.8 -17.7h0M84.4 7.7h0M78.5 -5.5h0M70.5 0.0h0M-54.4 -26.6h0M-61.7 -32.4h0M-57.7 -29.7h0M-50.8 -25.4h0M-63.3 -26.1h0M-59.6 -27.9h0M-69.1 -25.0h0M-52.8 -20.2h0M-53.7 -27.3h0M-60.1 -17.2h0M-59.4 -32.0h0M-70.3 -25.1h0M-65.8 -23.7h0M-61.9 -19.3h0M-50.5 -27.4h0M-67.5 -19.7h0M-64.9 -34.2h0M-60.8 -27.2h0M-62.4 -33.3h0M-73.8 -19.7h0M-70.7 -24.2h0M-51.4 -27.3h0M-54.1 -22.8h0M-68.6 15.5h0M-68.5 16.9h0M-57.1 7.4h0M-70.9 -4.8h0M-61.9 11.5h0M-69.1 5.1h0M-61.6 -8.6h0M-64.3 -2.7h0M-68.1 7.1h0M-54.3 -35.5h0M-69.4 -32.4h0M-68.6 -16.0h0M-47.1 -14.5h0M-29.3 -22.9h0M-45.8 -9.8h0M-37.7 -17.5h0M-38.1 18.2h0M-25.5 6.9h0M-31.6 -15.8h0M-22.3 -17.1h0M-16.5 -36.2h0M-18.7 -33.9h0M-19.0 -29.0h0M-17.4 -25.3h0M-17.0 -30.0h0M-12.3 -33.8h0" stroke="#ffa060" stroke-width="1.40"/><path d="M43.5 26.5h0M21.7 -18.9h0M19.2 -13.3h0M-62.8 -31.4h0M-64.9 -19.6h0M-60.1 -21.6h0M-65.1 -20.9h0M-62.5 -23.0h0M-70.9 -22.8h0M-63.6 -33.6h0" stroke="#6cc0f4" stroke-width="1.40"/><path d="M38.8 38.9h0M28.4 37.6h0M27.2 36.8h0M21.5 32.6h0M29.6 5.6h0M23.9 0.0h0M52.1 -3.8h0M54.7 -7.3h0M44.5 -13.4h0M26.8 -4.9h0M3.2 -27.6h0M67.8 8.2h0M-60.1 -34.5h0M-65.0 -25.5h0M-50.8 -22.1h0M-44.8 17.5h0M-43.8 23.7h0M-41.6 10.5h0" stroke="#ffa060" stroke-width="2.16"/><path d="M49.0 29.1h0M34.1 50.0h0M27.0 51.4h0M31.7 47.6h0M28.7 49.2h0M26.2 32.9h0M37.2 45.4h0M25.5 51.9h0M45.6 34.4h0M40.0 49.9h0M42.8 43.0h0M36.3 32.3h0M32.7 49.2h0M23.1 34.4h0M35.5 52.5h0M45.9 29.1h0M45.1 41.9h0M39.8 37.8h0M41.4 50.1h0M50.4 32.1h0M39.0 48.4h0M35.1 39.6h0M43.4 5.8h0M43.4 24.4h0M38.6 20.5h0M34.3 17.8h0M48.4 2.4h0M34.3 12.8h0M41.8 -8.7h0M49.8 -11.4h0M42.3 -10.6h0M45.5 -1.8h0M47.4 -23.6h0M34.2 -31.0h0M50.0 -5.0h0M41.9 -20.9h0M51.0 -17.7h0M41.5 -6.5h0M46.2 -9.8h0M44.1 -15.4h0M41.9 -0.4h0M44.6 -8.7h0M23.4 -2.5h0M37.5 -3.7h0M35.6 -17.2h0M28.3 -11.3h0M27.2 -18.2h0M26.8 -30.4h0M40.7 -0.8h0M24.3 -9.3h0M24.4 -17.4h0M21.5 -4.5h0M30.5 -16.0h0M2.8 -34.7h0M15.9 -41.8h0M6.5 -27.4h0M26.2 -32.2h0M9.5 -38.1h0M11.1 -27.6h0M64.3 15.0h0M54.2 18.1h0M67.6 36.8h0M61.3 22.6h0M60.5 29.4h0M58.5 14.6h0M54.3 14.4h0M67.3 -30.8h0M69.7 -12.2h0M90.1 -12.7h0M80.5 2.8h0M88.4 -15.4h0M80.2 -3.0h0M82.0 -13.2h0M76.3 8.2h0M75.5 10.5h0M75.5 5.4h0M70.1 17.7h0M75.2 11.7h0M-72.1 -20.2h0M-64.9 -17.3h0M-61.9 -17.8h0M-68.0 -17.5h0M-53.6 -30.7h0M-71.5 -22.1h0M-59.4 -19.5h0M-49.8 -28.0h0M-62.2 -34.1h0M-48.8 -23.9h0M-76.3 -20.8h0M-65.0 -29.8h0M-55.8 -26.4h0M-60.1 -26.5h0M-55.5 -32.8h0M-59.2 -35.4h0M-54.4 -19.0h0M-55.5 -27.3h0M-64.6 -31.1h0M-58.9 -24.4h0M-77.3 -24.2h0M-53.8 -31.5h0M-56.9 -21.5h0M-59.0 -25.3h0M-79.2 7.7h0M-80.6 3.3h0M-78.3 -18.9h0M-82.2 -18.4h0M-66.5 18.5h0M-62.5 20.2h0M-58.9 -7.2h0M-66.2 0.4h0M-59.6 -4.2h0M-63.8 0.4h0M-58.1 5.1h0M-66.9 -12.8h0M-46.5 14.4h0M-52.8 -15.5h0M-49.5 -18.5h0M-55.2 -9.2h0M-50.8 -0.8h0M-51.0 11.0h0M-45.4 -20.2h0M-47.9 19.8h0M-53.6 2.2h0M-46.1 -30.7h0M-46.5 25.7h0M-56.6 -2.7h0M-26.6 -25.4h0M-37.1 -12.1h0M-33.9 -6.2h0M-30.3 -3.6h0M-15.4 -33.4h0M-11.0 -31.5h0M-14.8 -30.8h0M-14.3 -38.0h0M-14.3 -34.9h0M-11.3 -38.3h0M-18.2 -36.1h0M-16.9 -34.1h0M-9.4 -31.9h0" stroke="#ff6842" stroke-width="2.16"/><path d="M-59.5 -29.0h0" stroke="#4ca0f4" stroke-width="2.16"/><path d="M39.2 44.1h0M34.6 44.5h0M47.0 33.9h0M40.0 41.1h0M42.9 48.7h0M35.3 46.1h0M44.1 38.7h0M31.7 45.7h0M39.4 47.0h0M41.4 38.6h0M44.3 35.5h0M51.5 30.2h0M26.8 49.1h0M22.9 48.3h0M21.7 49.0h0M38.7 28.8h0M27.6 47.5h0M24.0 52.7h0M41.7 41.4h0M43.5 31.2h0M46.7 35.8h0M49.6 30.9h0M47.1 32.3h0M38.8 45.5h0M42.5 39.5h0M52.0 34.3h0M41.4 44.8h0M33.9 41.6h0M39.6 -23.9h0M33.5 -29.1h0M47.0 -15.8h0M36.5 -26.4h0M32.4 -26.8h0M50.3 -1.2h0M35.5 -32.6h0M53.1 -15.4h0M40.8 -25.5h0M28.9 -28.0h0M35.9 -8.6h0M34.9 -6.1h0M16.3 -45.3h0M21.6 -34.3h0M20.3 -48.1h0M58.7 11.7h0M67.8 25.9h0M71.5 21.8h0M51.4 30.9h0M68.8 20.7h0M57.5 34.3h0M58.8 25.7h0M53.7 47.9h0M68.5 31.8h0M62.7 41.0h0M70.9 -35.1h0M84.6 -22.3h0M76.9 -21.1h0M48.4 -32.8h0M53.9 -40.5h0M82.0 -30.7h0M65.3 -22.0h0M77.9 -40.5h0M78.0 -44.7h0M79.1 -43.5h0M50.9 -39.2h0M94.5 -25.2h0M90.2 -18.9h0M77.2 -2.7h0M74.3 -9.3h0M68.8 -5.5h0M88.5 6.8h0M80.2 9.3h0M80.1 -9.7h0M89.4 -3.7h0M88.4 9.6h0M58.1 2.8h0M66.2 -2.8h0M64.6 -5.0h0M75.8 -6.3h0M68.7 -8.3h0M76.7 -12.9h0M66.8 9.1h0M68.6 7.5h0M84.4 1.7h0M71.5 6.0h0M71.3 -4.3h0M83.0 -10.0h0M75.6 6.4h0M73.3 17.3h0M68.3 5.7h0M71.4 -0.2h0M69.1 5.2h0M66.3 26.4h0M67.5 24.8h0M-66.1 -22.9h0M-51.9 -20.0h0M-73.3 -26.5h0M-53.3 -22.6h0M-54.4 -32.2h0M-56.9 -20.4h0M-53.0 -24.8h0M-63.0 -29.7h0M-67.9 -22.9h0M-55.7 -21.9h0M-73.2 -22.8h0M-79.5 0.6h0M-77.2 -24.2h0M-76.8 -20.8h0M-68.4 16.1h0M-58.6 24.0h0M-70.7 14.6h0M-65.8 18.6h0M-63.2 5.9h0M-62.8 -5.5h0M-65.2 10.7h0M-64.4 -9.0h0M-65.5 -7.2h0M-58.5 -36.9h0M-60.7 -39.7h0M-72.0 -14.4h0M-62.8 -15.3h0M-48.8 -10.3h0M-48.9 -29.9h0M-54.0 -5.2h0M-44.9 -27.6h0M-50.4 18.2h0M-47.1 -1.6h0M-32.7 -17.3h0M-27.5 -30.4h0M-36.1 -4.6h0M-43.5 -6.0h0M-34.7 -29.3h0M-32.7 -25.8h0M-26.5 -9.7h0M-25.8 -1.8h0M-15.6 -23.5h0M-22.8 -29.0h0M-10.3 -28.8h0M-15.0 -29.2h0M-18.0 -38.5h0M-13.8 -39.7h0" stroke="#ff3a38" stroke-width="2.16"/><path d="M-75.9 -22.4h0" stroke="#3a78f4" stroke-width="2.16"/><path d="M38.5 36.6h0M28.1 53.1h0M41.0 37.0h0M40.6 46.0h0M45.5 32.9h0M47.1 30.0h0M22.4 52.9h0M29.4 52.3h0M22.4 51.1h0M45.1 30.6h0M40.7 48.7h0M32.2 43.8h0M29.8 44.7h0M36.0 38.6h0M37.9 40.7h0M42.8 36.5h0M39.3 42.5h0M30.1 49.4h0M47.7 28.0h0M42.1 47.5h0M29.3 50.7h0M35.1 48.8h0M51.1 38.5h0M54.9 34.8h0M35.7 47.5h0M28.8 -32.4h0M38.0 -29.8h0M41.8 -30.9h0M35.4 -39.2h0M39.7 -40.6h0M37.7 -41.6h0M49.0 -18.0h0M40.0 -37.8h0M42.1 -14.3h0M39.6 -28.7h0M33.1 -38.4h0M47.4 -0.4h0M43.9 -22.2h0M19.2 -45.5h0M18.8 -36.6h0M45.0 40.8h0M48.6 34.9h0M44.6 36.8h0M59.6 6.5h0M54.1 21.3h0M63.9 18.4h0M64.4 21.6h0M84.1 -25.5h0M65.0 -28.7h0M79.4 -32.6h0M62.5 -33.8h0M82.5 -34.3h0M78.3 -39.1h0M61.9 -30.5h0M54.0 -36.1h0M49.1 -27.5h0M52.7 -39.1h0M80.3 -31.0h0M50.5 -28.9h0M80.8 -42.1h0M82.0 -27.0h0M72.5 -36.5h0M41.9 -40.8h0M77.3 -25.2h0M67.7 -22.4h0M87.0 -30.8h0M79.4 -39.9h0M45.3 -40.2h0M65.9 -25.7h0M81.1 -34.9h0M69.3 -25.6h0M58.9 -25.0h0M74.7 -21.0h0M49.4 -40.6h0M75.2 -26.1h0M66.2 -34.5h0M75.3 -27.6h0M44.2 -42.3h0M78.5 -23.0h0M49.7 -38.2h0M54.9 -28.6h0M61.3 -24.4h0M88.8 -22.6h0M85.0 -33.0h0M71.9 -27.1h0M82.6 -44.6h0M55.0 -34.2h0M66.2 -22.7h0M73.0 -28.8h0M75.1 -32.4h0M72.3 -21.1h0M65.1 -32.8h0M81.0 -21.6h0M70.8 -20.6h0M46.1 -37.7h0M48.1 -31.6h0M82.4 -32.1h0M80.5 -27.6h0M89.6 -29.6h0M54.5 -30.8h0M52.5 -27.9h0M79.2 -19.5h0M60.3 -38.3h0M50.1 -33.9h0M56.7 -28.5h0M51.7 -32.5h0M91.0 -22.3h0M53.4 -31.2h0M50.2 -25.3h0M86.4 -28.4h0M54.3 -34.9h0M87.7 -22.0h0M78.5 -29.1h0M80.0 -25.6h0M86.6 -43.0h0M90.5 -43.9h0M84.7 -44.9h0M89.5 -15.9h0M89.5 -9.6h0M89.4 -6.7h0M89.0 -25.4h0M90.7 -21.8h0M84.2 -40.6h0M87.9 -6.3h0M87.5 -32.9h0M86.2 -31.3h0M87.1 -2.2h0M85.9 -34.4h0M73.5 18.1h0M62.1 5.6h0M78.4 13.4h0M90.1 -9.8h0M68.2 -1.9h0M63.2 7.5h0M82.8 -2.9h0M60.9 3.0h0M63.4 -1.9h0M85.4 -9.1h0M91.7 -0.4h0M75.3 7.1h0M75.5 8.1h0M74.5 14.0h0M68.2 7.5h0M68.4 3.9h0M68.6 3.8h0M68.9 25.5h0M-50.0 -22.4h0M-72.1 -24.4h0M-62.7 -26.7h0M-59.2 -17.0h0M-82.7 -12.2h0M-80.7 -15.4h0M-78.6 8.3h0M-60.8 -6.1h0M-66.5 8.0h0M-68.3 -7.3h0M-67.9 -2.6h0M-68.7 -0.3h0M-66.1 13.4h0M-57.4 -5.9h0M-69.7 -35.9h0M-72.2 -34.0h0M-57.6 -8.8h0M-53.4 13.4h0M-41.2 -30.9h0M-51.4 -5.0h0M-43.7 14.7h0M-30.9 -28.6h0M-11.7 -24.8h0M-19.9 -27.4h0M-13.1 -23.7h0M-17.8 -40.1h0M-17.3 -23.6h0M-19.6 -25.1h0" stroke="#fb1d2c" stroke-width="2.16"/><path d="M51.1 33.3h0M48.8 32.1h0M43.3 41.5h0M52.3 37.6h0M37.5 38.4h0M52.2 32.3h0M45.8 37.3h0M41.3 43.4h0M49.0 33.5h0M26.2 46.1h0M41.1 40.1h0M33.8 46.1h0M36.1 51.1h0M36.9 39.8h0M27.8 50.2h0M41.9 -27.4h0M41.9 -34.7h0M45.3 -23.5h0M46.9 -26.2h0M51.3 -7.9h0M43.0 -33.0h0M42.6 -38.2h0M44.8 -25.5h0M34.7 -36.9h0M39.7 -30.9h0M36.9 -37.3h0M48.4 -3.3h0M50.0 -26.1h0M50.6 -23.8h0M38.0 -39.6h0M37.0 -43.7h0M31.8 -6.3h0M33.5 -40.1h0M33.5 -44.2h0M51.0 24.6h0M65.5 27.9h0M55.6 10.8h0M57.5 30.9h0M64.2 38.3h0M77.0 -32.1h0M76.3 -41.5h0M74.8 -17.9h0M69.0 -27.6h0M89.2 -31.4h0M53.5 -29.6h0M55.4 -32.9h0M49.4 -31.2h0M58.8 -30.4h0M53.9 -33.2h0M61.2 -34.0h0M56.5 -34.4h0M44.2 -30.1h0M78.4 -20.6h0M67.7 -23.9h0M58.3 -39.5h0M47.1 -39.1h0M81.9 -36.0h0M47.0 -32.5h0M58.2 -31.9h0M79.9 -41.6h0M50.9 -31.6h0M56.2 -30.8h0M64.5 -26.6h0M46.9 -36.1h0M54.7 -32.1h0M75.6 -37.7h0M50.3 -27.8h0M85.8 -30.5h0M58.8 -26.7h0M47.2 -28.2h0M80.2 -33.3h0M84.2 -29.0h0M64.3 -23.4h0M71.0 -18.3h0M80.4 -36.0h0M57.3 -35.4h0M66.8 -32.2h0M44.0 -27.0h0M77.0 -33.3h0M46.8 -30.5h0M69.7 -24.2h0M76.5 -43.1h0M49.6 -39.4h0M84.6 -30.8h0M79.5 -29.9h0M52.9 -35.9h0M76.8 -34.3h0M72.5 -33.2h0M66.5 -20.3h0M62.7 -32.4h0M77.1 -26.7h0M66.1 -27.8h0M67.0 -25.2h0M82.6 -22.2h0M79.7 -34.6h0M73.2 -27.1h0M82.4 -38.9h0M67.7 -31.8h0M75.1 -43.4h0M67.4 -16.8h0M52.2 -25.6h0M73.9 -29.7h0M69.7 -19.6h0M77.6 -18.7h0M61.1 -27.4h0M59.3 -35.9h0M71.7 -23.3h0M79.3 -27.9h0M58.4 -33.2h0M69.4 -36.8h0M80.4 -37.6h0M78.8 -22.0h0M78.2 -43.0h0M81.8 -20.2h0M48.3 -36.0h0M69.2 -22.4h0M83.3 -36.7h0M87.2 -35.0h0M76.6 -30.7h0M45.6 -42.5h0M86.8 -23.5h0M85.6 -37.7h0M51.1 -43.3h0M78.7 -41.5h0M45.7 -34.1h0M46.7 -41.3h0M50.5 -40.2h0M60.4 -34.9h0M86.3 -22.4h0M43.4 -28.0h0M54.9 -39.6h0M45.1 -38.6h0M76.4 -36.6h0M66.4 -29.8h0M73.6 -37.7h0M63.1 -26.8h0M78.3 -26.8h0M65.8 -19.4h0M76.7 -28.7h0M75.2 -40.2h0M71.6 -41.1h0M69.9 -35.8h0M54.8 -38.1h0M63.8 -25.7h0M71.9 -35.3h0M48.4 -38.4h0M83.6 -34.9h0M72.3 -38.1h0M47.4 -35.1h0M85.6 -24.2h0M65.6 -23.8h0M43.2 -30.9h0M81.0 -40.8h0M43.8 -37.4h0M74.7 -23.6h0M52.6 -30.1h0M87.3 -20.4h0M68.1 -29.0h0M71.5 -29.2h0M72.5 -22.2h0M70.7 -39.1h0M63.3 -23.8h0M68.9 -35.0h0M79.6 -38.8h0M72.8 -39.5h0M68.0 -36.5h0M74.7 -35.1h0M50.7 -34.7h0M60.2 -29.7h0M68.5 -33.5h0M75.9 -29.6h0M63.5 -30.6h0M87.0 -25.4h0M73.3 -42.9h0M75.7 -33.6h0M60.0 -28.7h0M77.5 -41.7h0M68.9 -20.7h0M64.5 -24.5h0M77.6 -28.0h0M71.4 -31.8h0M68.5 -15.9h0M75.9 -38.7h0M60.5 -31.4h0M71.5 -24.7h0M48.7 -34.1h0M43.9 -39.7h0M70.3 -25.2h0M73.9 -33.5h0M46.5 -29.2h0M57.5 -33.9h0M58.0 -26.0h0M55.8 -27.5h0M59.3 -23.7h0M90.0 -27.2h0M87.9 -28.9h0M70.8 -16.7h0M43.4 -29.1h0M93.4 -37.2h0M88.7 -45.1h0M89.7 -41.5h0M90.8 -32.5h0M90.7 -25.7h0M88.8 -24.3h0M86.3 -36.6h0M88.1 -32.5h0M89.3 -16.6h0M89.7 -9.2h0M91.3 -20.7h0M89.9 -24.3h0M82.0 -40.7h0M88.6 -29.8h0M89.9 -17.8h0M85.8 -39.9h0M88.4 -7.6h0M84.9 -38.6h0M89.3 -29.4h0M88.7 -1.7h0M66.4 5.3h0M83.3 -6.2h0M90.5 -15.9h0M64.5 2.3h0M85.6 -12.1h0M74.2 -16.6h0M68.4 9.7h0M75.9 11.5h0M75.6 9.2h0M75.4 6.1h0M75.1 15.1h0M69.7 1.0h0M67.9 27.3h0M66.3 28.1h0M67.8 27.8h0M69.3 25.1h0M69.2 25.0h0M-60.2 -32.4h0M-79.6 3.1h0M-56.7 23.8h0M-62.6 -3.0h0M-69.0 -9.2h0M-61.6 4.7h0M-60.6 8.2h0M-80.1 -24.0h0M-64.5 -36.4h0M-64.2 -11.6h0M-52.1 -18.2h0M-38.9 -28.8h0M-50.4 -12.2h0M-41.5 -11.0h0M-40.2 -7.9h0M-39.3 -21.6h0M-14.4 -26.1h0M-12.7 -29.9h0M-20.7 -28.8h0" stroke="#d8152e" stroke-width="2.16"/><path d="M33.4 42.9h0M45.4 45.9h0M48.2 35.8h0M40.2 -33.9h0M37.6 -32.7h0M37.1 -35.5h0M43.9 -35.3h0M35.2 -35.0h0M42.1 -24.1h0M40.1 -35.8h0M35.8 -42.3h0M36.6 -48.1h0M60.4 37.9h0M53.6 36.4h0M47.5 29.6h0M68.0 16.7h0M55.7 5.0h0M89.0 -23.9h0M57.4 -31.1h0M73.9 -43.9h0M62.7 -24.9h0M68.3 -26.4h0M83.0 -28.5h0M61.4 -32.6h0M57.5 -26.9h0M77.0 -35.6h0M43.7 -31.9h0M51.3 -36.1h0M70.1 -30.6h0M80.6 -28.9h0M58.6 -37.5h0M78.5 -34.7h0M48.9 -41.5h0M44.5 -35.6h0M81.9 -25.5h0M79.5 -24.5h0M77.0 -29.7h0M66.9 -35.6h0M72.9 -32.1h0M85.6 -26.8h0M50.0 -29.9h0M76.3 -39.7h0M81.1 -29.9h0M73.9 -26.1h0M74.2 -40.8h0M75.3 -41.8h0M68.3 -38.5h0M70.9 -38.0h0M51.9 -29.1h0M51.8 -30.9h0M78.5 -31.9h0M74.8 -25.1h0M68.6 -30.9h0M85.4 -20.0h0M57.3 -37.6h0M50.9 -37.8h0M79.9 -26.7h0M48.0 -29.0h0M55.2 -37.1h0M84.3 -40.8h0M45.4 -36.9h0M77.5 -46.7h0M67.6 -34.3h0M70.6 -28.2h0M72.2 -18.6h0M52.6 -26.8h0M57.1 -39.6h0M67.1 -27.0h0M74.4 -31.6h0M58.9 -34.7h0M74.7 -38.5h0M45.4 -27.7h0M63.7 -28.7h0M82.6 -29.6h0M73.3 -35.3h0M82.1 -23.4h0M55.4 -35.5h0M45.4 -32.4h0M73.3 -41.9h0M69.2 -17.6h0M81.3 -38.7h0M85.3 -28.1h0M57.8 -28.9h0M75.8 -18.9h0M80.0 -20.7h0M76.7 -44.6h0M83.4 -21.0h0M42.1 -28.0h0M65.7 -38.5h0M80.1 -18.8h0M49.6 -36.1h0M88.8 -30.3h0M64.2 -27.7h0M69.3 -32.0h0M62.5 -28.4h0M77.0 -19.8h0M82.9 -33.2h0M47.8 -40.1h0M50.0 -32.3h0M52.6 -41.2h0M73.8 -19.5h0M72.6 -24.6h0M71.1 -32.9h0M80.1 -22.6h0M65.5 -30.7h0M48.0 -30.2h0M53.7 -41.8h0M51.8 -34.7h0M74.3 -37.0h0M51.1 -26.9h0M81.2 -45.6h0M81.0 -32.4h0M82.3 -37.3h0M43.3 -40.7h0M61.5 -25.6h0M67.5 -18.7h0M84.1 -27.5h0M45.2 -30.9h0M44.9 -29.0h0M70.5 -27.1h0M75.3 -20.0h0M66.7 -33.4h0M83.1 -23.9h0M84.5 -32.0h0M86.8 -27.2h0M73.1 -23.6h0M52.4 -33.6h0M66.8 -37.9h0M85.9 -21.1h0M59.9 -32.6h0M63.9 -31.8h0M70.0 -33.8h0M60.4 -24.8h0M56.1 -29.4h0M83.3 -41.7h0M72.7 -30.6h0M84.0 -33.1h0M75.3 -30.9h0M84.2 -43.2h0M78.3 -37.5h0M81.3 -46.7h0M71.2 -26.0h0M75.7 -24.1h0M47.9 -41.9h0M69.7 -38.1h0M78.2 -30.2h0M49.3 -42.7h0M84.8 -36.9h0M79.3 -44.6h0M56.4 -32.6h0M70.3 -22.2h0M76.1 -22.1h0M82.2 -40.0h0M42.4 -29.8h0M45.8 -35.6h0M46.4 -26.9h0M73.5 -20.5h0M72.6 -25.9h0M52.0 -42.1h0M92.7 -29.0h0M98.1 -23.4h0M95.5 -29.8h0M89.0 -37.1h0M95.0 -27.4h0M93.1 -31.1h0M88.7 -18.6h0M90.3 -15.4h0M84.0 -43.1h0M88.6 -25.1h0M90.3 -17.5h0M89.5 -24.2h0M91.0 -17.8h0M89.0 -12.5h0M85.1 -35.3h0M89.8 -26.4h0M88.6 -20.6h0M90.8 -7.7h0M89.6 -23.5h0M84.7 -39.5h0M90.7 -22.6h0M90.1 -19.4h0M90.7 -1.4h0M90.3 -22.4h0M86.6 -5.8h0M88.2 -20.2h0M78.3 -17.6h0M74.0 4.4h0M-80.7 0.5h0M-65.4 -5.3h0M-58.8 7.9h0M-62.5 -1.3h0M-72.1 5.7h0M-62.6 2.1h0M-29.0 11.6h0M-11.1 -27.1h0" stroke="#b00f28" stroke-width="2.16"/></g></g>
<g><g fill="none" stroke="#b4b4b4" stroke-width="0.36"><circle r="88.5"/><circle r="41.1"/><path d="M0 0L0.0 107.2"/><path d="M0 0L53.6 92.8"/><path d="M0 0L92.8 53.6"/><path d="M0 0L107.2 0.0"/><path d="M0 0L92.8 -53.6"/><path d="M0 0L53.6 -92.8"/><path d="M0 0L0.0 -107.2"/><path d="M0 0L-53.6 -92.8"/><path d="M0 0L-92.8 -53.6"/><path d="M0 0L-107.2 -0.0"/><path d="M0 0L-92.8 53.6"/><path d="M0 0L-53.6 92.8"/></g><g fill="none" stroke="#707070" stroke-width="0.4" clip-path="url(#lc)"><circle r="88.5"/><circle r="41.1"/><path d="M0 0L0.0 107.2"/><path d="M0 0L53.6 92.8"/><path d="M0 0L92.8 53.6"/><path d="M0 0L107.2 0.0"/><path d="M0 0L92.8 -53.6"/><path d="M0 0L53.6 -92.8"/><path d="M0 0L0.0 -107.2"/><path d="M0 0L-53.6 -92.8"/><path d="M0 0L-92.8 -53.6"/><path d="M0 0L-107.2 -0.0"/><path d="M0 0L-92.8 53.6"/><path d="M0 0L-53.6 92.8"/></g><g stroke="#222" stroke-width="0.6"><path d="M0.0 106.2L0.0 109.1"/><path d="M53.1 92.0L54.5 94.5"/><path d="M92.0 53.1L94.5 54.6"/><path d="M106.2 0.0L109.1 0.0"/><path d="M92.0 -53.1L94.5 -54.5"/><path d="M53.1 -92.0L54.5 -94.5"/><path d="M0.0 -106.2L0.0 -109.1"/><path d="M-53.1 -92.0L-54.6 -94.5"/><path d="M-92.0 -53.1L-94.5 -54.6"/><path d="M-106.2 -0.0L-109.1 -0.0"/><path d="M-92.0 53.1L-94.5 54.6"/><path d="M-53.1 92.0L-54.6 94.5"/></g><circle r="107.2" fill="none" stroke="#111" stroke-width="1.0"/><circle r="2.3" fill="#000"/><text transform="translate(0.0 -114.8) rotate(0)" font-size="9.6" text-anchor="middle" x="0.0" y="3.4" fill="#111">180<tspan font-size="7" dy="-4">o</tspan><tspan dy="4">W</tspan></text><text transform="translate(-57.4 -99.4) rotate(-30)" font-size="9.6" text-anchor="middle" x="0.0" y="3.4" fill="#111">150<tspan font-size="7" dy="-4">o</tspan><tspan dy="4">W</tspan></text><text transform="translate(-99.4 -57.4) rotate(-60)" font-size="9.6" text-anchor="middle" x="0.0" y="3.4" fill="#111">120<tspan font-size="7" dy="-4">o</tspan><tspan dy="4">W</tspan></text><text transform="translate(-118.0 0.0) rotate(90)" font-size="9.6" text-anchor="middle" x="1.7" y="3.4" fill="#111">90<tspan font-size="7" dy="-4">o</tspan><tspan dy="4">W</tspan></text><text transform="translate(-102.2 59.0) rotate(60)" font-size="9.6" text-anchor="middle" x="1.7" y="3.4" fill="#111">60<tspan font-size="7" dy="-4">o</tspan><tspan dy="4">W</tspan></text><text transform="translate(-59.0 102.2) rotate(30)" font-size="9.6" text-anchor="middle" x="1.7" y="3.4" fill="#111">30<tspan font-size="7" dy="-4">o</tspan><tspan dy="4">W</tspan></text><text transform="translate(0.0 118.0) rotate(0)" font-size="9.6" text-anchor="middle" x="0.0" y="3.4" fill="#111">0<tspan font-size="7" dy="-4">o</tspan><tspan dy="4"></tspan></text><text transform="translate(59.0 102.2) rotate(-30)" font-size="9.6" text-anchor="middle" x="1.7" y="3.4" fill="#111">30<tspan font-size="7" dy="-4">o</tspan><tspan dy="4">E</tspan></text><text transform="translate(102.2 59.0) rotate(-60)" font-size="9.6" text-anchor="middle" x="1.7" y="3.4" fill="#111">60<tspan font-size="7" dy="-4">o</tspan><tspan dy="4">E</tspan></text><text transform="translate(118.0 0.0) rotate(-90)" font-size="9.6" text-anchor="middle" x="1.7" y="3.4" fill="#111">90<tspan font-size="7" dy="-4">o</tspan><tspan dy="4">E</tspan></text><text transform="translate(99.4 -57.4) rotate(60)" font-size="9.6" text-anchor="middle" x="0.0" y="3.4" fill="#111">120<tspan font-size="7" dy="-4">o</tspan><tspan dy="4">E</tspan></text><text transform="translate(57.4 -99.4) rotate(30)" font-size="9.6" text-anchor="middle" x="0.0" y="3.4" fill="#111">150<tspan font-size="7" dy="-4">o</tspan><tspan dy="4">E</tspan></text><path d="M-6.5 -87.3h4" stroke="#222" stroke-width="0.7"/><text x="5" y="-83.9" font-size="9.6" fill="#111">30<tspan font-size="7" dy="-4">o</tspan><tspan dy="4">N</tspan></text><path d="M-6.5 -39.9h4" stroke="#222" stroke-width="0.7"/><text x="5" y="-36.5" font-size="9.6" fill="#111">60<tspan font-size="7" dy="-4">o</tspan><tspan dy="4">N</tspan></text><rect x="127.9" y="91.83" width="6.0" height="11.62" fill="#2008d0"/><rect x="127.9" y="80.37" width="6.0" height="11.62" fill="#1a14f0"/><rect x="127.9" y="68.90" width="6.0" height="11.62" fill="#2a48f4"/><rect x="127.9" y="57.43" width="6.0" height="11.62" fill="#3a78f4"/><rect x="127.9" y="45.97" width="6.0" height="11.62" fill="#4ca0f4"/><rect x="127.9" y="34.50" width="6.0" height="11.62" fill="#6cc0f4"/><rect x="127.9" y="23.03" width="6.0" height="11.62" fill="#8cdcf8"/><rect x="127.9" y="11.57" width="6.0" height="11.62" fill="#b0ecfa"/><rect x="127.9" y="0.10" width="6.0" height="11.62" fill="#f0fcff"/><rect x="127.9" y="-11.37" width="6.0" height="11.62" fill="#fffff0"/><rect x="127.9" y="-22.83" width="6.0" height="11.62" fill="#fff5b0"/><rect x="127.9" y="-34.30" width="6.0" height="11.62" fill="#ffd490"/><rect x="127.9" y="-45.77" width="6.0" height="11.62" fill="#ffa060"/><rect x="127.9" y="-57.23" width="6.0" height="11.62" fill="#ff6842"/><rect x="127.9" y="-68.70" width="6.0" height="11.62" fill="#ff3a38"/><rect x="127.9" y="-80.17" width="6.0" height="11.62" fill="#fb1d2c"/><rect x="127.9" y="-91.63" width="6.0" height="11.62" fill="#d8152e"/><rect x="127.9" y="-103.10" width="6.0" height="11.62" fill="#b00f28"/><path d="M127.9 -103.0l3.0 -4.3l3.0 4.3z" fill="#ffee00"/><path d="M127.9 103.2l3.0 3.8l3.0 -3.8z" fill="#0c0880"/><path d="M127.9 -103.1v206.4M133.9 -103.1v206.4" stroke="#aaa" stroke-width="0.3" fill="none"/><text x="136.5" y="106.3" font-size="8.3" fill="#222">-1</text><text x="136.5" y="85.7" font-size="8.3" fill="#222">-0.8</text><text x="136.5" y="65.0" font-size="8.3" fill="#222">-0.6</text><text x="136.5" y="44.4" font-size="8.3" fill="#222">-0.4</text><text x="136.5" y="23.7" font-size="8.3" fill="#222">-0.2</text><text x="136.5" y="3.1" font-size="8.3" fill="#222">0</text><text x="136.5" y="-17.5" font-size="8.3" fill="#222">0.2</text><text x="136.5" y="-38.2" font-size="8.3" fill="#222">0.4</text><text x="136.5" y="-58.8" font-size="8.3" fill="#222">0.6</text><text x="136.5" y="-79.5" font-size="8.3" fill="#222">0.8</text><text x="136.5" y="-100.1" font-size="8.3" fill="#222">1</text><text transform="translate(161.2 -1.0)  rotate(-90)" font-size="8.3" text-anchor="middle" fill="#222">R</text></g>
<text class="s" x="-105" y="-88.6" font-size="14.2" fill="#111">(c)</text>
</g>
<path d="M89.90 430.10L89.90 401.70A28.4 28.4 0 0 0 77.81 455.80Z" fill="#ff0000" stroke="#222" stroke-width="0.35" stroke-linejoin="round"/><path d="M89.90 430.10L77.81 455.80A28.4 28.4 0 0 0 78.78 456.23Z" fill="#0000ff" stroke="#222" stroke-width="0.35" stroke-linejoin="round"/><path d="M89.90 430.10L78.78 456.23A28.4 28.4 0 0 0 106.59 407.12Z" fill="#ff8000" stroke="#222" stroke-width="0.35" stroke-linejoin="round"/><path d="M89.90 430.10L106.59 407.12A28.4 28.4 0 0 0 89.90 401.70Z" fill="#00ffff" stroke="#222" stroke-width="0.35" stroke-linejoin="round"/><text x="53.0" y="425.6" font-size="6.1" text-anchor="middle" fill="#111">43%</text><text x="70.4" y="464.2" font-size="6.1" text-anchor="middle" fill="#111">&lt; 1%</text><text x="123.1" y="452.6" font-size="6.1" text-anchor="middle" fill="#111">46%</text><text x="100.9" y="398.7" font-size="6.1" text-anchor="middle" fill="#111">10%</text>
<g transform="translate(414.2 370.0)">
<use href="#land"/>
<g clip-path="url(#cp)"><g fill="none" stroke-linecap="round"><path d="M29.8 42.8h0M23.6 41.6h0M29.5 29.5h0M44.7 27.4h0M34.0 34.5h0M39.7 33.9h0M42.7 28.1h0M40.4 35.6h0M18.3 43.9h0M26.2 32.9h0M35.2 31.2h0M28.9 40.7h0M44.9 25.9h0M24.1 18.7h0M25.5 20.8h0M16.0 28.2h0M48.6 6.7h0M37.9 7.9h0M34.8 19.9h0M42.3 9.3h0M38.5 0.3h0M50.4 2.0h0M42.0 17.6h0M39.5 1.8h0M46.7 26.4h0M53.9 4.5h0M51.4 7.1h0M32.6 18.3h0M31.9 7.9h0M49.8 -19.8h0M21.7 -18.9h0M40.6 -4.0h0M20.3 -24.0h0M33.5 -23.6h0M10.5 -35.1h0M12.2 -32.2h0M-58.3 -19.1h0M-66.1 -22.9h0M-55.6 -20.9h0M-53.3 -22.6h0M-52.0 -24.0h0M-50.2 -24.6h0M-62.6 -30.5h0M-68.1 -26.4h0M-63.6 -21.4h0M-61.3 -29.4h0M-62.7 -19.4h0M-58.8 -33.8h0M-65.8 -33.9h0M-69.1 -25.0h0M-59.5 -30.9h0M-59.1 -26.1h0M-65.8 -23.7h0M-68.3 -18.6h0M-56.0 -23.9h0M-52.1 -29.1h0M-67.9 -25.5h0M-56.0 -18.4h0M-69.3 -26.0h0M-52.2 -30.6h0M-77.1 -20.8h0M-57.7 -23.4h0M-74.5 -20.6h0M-53.8 -31.5h0M-65.7 -16.7h0M-75.5 -20.6h0M-74.6 -24.4h0M-63.2 -32.3h0M-61.1 -24.4h0M-58.2 -25.9h0M-58.9 -27.5h0M-73.7 -18.1h0M-70.9 -21.5h0M-60.8 -6.1h0M-72.1 5.7h0M-58.1 5.1h0M-54.3 -35.5h0" stroke="#f0fcff" stroke-width="1.40"/><path d="M38.6 26.3h0M28.4 37.6h0M26.5 43.6h0M41.0 23.9h0M20.1 40.9h0M32.4 28.5h0M28.9 31.3h0M41.8 30.7h0M31.9 33.5h0M37.9 22.8h0M21.5 38.3h0M25.5 40.3h0M34.3 23.3h0M35.6 20.6h0M17.7 38.9h0M19.7 44.3h0M35.3 29.2h0M33.9 21.6h0M27.1 16.4h0M22.0 25.0h0M45.8 21.7h0M40.1 9.9h0M35.2 15.1h0M47.4 0.6h0M40.8 0.5h0M49.5 0.3h0M41.3 3.0h0M47.8 17.7h0M38.0 10.4h0M45.2 12.5h0M38.4 15.6h0M45.0 14.4h0M43.1 7.6h0M50.8 10.4h0M51.7 0.6h0M34.1 9.7h0M34.7 2.9h0M37.8 0.2h0M53.4 -12.0h0M47.0 -15.8h0M38.0 -29.8h0M33.7 -23.9h0M42.3 -10.6h0M41.5 -6.5h0M49.0 -18.0h0M39.6 -20.0h0M26.7 -31.4h0M40.8 -25.5h0M35.6 -17.2h0M28.3 -11.3h0M30.4 -18.7h0M30.3 -13.3h0M16.9 -28.9h0M3.4 -31.6h0M-62.4 -24.7h0M-54.4 -26.6h0M-64.9 -19.6h0M-50.0 -22.4h0M-61.1 -19.3h0M-57.7 -29.7h0M-64.8 -15.8h0M-59.4 -19.5h0M-58.5 -29.1h0M-54.7 -25.6h0M-76.7 -24.8h0M-75.5 -26.2h0M-54.0 -21.0h0M-68.9 -21.9h0M-64.8 -22.4h0M-58.8 -20.5h0M-52.1 -26.0h0M-61.9 -16.0h0M-59.6 -27.9h0M-48.8 -23.9h0M-58.9 -18.4h0M-66.6 -21.0h0M-68.9 -20.0h0M-65.8 -29.6h0M-73.4 -18.9h0M-57.7 -31.9h0M-71.3 -23.5h0M-74.7 -19.1h0M-67.6 -23.7h0M-65.6 -24.7h0M-63.0 -24.0h0M-65.8 -25.6h0M-53.7 -28.9h0M-61.4 -23.5h0M-55.5 -32.8h0M-52.1 -21.0h0M-56.7 -25.8h0M-54.9 -22.2h0M-63.0 -29.7h0M-56.5 -22.2h0M-59.5 -22.4h0M-67.4 -18.7h0M-62.7 -26.7h0M-60.5 -23.8h0M-58.9 -24.4h0M-50.5 -27.4h0M-65.7 -32.6h0M-48.0 -25.9h0M-75.0 -22.5h0M-57.7 -19.9h0M-70.9 -17.4h0M-51.5 -23.4h0M-63.9 -23.8h0M-62.6 -28.3h0M-58.5 -32.1h0M-73.8 -19.7h0M-60.9 -25.4h0M-64.5 -23.2h0M-79.7 -0.5h0M-68.3 -7.3h0M-69.0 -9.2h0M-58.5 -36.9h0M-20.7 -28.8h0" stroke="#fffff0" stroke-width="1.40"/><path d="M35.5 22.1h0M24.4 43.9h0M51.1 33.3h0M27.8 41.6h0M28.1 45.9h0M28.4 43.0h0M36.3 30.2h0M30.5 33.8h0M42.9 48.7h0M25.4 47.8h0M33.1 31.4h0M39.0 35.2h0M35.3 46.1h0M42.2 25.5h0M41.4 38.6h0M40.8 32.2h0M21.9 40.6h0M24.5 33.8h0M32.0 39.0h0M21.8 47.1h0M28.0 33.4h0M21.7 49.0h0M40.6 26.3h0M38.7 28.8h0M30.5 38.4h0M21.9 43.0h0M40.0 49.9h0M25.8 41.8h0M24.0 52.7h0M42.8 43.0h0M22.4 36.9h0M33.3 24.7h0M36.6 23.4h0M40.1 28.4h0M39.7 25.0h0M38.8 45.5h0M31.1 42.3h0M27.2 36.8h0M26.7 52.8h0M41.4 27.6h0M21.9 35.5h0M34.2 32.8h0M23.6 37.9h0M22.5 39.3h0M35.7 47.5h0M26.1 29.2h0M29.3 19.4h0M23.4 27.3h0M25.2 15.2h0M32.7 19.2h0M29.2 17.1h0M26.3 31.4h0M14.5 26.5h0M40.0 6.9h0M41.9 14.7h0M46.6 7.3h0M45.1 5.0h0M47.6 15.2h0M46.1 9.9h0M43.4 24.4h0M49.3 13.5h0M38.6 20.5h0M40.1 19.3h0M49.7 8.5h0M46.2 2.6h0M44.3 8.9h0M48.4 2.4h0M45.1 24.0h0M46.2 16.8h0M36.5 20.8h0M38.7 22.3h0M52.0 19.2h0M28.8 15.5h0M23.9 0.0h0M28.5 0.3h0M32.2 1.2h0M32.2 15.4h0M32.3 4.4h0M28.5 12.6h0M24.2 4.4h0M37.7 3.6h0M34.9 0.1h0M38.9 -25.9h0M36.5 -26.4h0M40.2 -15.7h0M38.3 -18.1h0M46.2 -9.8h0M28.3 -30.2h0M49.9 -9.4h0M42.1 -14.3h0M34.8 -22.2h0M43.2 -19.4h0M38.8 -13.7h0M24.5 -21.2h0M28.7 -6.9h0M27.2 -18.2h0M31.2 -26.5h0M27.4 -0.5h0M23.9 -23.9h0M21.5 -4.5h0M21.8 -0.0h0M34.9 -6.1h0M31.6 -0.1h0M29.4 -24.4h0M2.8 -34.7h0M21.9 -27.5h0M6.9 -39.2h0M1.1 -29.7h0M23.4 -31.3h0M20.5 -24.5h0M9.5 -38.1h0M50.5 -28.9h0M61.5 -25.6h0M-57.1 -18.2h0M-66.3 -17.5h0M-64.5 -27.6h0M-51.9 -20.0h0M-59.1 -21.5h0M-61.5 -21.0h0M-72.3 -19.2h0M-51.8 -22.4h0M-49.9 -21.1h0M-60.1 -34.5h0M-63.7 -16.2h0M-68.0 -17.5h0M-53.6 -30.7h0M-75.5 -24.2h0M-54.6 -27.6h0M-78.1 -21.8h0M-59.9 -18.3h0M-56.0 -28.7h0M-66.5 -25.2h0M-60.4 -22.7h0M-50.4 -29.4h0M-50.8 -25.4h0M-73.6 -24.2h0M-60.1 -21.6h0M-68.9 -16.9h0M-63.3 -26.1h0M-62.2 -34.1h0M-63.6 -28.6h0M-65.7 -21.4h0M-55.8 -26.4h0M-55.4 -22.8h0M-66.8 -27.5h0M-56.8 -28.7h0M-54.0 -19.8h0M-61.5 -28.2h0M-64.2 -33.1h0M-58.7 -30.4h0M-71.9 -18.0h0M-55.5 -27.3h0M-50.2 -23.3h0M-75.7 -25.4h0M-53.9 -21.8h0M-54.1 -24.4h0M-64.6 -31.1h0M-52.1 -28.0h0M-72.0 -23.0h0M-71.3 -26.3h0M-66.5 -20.1h0M-68.2 -24.6h0M-58.8 -32.9h0M-65.5 -20.1h0M-67.3 -21.4h0M-64.9 -34.2h0M-55.7 -25.2h0M-55.7 -21.9h0M-68.9 -19.2h0M-63.2 -15.5h0M-66.3 -18.3h0M-65.1 -26.9h0M-52.6 -19.4h0M-77.9 -22.6h0M-56.3 -27.7h0M-65.4 -35.1h0M-64.5 -28.8h0M-65.0 -33.4h0M-77.2 -24.2h0M-79.6 3.1h0M-66.2 0.4h0M-66.1 13.4h0M-64.4 -9.0h0M-66.9 -12.8h0M-52.5 6.3h0M-49.5 -18.5h0M-45.4 -20.2h0M-18.0 -38.5h0M-19.6 -32.6h0" stroke="#fff5b0" stroke-width="1.40"/><path d="M29.0 39.1h0M17.7 25.4h0M39.7 12.0h0M38.7 5.5h0M31.5 11.6h0M30.5 -16.0h0M18.8 -36.6h0M-58.1 -24.6h0M-64.2 -24.8h0M-49.8 -28.0h0M-66.3 -26.6h0M-69.9 -20.5h0M-70.6 -18.7h0M-65.0 -25.5h0M-53.6 -25.9h0M-66.0 -19.2h0M-57.0 -22.9h0M-65.1 -20.9h0M-61.4 -34.4h0M-64.3 -26.7h0M-67.0 -16.6h0M-54.6 -29.4h0M-58.1 -26.9h0M-49.8 -25.5h0M-74.3 -25.3h0M-62.9 -21.3h0M-67.7 -27.3h0M-67.9 -22.9h0M-71.5 -18.8h0M-74.5 -23.4h0M-60.0 -33.7h0M-63.2 -20.1h0M-62.1 -23.9h0M-57.2 -26.5h0M-61.4 -30.2h0M-70.9 -22.8h0M-52.8 -31.2h0M-75.4 -23.3h0M-51.4 -27.3h0M-63.6 -33.6h0M-72.8 -25.9h0M-64.9 19.4h0" stroke="#b0ecfa" stroke-width="1.40"/><path d="M33.6 27.4h0M25.8 37.4h0M30.6 36.7h0M20.3 42.6h0M52.3 37.6h0M35.3 42.1h0M19.2 38.5h0M37.5 38.4h0M26.4 39.2h0M27.1 35.0h0M52.2 32.3h0M24.6 36.8h0M22.4 52.9h0M20.4 45.6h0M31.1 31.3h0M45.1 30.6h0M51.6 35.8h0M17.7 45.3h0M36.6 26.6h0M31.9 26.9h0M27.6 47.5h0M38.9 23.8h0M31.0 28.7h0M32.8 35.4h0M36.6 37.1h0M51.0 40.0h0M21.1 44.3h0M23.1 34.4h0M47.7 28.0h0M27.8 44.4h0M37.7 24.7h0M42.5 39.5h0M30.0 32.4h0M31.3 35.3h0M38.0 30.0h0M44.1 28.8h0M52.0 34.3h0M25.6 44.7h0M37.0 21.4h0M35.0 37.6h0M41.4 44.8h0M35.1 39.6h0M28.0 26.7h0M23.9 32.4h0M31.0 21.1h0M19.2 33.5h0M15.3 24.5h0M30.4 27.0h0M27.9 21.2h0M26.7 18.9h0M18.5 28.8h0M28.5 29.0h0M43.2 19.5h0M41.3 11.3h0M47.0 4.9h0M46.0 19.9h0M41.3 4.9h0M34.3 17.8h0M43.1 22.3h0M36.0 16.7h0M37.1 14.3h0M38.9 17.4h0M43.9 10.8h0M41.6 20.8h0M49.6 11.6h0M50.8 15.9h0M49.2 18.5h0M48.4 23.8h0M45.7 23.4h0M51.5 23.3h0M55.0 2.1h0M53.2 11.5h0M29.6 5.6h0M25.9 6.7h0M27.8 9.6h0M36.9 9.5h0M49.8 -11.4h0M53.3 -19.1h0M51.1 -14.7h0M41.9 -20.9h0M40.5 -12.7h0M46.0 -21.4h0M55.7 -0.1h0M44.0 -5.3h0M41.9 -0.4h0M44.6 -8.7h0M51.2 -12.7h0M48.4 -3.3h0M47.4 -0.4h0M47.9 -11.4h0M37.8 -16.0h0M44.6 -3.5h0M31.1 -9.4h0M23.4 -2.5h0M26.7 -23.9h0M22.4 -7.4h0M40.4 -6.8h0M21.0 -21.5h0M31.8 -6.3h0M35.0 -0.4h0M39.1 -10.4h0M35.6 -14.0h0M13.6 -35.0h0M9.7 -30.1h0M18.0 -33.8h0M17.7 -26.0h0M26.2 -32.2h0M11.1 -27.6h0M0.2 -32.6h0M65.4 30.9h0M57.6 23.4h0M61.2 -34.0h0M81.9 -36.0h0M81.2 -45.6h0M90.5 -43.9h0M68.8 -5.5h0M74.2 -16.6h0M-61.7 -32.4h0M-64.9 -17.3h0M-70.1 -23.2h0M-62.8 -31.4h0M-69.2 -27.0h0M-60.2 -24.8h0M-63.4 -22.8h0M-52.9 -29.5h0M-65.5 -31.0h0M-55.4 -19.4h0M-60.2 -32.4h0M-61.8 -31.0h0M-75.2 -21.4h0M-48.9 -25.6h0M-74.0 -22.3h0M-62.5 -23.0h0M-54.4 -32.2h0M-76.3 -20.8h0M-64.4 -32.1h0M-59.4 -32.0h0M-61.9 -27.0h0M-58.1 -21.1h0M-58.0 -28.1h0M-72.8 -22.1h0M-72.1 -24.4h0M-71.2 -19.8h0M-58.2 -22.5h0M-75.1 -19.9h0M-53.0 -27.8h0M-59.2 -35.4h0M-54.4 -19.0h0M-56.7 -30.8h0M-57.7 -17.3h0M-63.9 -19.2h0M-57.9 -30.6h0M-77.3 -24.2h0M-60.8 -27.2h0M-63.7 -17.2h0M-56.5 -32.0h0M-69.1 -18.2h0M-64.0 -29.6h0M-54.9 -28.6h0M-61.2 -21.8h0M-73.2 -22.8h0M-63.9 -31.4h0M-58.4 -31.3h0M-50.8 -22.1h0M-76.3 -21.6h0M-77.8 -20.2h0M-80.7 -15.4h0M-68.4 16.1h0M-64.1 19.2h0M-62.5 20.2h0M-67.9 -2.6h0M-68.7 -0.3h0M-69.1 5.1h0M-71.4 10.3h0M-71.2 7.8h0M-59.5 -13.2h0M-64.2 -11.6h0M-69.3 -10.4h0M-38.9 -28.8h0M-43.8 23.7h0M-44.9 -27.6h0M-46.5 25.7h0M-31.6 -15.8h0M-18.0 -31.7h0M-14.8 -30.8h0M-22.8 -29.0h0M-21.3 -32.2h0M-17.8 -40.1h0M-10.3 -28.8h0M-9.4 -31.9h0" stroke="#ffd490" stroke-width="1.40"/><path d="M43.2 29.8h0M-57.1 -27.3h0M-72.1 -20.2h0M-61.2 -26.4h0M-48.6 -26.8h0M-64.2 -20.6h0M-65.0 -29.8h0M-60.5 -31.6h0M-66.4 -34.7h0M-70.0 -21.9h0M-76.2 -23.6h0M-62.3 -29.2h0M-62.2 -20.2h0M-62.6 -16.5h0M-56.9 -21.5h0M-57.7 -32.7h0M-68.1 7.1h0" stroke="#8cdcf8" stroke-width="1.40"/><path d="M36.7 35.4h0M28.7 35.3h0M33.8 40.2h0M25.1 35.4h0M41.9 34.8h0M38.9 31.1h0M34.1 50.0h0M35.2 27.8h0M37.4 28.2h0M42.6 32.3h0M34.2 30.1h0M31.7 47.6h0M27.4 31.7h0M29.4 52.3h0M22.4 51.1h0M37.4 33.8h0M44.1 38.7h0M39.4 47.0h0M22.7 45.9h0M44.7 43.7h0M26.8 49.1h0M31.8 37.6h0M40.3 30.7h0M35.2 25.1h0M44.1 40.1h0M39.3 42.5h0M19.0 40.0h0M41.7 41.4h0M42.1 47.5h0M23.4 35.8h0M32.3 30.2h0M33.8 46.1h0M47.1 32.3h0M43.5 26.5h0M23.9 51.0h0M20.3 37.2h0M23.1 44.5h0M39.0 48.4h0M32.7 50.7h0M30.3 48.0h0M20.7 29.4h0M26.5 23.6h0M32.7 24.3h0M23.0 23.0h0M19.7 24.6h0M24.7 25.4h0M44.9 0.8h0M36.6 12.1h0M40.5 16.0h0M48.3 10.2h0M42.6 0.9h0M39.1 13.8h0M43.4 3.2h0M43.2 12.8h0M38.6 3.4h0M43.7 16.2h0M44.8 7.1h0M24.8 13.9h0M23.0 7.8h0M33.5 -29.1h0M41.8 -8.7h0M46.2 -12.3h0M50.0 -5.0h0M37.1 -35.5h0M44.1 -15.4h0M35.4 -29.4h0M43.9 -0.2h0M34.5 -26.5h0M40.0 -10.0h0M53.1 -15.4h0M38.5 -22.4h0M28.4 -20.6h0M35.9 -8.6h0M18.7 -19.0h0M37.8 -15.7h0M31.2 -22.5h0M24.6 -27.8h0M33.0 -14.2h0M26.8 -4.9h0M22.4 -26.3h0M11.7 -24.3h0M6.7 -31.5h0M21.6 -34.3h0M5.7 -35.8h0M15.9 -41.8h0M6.5 -27.4h0M13.1 -39.4h0M18.6 -22.4h0M44.6 36.8h0M54.2 18.1h0M61.3 22.6h0M63.9 18.4h0M64.2 38.3h0M84.1 -25.5h0M49.4 -31.2h0M67.3 -30.8h0M75.2 -26.1h0M50.9 -39.2h0M75.2 -40.2h0M72.7 -30.6h0M75.9 -29.6h0M60.0 -28.7h0M58.0 -26.0h0M92.7 -29.0h0M90.1 -9.8h0M79.6 15.7h0M75.9 11.5h0M-56.9 -29.9h0M-54.6 -30.5h0M-61.2 -16.8h0M-65.4 -18.0h0M-71.5 -22.1h0M-63.8 -35.1h0M-60.5 -30.6h0M-57.4 -33.6h0M-60.5 -29.1h0M-62.0 -22.3h0M-65.8 -27.8h0M-60.1 -17.2h0M-77.4 -23.4h0M-55.9 -29.9h0M-73.6 -20.7h0M-53.0 -24.8h0M-48.8 -27.7h0M-51.6 -29.9h0M-67.9 -20.6h0M-71.4 -20.7h0M-62.3 -35.3h0M-71.2 -25.0h0M-64.7 -18.5h0M-61.7 -25.6h0M-77.1 -22.1h0M-68.8 -23.4h0M-50.9 -26.3h0M-67.0 -24.3h0M-72.2 -26.8h0M-53.4 -19.1h0M-59.2 -17.0h0M-61.9 -19.3h0M-49.3 -22.8h0M-67.5 -19.7h0M-52.6 -22.0h0M-64.3 -25.8h0M-49.0 -22.0h0M-63.1 -34.4h0M-74.2 -26.4h0M-59.0 -25.3h0M-49.2 -24.6h0M-54.1 -22.8h0M-81.1 -2.2h0M-79.1 -19.0h0M-82.2 -18.4h0M-82.7 -12.2h0M-71.2 13.1h0M-56.4 24.6h0M-70.7 14.6h0M-57.1 7.4h0M-66.5 8.0h0M-65.5 -7.2h0M-80.1 -24.0h0M-72.0 -14.4h0M-68.6 -16.0h0M-47.4 -23.5h0M-53.4 13.4h0M-52.8 -15.5h0M-50.4 -12.2h0M-53.6 2.2h0M-43.7 14.7h0M-27.5 -30.4h0M-45.8 -9.8h0M-34.3 -10.2h0M-34.7 -29.3h0M-26.5 -9.7h0M-22.3 -17.1h0M-19.9 -27.4h0M-23.7 -31.2h0M-13.1 -23.7h0M-14.3 -34.9h0M-11.3 -38.3h0" stroke="#ffa060" stroke-width="1.40"/><path d="M-53.1 -21.3h0M-63.9 -18.2h0M-63.1 -27.5h0M-70.3 -25.1h0M-70.4 -19.8h0M-54.8 -20.4h0M-56.5 -33.3h0M-73.1 -25.0h0M-54.9 -18.2h0" stroke="#6cc0f4" stroke-width="1.40"/><path d="M38.5 36.6h0M46.1 26.7h0M43.7 46.8h0M22.9 48.3h0M41.3 29.2h0M38.0 32.4h0M53.7 36.3h0M32.7 49.2h0M45.4 45.9h0M46.7 35.8h0M44.2 37.1h0M48.2 35.8h0M49.8 4.2h0M40.5 22.2h0M55.1 7.3h0M49.2 -22.4h0M45.9 -17.4h0M33.4 -20.7h0M26.8 -30.4h0M21.8 -15.2h0M24.4 -17.4h0M36.2 -11.2h0M58.5 14.6h0M50.9 -31.6h0M67.0 -25.2h0M72.3 -38.1h0M65.1 -32.8h0M74.3 -9.3h0M73.5 18.1h0M75.5 5.4h0M75.4 6.1h0M-60.8 -18.0h0M-61.9 -17.8h0M-56.8 -24.9h0M-53.2 -23.4h0M-47.9 -24.6h0M-51.6 -25.1h0M-53.7 -27.3h0M-65.5 -28.6h0M-48.4 -22.7h0M-78.3 -18.9h0M-68.5 16.9h0M-78.6 8.3h0M-70.9 -4.8h0M-61.9 11.5h0M-36.1 -4.6h0M-34.3 -1.3h0M-14.4 -26.1h0M-19.0 -29.0h0M-13.2 -36.5h0M-15.6 -23.5h0M-17.3 -23.6h0" stroke="#ffa060" stroke-width="2.16"/><path d="M-59.5 -29.0h0M-68.5 -21.1h0" stroke="#6cc0f4" stroke-width="2.16"/><path d="M42.8 37.9h0M34.6 44.5h0M43.3 41.5h0M47.0 33.9h0M49.0 29.1h0M32.3 41.5h0M41.0 37.0h0M45.5 32.9h0M24.7 46.4h0M53.5 33.9h0M41.3 43.4h0M28.7 49.2h0M49.3 34.9h0M29.8 44.7h0M36.0 38.6h0M25.5 51.9h0M49.0 33.5h0M36.3 32.3h0M33.3 37.1h0M43.5 31.2h0M45.9 29.1h0M18.0 42.4h0M35.1 48.8h0M27.5 40.2h0M39.8 37.8h0M51.1 38.5h0M41.4 50.1h0M34.1 26.0h0M27.8 50.2h0M29.2 24.2h0M18.3 31.5h0M23.8 30.1h0M21.5 32.6h0M43.4 5.8h0M50.8 6.9h0M41.6 23.6h0M26.6 2.5h0M39.6 -23.9h0M28.8 -32.4h0M45.5 -1.8h0M34.2 -31.0h0M36.7 -21.4h0M30.9 -32.7h0M41.8 -30.9h0M30.7 -30.7h0M42.8 -17.1h0M36.9 -23.7h0M52.1 -3.8h0M51.0 -17.7h0M33.3 -33.7h0M45.0 -19.6h0M50.3 -1.2h0M42.6 -3.7h0M54.7 -7.3h0M39.6 -28.7h0M52.5 -6.2h0M36.9 -19.4h0M50.6 -23.8h0M43.9 -22.2h0M33.3 -11.5h0M37.5 -3.7h0M40.7 -0.8h0M19.2 -13.3h0M37.8 -0.4h0M35.9 -19.9h0M24.1 -5.5h0M15.8 -21.9h0M33.5 -40.1h0M60.4 37.9h0M51.0 24.6h0M57.5 34.3h0M64.9 24.4h0M54.1 21.3h0M65.5 27.9h0M60.5 29.4h0M56.2 2.2h0M54.3 14.4h0M77.0 -32.1h0M69.0 -27.6h0M82.5 -34.3h0M84.6 -22.3h0M58.6 -37.5h0M81.9 -25.5h0M49.1 -27.5h0M79.5 -24.5h0M72.9 -32.1h0M85.6 -26.8h0M80.3 -31.0h0M64.3 -23.4h0M57.3 -35.4h0M82.0 -27.0h0M85.4 -20.0h0M76.5 -43.1h0M48.0 -29.0h0M79.5 -29.9h0M87.0 -30.8h0M82.6 -22.2h0M65.9 -25.7h0M69.3 -25.6h0M63.7 -28.7h0M55.4 -35.5h0M77.6 -18.7h0M85.3 -28.1h0M58.4 -33.2h0M48.3 -36.0h0M65.7 -38.5h0M45.6 -42.5h0M78.3 -26.8h0M88.8 -22.6h0M51.1 -26.9h0M47.4 -35.1h0M66.7 -33.4h0M68.1 -29.0h0M66.8 -37.9h0M48.1 -31.6h0M82.4 -32.1h0M74.7 -35.1h0M89.6 -29.6h0M75.7 -24.1h0M77.5 -41.7h0M75.9 -38.7h0M60.5 -31.4h0M46.5 -29.2h0M59.3 -23.7h0M87.7 -22.0h0M72.6 -25.9h0M86.6 -43.0h0M88.7 -45.1h0M90.8 -32.5h0M89.0 -25.4h0M89.9 -24.3h0M89.0 -12.5h0M88.4 -7.6h0M89.3 -29.4h0M85.9 -34.4h0M83.3 -6.2h0M80.2 9.3h0M90.5 -15.9h0M58.1 2.8h0M69.7 -12.2h0M68.2 -1.9h0M84.4 1.7h0M75.6 6.4h0M70.1 17.7h0M68.3 5.7h0M74.5 14.0h0M70.5 0.0h0M-51.0 -28.1h0M-73.3 -26.5h0M-67.1 -22.3h0M-52.8 -26.8h0M-76.0 -19.9h0M-58.0 -18.1h0M-59.3 -23.7h0M-63.0 -18.2h0M-55.8 -31.3h0M-56.9 -20.4h0M-51.1 -20.9h0M-67.2 -17.4h0M-72.3 -21.1h0M-72.9 -23.7h0M-60.6 -33.2h0M-49.8 -26.6h0M-52.9 -28.7h0M-73.7 -21.6h0M-53.9 -28.1h0M-79.5 0.6h0M-79.5 5.5h0M-66.5 18.5h0M-70.3 16.4h0M-58.6 24.0h0M-65.4 -5.3h0M-58.8 7.9h0M-66.6 -1.3h0M-71.9 1.4h0M-62.8 -5.5h0M-64.8 1.9h0M-62.6 2.1h0M-71.7 -0.8h0M-77.2 -25.4h0M-48.6 -3.9h0M-41.2 -30.9h0M-46.5 14.4h0M-51.4 -5.0h0M-55.2 -9.2h0M-52.1 -18.2h0M-48.7 -7.1h0M-48.1 12.4h0M-48.9 -29.9h0M-54.0 -5.2h0M-40.2 -7.9h0M-30.9 -28.6h0M-39.3 -21.6h0M-37.7 -17.5h0M-25.3 -20.1h0M-11.7 -24.8h0M-16.5 -36.2h0M-10.5 -35.9h0M-16.2 -38.4h0M-16.9 -34.1h0M-20.2 -30.8h0" stroke="#ff6842" stroke-width="2.16"/><path d="M-49.1 -28.6h0M-57.6 -25.2h0M-67.0 -26.3h0" stroke="#4ca0f4" stroke-width="2.16"/><path d="M38.8 38.9h0M34.1 47.5h0M48.8 32.1h0M40.0 41.1h0M36.2 41.0h0M25.3 50.2h0M47.1 30.0h0M36.2 44.2h0M35.5 33.5h0M44.3 35.5h0M23.9 39.3h0M51.5 30.2h0M31.2 50.6h0M32.2 43.8h0M29.7 53.9h0M37.2 45.4h0M42.9 44.8h0M26.2 46.1h0M30.1 49.4h0M49.6 30.9h0M29.3 50.7h0M33.9 38.5h0M45.1 41.9h0M54.9 34.8h0M20.5 39.4h0M42.1 46.1h0M28.2 30.0h0M36.9 39.8h0M33.9 41.6h0M50.4 29.2h0M36.4 18.6h0M44.4 17.9h0M34.3 12.8h0M45.3 -23.5h0M47.4 -23.6h0M32.4 -26.8h0M48.4 -6.2h0M41.0 -2.1h0M51.3 -7.9h0M43.0 -33.0h0M46.9 -7.5h0M35.4 -39.2h0M37.7 -41.6h0M44.8 -25.5h0M35.2 -35.0h0M49.3 -16.1h0M44.5 -13.4h0M47.1 -4.8h0M53.7 -0.1h0M48.4 -14.3h0M37.9 -27.8h0M29.4 -2.5h0M25.3 -12.4h0M28.9 -28.0h0M37.7 -6.4h0M18.3 -21.6h0M16.3 -45.3h0M14.6 -30.4h0M1.9 -37.4h0M66.9 12.9h0M58.7 11.7h0M67.8 25.9h0M71.5 21.8h0M70.8 25.4h0M57.8 17.3h0M45.0 40.8h0M68.8 20.7h0M53.6 36.4h0M47.5 29.6h0M64.3 15.0h0M69.7 34.4h0M68.5 31.8h0M55.7 5.0h0M76.3 -41.5h0M89.2 -31.4h0M58.8 -30.4h0M83.0 -28.5h0M79.4 -32.6h0M62.5 -33.8h0M77.0 -35.6h0M61.9 -30.5h0M56.2 -30.8h0M48.9 -41.5h0M50.3 -27.8h0M47.2 -28.2h0M44.0 -27.0h0M52.9 -35.9h0M67.6 -34.3h0M72.2 -18.6h0M77.1 -26.7h0M57.1 -39.6h0M67.7 -22.4h0M79.7 -34.6h0M45.3 -40.2h0M48.4 -32.8h0M82.6 -29.6h0M53.9 -40.5h0M81.3 -38.7h0M61.1 -27.4h0M59.3 -35.9h0M57.8 -28.9h0M71.7 -23.3h0M69.4 -36.8h0M81.8 -20.2h0M76.7 -44.6h0M80.1 -18.8h0M83.3 -36.7h0M86.8 -23.5h0M51.1 -43.3h0M45.7 -34.1h0M46.7 -41.3h0M77.9 -40.5h0M50.5 -40.2h0M43.4 -28.0h0M50.0 -32.3h0M78.5 -23.0h0M73.8 -19.5h0M76.7 -28.7h0M61.3 -24.4h0M54.8 -38.1h0M63.8 -25.7h0M71.9 -35.3h0M48.4 -38.4h0M85.0 -33.0h0M71.9 -27.1h0M43.2 -30.9h0M43.3 -40.7h0M43.8 -37.4h0M71.5 -29.2h0M70.8 -20.6h0M79.6 -38.8h0M56.1 -29.4h0M68.0 -36.5h0M84.2 -43.2h0M81.3 -46.7h0M47.9 -41.9h0M73.3 -42.9h0M75.7 -33.6h0M60.3 -38.3h0M77.6 -28.0h0M70.3 -22.2h0M82.2 -40.0h0M50.2 -25.3h0M42.4 -29.8h0M45.8 -35.6h0M78.5 -29.1h0M80.0 -25.6h0M43.4 -29.1h0M95.0 -27.4h0M84.7 -44.9h0M88.7 -18.6h0M90.7 -25.7h0M88.8 -24.3h0M90.2 -18.9h0M84.2 -40.6h0M86.3 -36.6h0M89.7 -9.2h0M89.5 -24.2h0M91.0 -17.8h0M82.0 -40.7h0M88.6 -20.6h0M90.7 -22.6h0M87.1 -2.2h0M66.4 5.3h0M77.2 -2.7h0M88.5 6.8h0M80.1 -9.7h0M80.8 -17.7h0M88.4 9.6h0M66.2 -2.8h0M79.4 -12.1h0M75.8 -6.3h0M64.5 2.3h0M91.0 -18.9h0M78.4 13.4h0M76.7 -12.9h0M63.2 7.5h0M82.8 -2.9h0M68.6 7.5h0M71.5 6.0h0M71.3 -4.3h0M83.0 -10.0h0M75.5 8.1h0M71.4 -0.2h0M68.4 3.9h0M67.8 27.8h0M-58.2 -34.4h0M-71.9 -25.4h0M-72.9 -17.9h0M-56.6 -19.3h0M-52.8 -20.2h0M-69.7 -19.0h0M-60.6 -28.1h0M-59.9 -25.6h0M-70.7 -24.2h0M-78.6 5.1h0M-80.6 3.3h0M-80.7 -0.2h0M-68.6 15.5h0M-58.9 23.5h0M-74.7 12.0h0M-65.8 18.6h0M-56.7 23.8h0M-63.2 5.9h0M-62.6 -3.0h0M-66.4 -9.2h0M-58.6 -2.0h0M-62.5 -1.3h0M-57.2 11.4h0M-64.3 -2.7h0M-69.6 10.2h0M-57.6 -8.8h0M-62.8 -15.3h0M-48.8 -10.3h0M-44.8 17.5h0M-51.0 11.0h0M-45.2 19.8h0M-29.3 -22.9h0M-41.6 10.5h0M-38.1 18.2h0M-26.6 -25.4h0M-32.7 -25.8h0M-33.9 -6.2h0M-29.0 11.6h0M-8.7 -27.2h0M-15.4 -33.4h0M-17.4 -28.4h0M-17.4 -25.3h0M-19.6 -25.1h0M-18.2 -36.1h0M-13.8 -39.7h0" stroke="#ff3a38" stroke-width="2.16"/><path d="M-70.0 -17.3h0M-75.9 -22.4h0" stroke="#3a78f4" stroke-width="2.16"/><path d="M28.1 53.1h0M30.9 40.3h0M27.0 51.4h0M40.6 46.0h0M34.9 36.1h0M45.8 37.3h0M33.4 42.9h0M31.7 45.7h0M29.4 46.7h0M45.6 34.4h0M42.8 36.5h0M46.3 44.5h0M35.5 52.5h0M41.1 40.1h0M36.1 51.1h0M37.5 42.7h0M50.4 32.1h0M50.0 36.2h0M37.1 6.5h0M47.4 -19.9h0M41.9 -27.4h0M41.9 -34.7h0M40.2 -33.9h0M44.3 -10.7h0M52.4 -20.9h0M54.1 -5.0h0M40.0 -37.8h0M43.9 -35.3h0M39.7 -30.9h0M36.9 -37.3h0M40.6 -17.7h0M37.0 -43.7h0M33.0 -3.3h0M27.9 -15.2h0M24.3 -9.3h0M21.6 -11.7h0M13.8 -26.8h0M-2.7 -32.7h0M33.5 -44.2h0M15.4 -18.8h0M51.4 30.9h0M68.0 16.7h0M48.6 34.9h0M63.9 35.5h0M53.7 47.9h0M59.6 6.5h0M67.6 36.8h0M62.6 31.1h0M51.3 40.1h0M55.6 10.8h0M41.8 37.2h0M74.8 -17.9h0M55.4 -32.9h0M73.9 -43.9h0M65.0 -28.7h0M62.7 -24.9h0M53.9 -33.2h0M56.5 -34.4h0M78.4 -20.6h0M58.3 -39.5h0M47.1 -39.1h0M51.3 -36.1h0M58.2 -31.9h0M80.6 -28.9h0M54.0 -36.1h0M64.5 -26.6h0M76.9 -21.1h0M75.6 -37.7h0M52.7 -39.1h0M71.0 -18.3h0M75.3 -41.8h0M68.3 -38.5h0M80.4 -36.0h0M78.5 -31.9h0M49.6 -39.4h0M57.3 -37.6h0M50.9 -37.8h0M79.9 -26.7h0M55.2 -37.1h0M77.5 -46.7h0M66.5 -20.3h0M77.3 -25.2h0M67.1 -27.0h0M74.4 -31.6h0M58.9 -34.7h0M81.1 -34.9h0M67.7 -31.8h0M67.4 -16.8h0M52.2 -25.6h0M69.2 -17.6h0M58.9 -25.0h0M83.4 -21.0h0M82.0 -30.7h0M49.4 -40.6h0M66.2 -34.5h0M85.6 -37.7h0M88.8 -30.3h0M77.0 -19.8h0M54.9 -39.6h0M66.4 -29.8h0M73.6 -37.7h0M72.6 -24.6h0M48.0 -30.2h0M53.7 -41.8h0M51.8 -34.7h0M74.3 -37.0h0M85.6 -24.2h0M55.0 -34.2h0M65.6 -23.8h0M81.0 -40.8h0M84.1 -27.5h0M45.2 -30.9h0M70.5 -27.1h0M72.3 -21.1h0M74.7 -23.6h0M75.3 -20.0h0M83.1 -23.9h0M84.5 -32.0h0M52.4 -33.6h0M85.9 -21.1h0M59.9 -32.6h0M70.0 -33.8h0M46.1 -37.7h0M80.5 -27.6h0M54.5 -30.8h0M50.7 -34.7h0M60.2 -29.7h0M52.5 -27.9h0M71.2 -26.0h0M87.0 -25.4h0M69.7 -38.1h0M78.2 -30.2h0M79.3 -44.6h0M56.4 -32.6h0M56.7 -28.5h0M51.7 -32.5h0M48.7 -34.1h0M57.5 -33.9h0M46.4 -26.9h0M52.0 -42.1h0M93.1 -31.1h0M89.7 -41.5h0M89.5 -9.6h0M90.3 -15.4h0M84.0 -43.1h0M87.5 -32.9h0M90.3 -17.5h0M85.8 -39.9h0M89.8 -26.4h0M90.1 -19.4h0M90.7 -1.4h0M88.2 -20.2h0M62.1 5.6h0M89.4 -3.7h0M84.4 7.7h0M66.8 9.1h0M90.1 -12.7h0M71.8 -10.9h0M85.4 -9.1h0M82.0 -13.2h0M76.3 8.2h0M75.3 7.1h0M68.4 9.7h0M67.8 8.2h0M75.2 11.7h0M68.2 7.5h0M75.1 15.1h0M69.7 1.0h0M69.1 5.2h0M68.6 3.8h0M69.3 25.1h0M-60.0 -20.2h0M-60.1 -26.5h0M-69.7 -24.3h0M-62.4 -33.3h0M-65.2 10.7h0M-59.6 -4.2h0M-61.6 -8.6h0M-69.6 12.3h0M-69.7 -35.9h0M-60.7 -39.7h0M-50.8 -0.8h0M-50.8 4.5h0M-47.1 -14.5h0M-47.9 19.8h0M-46.1 -30.7h0M-50.4 18.2h0M-47.1 -1.6h0M-56.6 -2.7h0M-32.7 -17.3h0M-38.7 11.4h0M-41.5 21.2h0M-43.5 -6.0h0M-37.1 -12.1h0M-33.6 -21.0h0M-25.5 6.9h0M-25.8 -1.8h0M-30.3 -3.6h0M-15.4 -27.4h0M-11.0 -31.5h0M-14.3 -38.0h0M-15.0 -29.2h0M-12.3 -33.8h0M-21.6 -27.2h0" stroke="#fb1d2c" stroke-width="2.16"/><path d="M39.2 44.1h0M40.7 48.7h0M44.1 33.6h0M47.8 12.4h0M37.6 -32.7h0M39.7 -40.6h0M42.6 -38.2h0M34.7 -36.9h0M53.1 -1.9h0M31.4 -28.8h0M42.1 -24.1h0M40.1 -35.8h0M50.0 -26.1h0M51.8 -10.6h0M35.5 -32.6h0M38.0 -39.6h0M35.8 -42.3h0M19.9 -31.7h0M3.2 -27.6h0M36.6 -48.1h0M20.3 -48.1h0M58.8 25.7h0M68.9 29.1h0M61.3 19.9h0M62.7 41.0h0M44.2 -30.1h0M78.3 -39.1h0M70.9 -35.1h0M57.5 -26.9h0M43.7 -31.9h0M47.0 -32.5h0M78.5 -34.7h0M44.5 -35.6h0M80.2 -33.3h0M81.1 -29.9h0M74.2 -40.8h0M66.8 -32.2h0M77.0 -33.3h0M51.8 -30.9h0M74.8 -25.1h0M72.5 -36.5h0M45.4 -36.9h0M66.1 -27.8h0M79.4 -39.9h0M73.2 -27.1h0M45.4 -27.7h0M82.4 -38.9h0M82.1 -23.4h0M45.4 -32.4h0M73.3 -41.9h0M69.7 -19.6h0M79.3 -27.9h0M75.8 -18.9h0M74.7 -21.0h0M80.0 -20.7h0M78.8 -22.0h0M87.2 -35.0h0M75.3 -27.6h0M60.4 -34.9h0M86.3 -22.4h0M45.1 -38.6h0M63.1 -26.8h0M79.1 -43.5h0M49.7 -38.2h0M71.1 -32.9h0M54.9 -28.6h0M80.1 -22.6h0M65.5 -30.7h0M69.9 -35.8h0M82.6 -44.6h0M83.6 -34.9h0M81.0 -32.4h0M66.2 -22.7h0M82.3 -37.3h0M67.5 -18.7h0M87.3 -20.4h0M86.8 -27.2h0M73.1 -23.6h0M70.7 -39.1h0M72.8 -39.5h0M63.9 -31.8h0M84.0 -33.1h0M68.5 -33.5h0M84.8 -36.9h0M64.5 -24.5h0M79.2 -19.5h0M50.1 -33.9h0M76.1 -22.1h0M91.0 -22.3h0M53.4 -31.2h0M70.3 -25.2h0M86.4 -28.4h0M55.8 -27.5h0M94.5 -25.2h0M98.1 -23.4h0M87.9 -6.3h0M88.1 -32.5h0M89.3 -16.6h0M91.3 -20.7h0M88.6 -25.1h0M85.1 -35.3h0M89.6 -23.5h0M84.9 -38.6h0M90.3 -22.4h0M86.6 -5.8h0M78.3 -17.6h0M64.6 -5.0h0M74.0 4.4h0M68.7 -8.3h0M85.6 -12.1h0M60.9 3.0h0M80.5 2.8h0M88.4 -15.4h0M63.4 -1.9h0M80.2 -3.0h0M91.7 -0.4h0M88.7 3.1h0M78.5 -5.5h0M75.5 10.5h0M75.6 9.2h0M66.3 26.4h0M67.5 24.8h0M67.9 27.3h0M66.3 28.1h0M68.9 25.5h0M-55.0 -24.7h0M-54.6 -23.5h0M-70.1 -26.4h0M-76.8 -20.8h0M-79.2 7.7h0M-58.9 -7.2h0M-63.8 0.4h0M-66.5 6.1h0M-60.6 8.2h0M-76.6 -33.9h0M-64.5 -36.4h0M-69.4 -32.4h0M-41.5 -11.0h0M-12.7 -29.9h0M-18.7 -33.9h0M-17.0 -30.0h0" stroke="#d8152e" stroke-width="2.16"/><path d="M37.9 40.7h0M24.0 49.6h0M46.9 -26.2h0M33.1 -38.4h0M19.2 -45.5h0M57.5 30.9h0M64.4 21.6h0M53.5 -29.6h0M89.0 -23.9h0M57.4 -31.1h0M68.3 -26.4h0M61.4 -32.6h0M67.7 -23.9h0M70.1 -30.6h0M79.9 -41.6h0M46.9 -36.1h0M54.7 -32.1h0M85.8 -30.5h0M77.0 -29.7h0M58.8 -26.7h0M66.9 -35.6h0M84.2 -29.0h0M50.0 -29.9h0M76.3 -39.7h0M80.8 -42.1h0M73.9 -26.1h0M70.9 -38.0h0M51.9 -29.1h0M68.6 -30.9h0M46.8 -30.5h0M69.7 -24.2h0M84.6 -30.8h0M41.9 -40.8h0M84.3 -40.8h0M76.8 -34.3h0M70.6 -28.2h0M72.5 -33.2h0M62.7 -32.4h0M52.6 -26.8h0M74.7 -38.5h0M75.1 -43.4h0M73.3 -35.3h0M73.9 -29.7h0M80.4 -37.6h0M78.2 -43.0h0M69.2 -22.4h0M42.1 -28.0h0M76.6 -30.7h0M65.3 -22.0h0M49.6 -36.1h0M78.7 -41.5h0M44.2 -42.3h0M64.2 -27.7h0M69.3 -32.0h0M62.5 -28.4h0M82.9 -33.2h0M78.0 -44.7h0M47.8 -40.1h0M76.4 -36.6h0M52.6 -41.2h0M65.8 -19.4h0M71.6 -41.1h0M73.0 -28.8h0M75.1 -32.4h0M44.9 -29.0h0M52.6 -30.1h0M72.5 -22.2h0M81.0 -21.6h0M63.3 -23.8h0M68.9 -35.0h0M60.4 -24.8h0M83.3 -41.7h0M75.3 -30.9h0M78.3 -37.5h0M63.5 -30.6h0M49.3 -42.7h0M68.9 -20.7h0M71.4 -31.8h0M68.5 -15.9h0M71.5 -24.7h0M43.9 -39.7h0M73.9 -33.5h0M54.3 -34.9h0M90.0 -27.2h0M87.9 -28.9h0M70.8 -16.7h0M73.5 -20.5h0M95.5 -29.8h0M89.0 -37.1h0M93.4 -37.2h0M89.5 -15.9h0M89.4 -6.7h0M90.7 -21.8h0M88.6 -29.8h0M89.9 -17.8h0M86.2 -31.3h0M90.8 -7.7h0M84.7 -39.5h0M88.7 -1.7h0M73.3 17.3h0M69.2 25.0h0M-61.0 -20.4h0M-80.7 0.5h0M-73.9 12.9h0M-61.6 4.7h0M-57.4 -5.9h0M-72.2 -34.0h0M-11.1 -27.1h0M-13.0 -31.6h0" stroke="#b00f28" stroke-width="2.16"/></g></g>
<g><g fill="none" stroke="#b4b4b4" stroke-width="0.36"><circle r="88.5"/><circle r="41.1"/><path d="M0 0L0.0 107.2"/><path d="M0 0L53.6 92.8"/><path d="M0 0L92.8 53.6"/><path d="M0 0L107.2 0.0"/><path d="M0 0L92.8 -53.6"/><path d="M0 0L53.6 -92.8"/><path d="M0 0L0.0 -107.2"/><path d="M0 0L-53.6 -92.8"/><path d="M0 0L-92.8 -53.6"/><path d="M0 0L-107.2 -0.0"/><path d="M0 0L-92.8 53.6"/><path d="M0 0L-53.6 92.8"/></g><g fill="none" stroke="#707070" stroke-width="0.4" clip-path="url(#lc)"><circle r="88.5"/><circle r="41.1"/><path d="M0 0L0.0 107.2"/><path d="M0 0L53.6 92.8"/><path d="M0 0L92.8 53.6"/><path d="M0 0L107.2 0.0"/><path d="M0 0L92.8 -53.6"/><path d="M0 0L53.6 -92.8"/><path d="M0 0L0.0 -107.2"/><path d="M0 0L-53.6 -92.8"/><path d="M0 0L-92.8 -53.6"/><path d="M0 0L-107.2 -0.0"/><path d="M0 0L-92.8 53.6"/><path d="M0 0L-53.6 92.8"/></g><g stroke="#222" stroke-width="0.6"><path d="M0.0 106.2L0.0 109.1"/><path d="M53.1 92.0L54.5 94.5"/><path d="M92.0 53.1L94.5 54.6"/><path d="M106.2 0.0L109.1 0.0"/><path d="M92.0 -53.1L94.5 -54.5"/><path d="M53.1 -92.0L54.5 -94.5"/><path d="M0.0 -106.2L0.0 -109.1"/><path d="M-53.1 -92.0L-54.6 -94.5"/><path d="M-92.0 -53.1L-94.5 -54.6"/><path d="M-106.2 -0.0L-109.1 -0.0"/><path d="M-92.0 53.1L-94.5 54.6"/><path d="M-53.1 92.0L-54.6 94.5"/></g><circle r="107.2" fill="none" stroke="#111" stroke-width="1.0"/><circle r="2.3" fill="#000"/><text transform="translate(0.0 -114.8) rotate(0)" font-size="9.6" text-anchor="middle" x="0.0" y="3.4" fill="#111">180<tspan font-size="7" dy="-4">o</tspan><tspan dy="4">W</tspan></text><text transform="translate(-57.4 -99.4) rotate(-30)" font-size="9.6" text-anchor="middle" x="0.0" y="3.4" fill="#111">150<tspan font-size="7" dy="-4">o</tspan><tspan dy="4">W</tspan></text><text transform="translate(-99.4 -57.4) rotate(-60)" font-size="9.6" text-anchor="middle" x="0.0" y="3.4" fill="#111">120<tspan font-size="7" dy="-4">o</tspan><tspan dy="4">W</tspan></text><text transform="translate(-118.0 0.0) rotate(90)" font-size="9.6" text-anchor="middle" x="1.7" y="3.4" fill="#111">90<tspan font-size="7" dy="-4">o</tspan><tspan dy="4">W</tspan></text><text transform="translate(-102.2 59.0) rotate(60)" font-size="9.6" text-anchor="middle" x="1.7" y="3.4" fill="#111">60<tspan font-size="7" dy="-4">o</tspan><tspan dy="4">W</tspan></text><text transform="translate(-59.0 102.2) rotate(30)" font-size="9.6" text-anchor="middle" x="1.7" y="3.4" fill="#111">30<tspan font-size="7" dy="-4">o</tspan><tspan dy="4">W</tspan></text><text transform="translate(0.0 118.0) rotate(0)" font-size="9.6" text-anchor="middle" x="0.0" y="3.4" fill="#111">0<tspan font-size="7" dy="-4">o</tspan><tspan dy="4"></tspan></text><text transform="translate(59.0 102.2) rotate(-30)" font-size="9.6" text-anchor="middle" x="1.7" y="3.4" fill="#111">30<tspan font-size="7" dy="-4">o</tspan><tspan dy="4">E</tspan></text><text transform="translate(102.2 59.0) rotate(-60)" font-size="9.6" text-anchor="middle" x="1.7" y="3.4" fill="#111">60<tspan font-size="7" dy="-4">o</tspan><tspan dy="4">E</tspan></text><text transform="translate(118.0 0.0) rotate(-90)" font-size="9.6" text-anchor="middle" x="1.7" y="3.4" fill="#111">90<tspan font-size="7" dy="-4">o</tspan><tspan dy="4">E</tspan></text><text transform="translate(99.4 -57.4) rotate(60)" font-size="9.6" text-anchor="middle" x="0.0" y="3.4" fill="#111">120<tspan font-size="7" dy="-4">o</tspan><tspan dy="4">E</tspan></text><text transform="translate(57.4 -99.4) rotate(30)" font-size="9.6" text-anchor="middle" x="0.0" y="3.4" fill="#111">150<tspan font-size="7" dy="-4">o</tspan><tspan dy="4">E</tspan></text><path d="M-6.5 -87.3h4" stroke="#222" stroke-width="0.7"/><text x="5" y="-83.9" font-size="9.6" fill="#111">30<tspan font-size="7" dy="-4">o</tspan><tspan dy="4">N</tspan></text><path d="M-6.5 -39.9h4" stroke="#222" stroke-width="0.7"/><text x="5" y="-36.5" font-size="9.6" fill="#111">60<tspan font-size="7" dy="-4">o</tspan><tspan dy="4">N</tspan></text><rect x="127.9" y="91.83" width="6.0" height="11.62" fill="#2008d0"/><rect x="127.9" y="80.37" width="6.0" height="11.62" fill="#1a14f0"/><rect x="127.9" y="68.90" width="6.0" height="11.62" fill="#2a48f4"/><rect x="127.9" y="57.43" width="6.0" height="11.62" fill="#3a78f4"/><rect x="127.9" y="45.97" width="6.0" height="11.62" fill="#4ca0f4"/><rect x="127.9" y="34.50" width="6.0" height="11.62" fill="#6cc0f4"/><rect x="127.9" y="23.03" width="6.0" height="11.62" fill="#8cdcf8"/><rect x="127.9" y="11.57" width="6.0" height="11.62" fill="#b0ecfa"/><rect x="127.9" y="0.10" width="6.0" height="11.62" fill="#f0fcff"/><rect x="127.9" y="-11.37" width="6.0" height="11.62" fill="#fffff0"/><rect x="127.9" y="-22.83" width="6.0" height="11.62" fill="#fff5b0"/><rect x="127.9" y="-34.30" width="6.0" height="11.62" fill="#ffd490"/><rect x="127.9" y="-45.77" width="6.0" height="11.62" fill="#ffa060"/><rect x="127.9" y="-57.23" width="6.0" height="11.62" fill="#ff6842"/><rect x="127.9" y="-68.70" width="6.0" height="11.62" fill="#ff3a38"/><rect x="127.9" y="-80.17" width="6.0" height="11.62" fill="#fb1d2c"/><rect x="127.9" y="-91.63" width="6.0" height="11.62" fill="#d8152e"/><rect x="127.9" y="-103.10" width="6.0" height="11.62" fill="#b00f28"/><path d="M127.9 -103.0l3.0 -4.3l3.0 4.3z" fill="#ffee00"/><path d="M127.9 103.2l3.0 3.8l3.0 -3.8z" fill="#0c0880"/><path d="M127.9 -103.1v206.4M133.9 -103.1v206.4" stroke="#aaa" stroke-width="0.3" fill="none"/><text x="136.5" y="106.3" font-size="8.3" fill="#222">-1</text><text x="136.5" y="85.7" font-size="8.3" fill="#222">-0.8</text><text x="136.5" y="65.0" font-size="8.3" fill="#222">-0.6</text><text x="136.5" y="44.4" font-size="8.3" fill="#222">-0.4</text><text x="136.5" y="23.7" font-size="8.3" fill="#222">-0.2</text><text x="136.5" y="3.1" font-size="8.3" fill="#222">0</text><text x="136.5" y="-17.5" font-size="8.3" fill="#222">0.2</text><text x="136.5" y="-38.2" font-size="8.3" fill="#222">0.4</text><text x="136.5" y="-58.8" font-size="8.3" fill="#222">0.6</text><text x="136.5" y="-79.5" font-size="8.3" fill="#222">0.8</text><text x="136.5" y="-100.1" font-size="8.3" fill="#222">1</text><text transform="translate(161.2 -1.0)  rotate(-90)" font-size="8.3" text-anchor="middle" fill="#222">R</text></g>
<text class="s" x="-105" y="-88.6" font-size="14.2" fill="#111">(d)</text>
</g>
<path d="M382.60 430.10L382.60 401.70A28.4 28.4 0 0 0 368.92 454.99Z" fill="#ff0000" stroke="#222" stroke-width="0.35" stroke-linejoin="round"/><path d="M382.60 430.10L368.92 454.99A28.4 28.4 0 0 0 369.87 455.49Z" fill="#0000ff" stroke="#222" stroke-width="0.35" stroke-linejoin="round"/><path d="M382.60 430.10L369.87 455.49A28.4 28.4 0 0 0 399.29 407.12Z" fill="#ff8000" stroke="#222" stroke-width="0.35" stroke-linejoin="round"/><path d="M382.60 430.10L399.29 407.12A28.4 28.4 0 0 0 382.60 401.70Z" fill="#00ffff" stroke="#222" stroke-width="0.35" stroke-linejoin="round"/><text x="346.5" y="424.8" font-size="6.1" text-anchor="middle" fill="#111">42%</text><text x="362.2" y="463.5" font-size="6.1" text-anchor="middle" fill="#111">&lt; 1%</text><text x="414.3" y="453.1" font-size="6.1" text-anchor="middle" fill="#111">48%</text><text x="391.7" y="398.7" font-size="6.1" text-anchor="middle" fill="#111">10%</text>
<g transform="translate(125.3 617.3)">
<use href="#land"/>
<g clip-path="url(#cp)"><g fill="none" stroke-linecap="round"><path d="M38.9 31.1h0M34.2 30.1h0M39.4 47.0h0M41.0 23.9h0M22.9 48.3h0M40.6 26.3h0M33.9 38.5h0M35.1 48.8h0M37.0 21.4h0M23.0 23.0h0M45.8 21.7h0M43.2 19.5h0M41.3 3.0h0M39.1 13.8h0M46.2 2.6h0M48.4 2.4h0M49.6 11.6h0M49.2 18.5h0M52.0 19.2h0M27.8 9.6h0M37.1 6.5h0M31.5 11.6h0M24.2 4.4h0M53.4 -12.0h0M36.5 -26.4h0M41.8 -8.7h0M49.8 -19.8h0M46.9 -7.5h0M39.7 -40.6h0M37.7 -41.6h0M43.9 -35.3h0M35.2 -35.0h0M44.5 -13.4h0M35.4 -29.4h0M51.8 -10.6h0M37.8 -16.0h0M50.6 -23.8h0M40.6 -17.7h0M40.8 -25.5h0M28.4 -20.6h0M29.4 -2.5h0M25.3 -12.4h0M35.6 -17.2h0M21.0 -21.5h0M6.9 -39.2h0M60.4 37.9h0M71.5 21.8h0M68.8 20.7h0M47.5 29.6h0M65.4 30.9h0M68.0 16.7h0M54.2 18.1h0M51.3 40.1h0M60.5 29.4h0M76.3 -41.5h0M55.4 -32.9h0M62.7 -24.9h0M56.5 -34.4h0M79.4 -32.6h0M78.4 -20.6h0M67.7 -23.9h0M57.5 -26.9h0M43.7 -31.9h0M47.1 -39.1h0M47.0 -32.5h0M80.6 -28.9h0M54.7 -32.1h0M76.9 -21.1h0M75.6 -37.7h0M50.3 -27.8h0M85.8 -30.5h0M58.8 -26.7h0M47.2 -28.2h0M66.9 -35.6h0M84.2 -29.0h0M50.0 -29.9h0M64.3 -23.4h0M50.5 -28.9h0M81.1 -29.9h0M73.9 -26.1h0M75.3 -41.8h0M70.9 -38.0h0M57.3 -35.4h0M66.8 -32.2h0M44.0 -27.0h0M77.0 -33.3h0M51.8 -30.9h0M46.8 -30.5h0M76.5 -43.1h0M50.9 -37.8h0M48.0 -29.0h0M41.9 -40.8h0M52.9 -35.9h0M66.5 -20.3h0M62.7 -32.4h0M57.1 -39.6h0M67.7 -22.4h0M87.0 -30.8h0M67.1 -27.0h0M79.4 -39.9h0M73.2 -27.1h0M58.9 -34.7h0M74.7 -38.5h0M45.3 -40.2h0M48.4 -32.8h0M69.3 -25.6h0M75.1 -43.4h0M82.6 -29.6h0M53.9 -40.5h0M52.2 -25.6h0M45.4 -32.4h0M81.3 -38.7h0M77.6 -18.7h0M85.3 -28.1h0M57.8 -28.9h0M71.7 -23.3h0M79.3 -27.9h0M78.8 -22.0h0M83.4 -21.0h0M65.7 -38.5h0M49.4 -40.6h0M80.1 -18.8h0M66.2 -34.5h0M88.8 -30.3h0M78.7 -41.5h0M44.2 -42.3h0M64.2 -27.7h0M78.5 -23.0h0M63.1 -26.8h0M78.3 -26.8h0M50.9 -39.2h0M65.8 -19.4h0M71.1 -32.9h0M61.3 -24.4h0M85.0 -33.0h0M74.3 -37.0h0M72.3 -38.1h0M81.2 -45.6h0M82.3 -37.3h0M84.1 -27.5h0M75.1 -32.4h0M45.2 -30.9h0M66.7 -33.4h0M87.3 -20.4h0M86.8 -27.2h0M68.1 -29.0h0M52.4 -33.6h0M70.8 -20.6h0M63.3 -23.8h0M46.1 -37.7h0M60.4 -24.8h0M68.0 -36.5h0M89.6 -29.6h0M54.5 -30.8h0M60.2 -29.7h0M68.5 -33.5h0M78.3 -37.5h0M71.2 -26.0h0M87.0 -25.4h0M47.9 -41.9h0M69.7 -38.1h0M60.0 -28.7h0M68.9 -20.7h0M79.2 -19.5h0M60.3 -38.3h0M77.6 -28.0h0M79.3 -44.6h0M56.4 -32.6h0M50.1 -33.9h0M76.1 -22.1h0M48.7 -34.1h0M53.4 -31.2h0M70.3 -25.2h0M42.4 -29.8h0M86.4 -28.4h0M58.0 -26.0h0M54.3 -34.9h0M90.0 -27.2h0M86.6 -43.0h0M88.7 -45.1h0M90.5 -43.9h0M90.8 -32.5h0M89.4 -6.7h0M87.9 -6.3h0M89.7 -9.2h0M85.1 -35.3h0M90.3 -22.4h0M83.3 -6.2h0M66.2 -2.8h0M64.6 -5.0h0M64.5 2.3h0M69.7 -12.2h0M90.1 -12.7h0M80.2 -3.0h0M78.5 -5.5h0M75.6 6.4h0M70.1 17.7h0M67.8 8.2h0M68.4 3.9h0M-64.2 -24.8h0M-51.8 -22.4h0M-60.1 -34.5h0M-53.3 -22.6h0M-52.0 -24.0h0M-63.7 -16.2h0M-60.2 -24.8h0M-50.0 -22.4h0M-78.1 -21.8h0M-76.0 -19.9h0M-66.3 -26.6h0M-54.7 -25.6h0M-72.9 -17.9h0M-75.5 -26.2h0M-70.6 -18.7h0M-65.5 -31.0h0M-55.4 -19.4h0M-68.1 -26.4h0M-64.2 -20.6h0M-75.2 -21.4h0M-52.8 -20.2h0M-48.8 -23.9h0M-63.6 -28.6h0M-59.3 -23.7h0M-54.4 -32.2h0M-53.7 -27.3h0M-64.4 -32.1h0M-59.4 -32.0h0M-73.4 -18.9h0M-57.6 -25.2h0M-55.9 -29.9h0M-66.8 -27.5h0M-53.7 -28.9h0M-56.8 -28.7h0M-56.7 -25.8h0M-61.5 -28.2h0M-66.4 -34.7h0M-71.2 -25.0h0M-77.1 -22.1h0M-50.9 -26.3h0M-50.2 -23.3h0M-70.0 -21.9h0M-72.2 -26.8h0M-77.1 -20.8h0M-67.7 -27.3h0M-54.1 -24.4h0M-66.5 -20.1h0M-61.9 -19.3h0M-62.1 -23.9h0M-55.7 -25.2h0M-53.8 -31.5h0M-49.0 -22.0h0M-54.9 -28.6h0M-61.2 -21.8h0M-52.6 -19.4h0M-60.9 -25.4h0M-66.4 -9.2h0M-68.7 -0.3h0M-17.4 -25.3h0M-17.0 -30.0h0M-11.3 -38.3h0M-12.3 -33.8h0" stroke="#fffff0" stroke-width="1.40"/><path d="M25.2 15.2h0M43.4 3.2h0M46.2 16.8h0M29.6 5.6h0M41.9 -27.4h0M41.9 -34.7h0M37.6 -32.7h0M33.1 -38.4h0M38.0 -39.6h0M37.5 -3.7h0M33.5 -44.2h0M51.0 24.6h0M69.0 -27.6h0M89.2 -31.4h0M84.1 -25.5h0M89.0 -23.9h0M65.0 -28.7h0M53.9 -33.2h0M44.2 -30.1h0M62.5 -33.8h0M84.6 -22.3h0M51.3 -36.1h0M79.9 -41.6h0M64.5 -26.6h0M44.5 -35.6h0M81.9 -25.5h0M49.1 -27.5h0M76.3 -39.7h0M80.4 -36.0h0M51.9 -29.1h0M78.5 -31.9h0M74.8 -25.1h0M49.6 -39.4h0M84.6 -30.8h0M67.6 -34.3h0M67.3 -30.8h0M52.6 -26.8h0M82.6 -22.2h0M45.4 -27.7h0M82.4 -38.9h0M82.1 -23.4h0M67.4 -16.8h0M61.1 -27.4h0M58.4 -33.2h0M80.4 -37.6h0M80.0 -20.7h0M69.2 -22.4h0M87.2 -35.0h0M65.3 -22.0h0M45.6 -42.5h0M85.6 -37.7h0M46.7 -41.3h0M77.9 -40.5h0M72.6 -24.6h0M75.2 -40.2h0M54.9 -28.6h0M71.6 -41.1h0M69.9 -35.8h0M54.8 -38.1h0M51.8 -34.7h0M48.4 -38.4h0M88.8 -22.6h0M71.9 -27.1h0M83.6 -34.9h0M51.1 -26.9h0M55.0 -34.2h0M65.6 -23.8h0M81.0 -32.4h0M43.2 -30.9h0M66.2 -22.7h0M73.0 -28.8h0M61.5 -25.6h0M81.0 -40.8h0M70.5 -27.1h0M84.5 -32.0h0M73.1 -23.6h0M81.0 -21.6h0M70.0 -33.8h0M84.0 -33.1h0M82.4 -32.1h0M80.5 -27.6h0M75.9 -29.6h0M81.3 -46.7h0M73.3 -42.9h0M78.2 -30.2h0M71.4 -31.8h0M71.5 -24.7h0M51.7 -32.5h0M91.0 -22.3h0M45.8 -35.6h0M59.3 -23.7h0M87.9 -28.9h0M72.6 -25.9h0M92.7 -29.0h0M98.1 -23.4h0M95.5 -29.8h0M93.4 -37.2h0M95.0 -27.4h0M93.1 -31.1h0M84.7 -44.9h0M89.7 -41.5h0M88.7 -18.6h0M90.3 -15.4h0M88.6 -29.8h0M77.2 -2.7h0M62.1 5.6h0M80.1 -9.7h0M80.8 -17.7h0M74.0 4.4h0M91.0 -18.9h0M85.6 -12.1h0M68.2 -1.9h0M84.4 1.7h0M71.8 -10.9h0M88.4 -15.4h0M79.6 15.7h0M63.4 -1.9h0M75.9 11.5h0M68.2 7.5h0M69.1 5.2h0M-73.3 -26.5h0M-65.4 -18.0h0M-76.7 -24.8h0M-69.9 -20.5h0M-48.6 -26.8h0M-65.0 -25.5h0M-57.0 -22.9h0M-63.8 -35.1h0M-50.4 -29.4h0M-63.3 -26.1h0M-65.8 -27.8h0M-68.9 -20.0h0M-72.8 -22.1h0M-67.2 -17.4h0M-58.2 -22.5h0M-60.1 -26.5h0M-64.7 -18.5h0M-71.9 -18.0h0M-75.7 -25.4h0M-58.8 -32.9h0M-57.7 -19.9h0M-62.4 -33.3h0M-66.3 -18.3h0M-75.4 -23.3h0M-51.4 -27.3h0M-49.2 -24.6h0M-76.3 -21.6h0M-58.5 -36.9h0M-23.7 -31.2h0" stroke="#f0fcff" stroke-width="1.40"/><path d="M29.8 42.8h0M28.7 35.3h0M33.8 40.2h0M20.3 42.6h0M32.3 41.5h0M37.5 38.4h0M28.1 45.9h0M27.0 51.4h0M38.6 26.3h0M24.6 36.8h0M47.1 30.0h0M39.7 33.9h0M44.1 38.7h0M42.2 25.5h0M42.7 28.1h0M23.9 39.3h0M21.8 47.1h0M31.8 37.6h0M28.9 31.3h0M31.9 33.5h0M31.9 26.9h0M27.6 47.5h0M40.0 49.9h0M32.8 35.4h0M36.6 23.4h0M45.4 45.9h0M36.1 51.1h0M34.3 23.3h0M23.9 51.0h0M27.5 40.2h0M44.2 37.1h0M38.0 30.0h0M44.1 28.8h0M39.0 48.4h0M35.0 37.6h0M26.5 23.6h0M32.7 24.3h0M19.2 33.5h0M30.4 27.0h0M24.7 25.4h0M27.9 21.2h0M40.1 9.9h0M43.4 5.8h0M43.4 24.4h0M37.9 7.9h0M38.4 15.6h0M50.8 6.9h0M41.6 20.8h0M41.6 23.6h0M50.8 10.4h0M51.4 7.1h0M55.1 7.3h0M25.9 6.7h0M34.1 9.7h0M23.9 0.0h0M32.2 15.4h0M37.8 0.2h0M32.3 4.4h0M47.4 -19.9h0M47.0 -15.8h0M38.0 -29.8h0M44.3 -10.7h0M49.8 -11.4h0M33.7 -23.9h0M53.3 -19.1h0M40.2 -15.7h0M52.4 -20.9h0M41.0 -2.1h0M43.0 -33.0h0M41.5 -6.5h0M38.3 -18.1h0M42.6 -38.2h0M50.3 -1.2h0M37.1 -35.5h0M40.0 -37.8h0M42.1 -14.3h0M40.1 -35.8h0M47.1 -4.8h0M39.6 -28.7h0M35.8 -42.3h0M44.6 -3.5h0M33.3 -11.5h0M24.5 -21.2h0M21.6 -11.7h0M19.2 -13.3h0M35.0 -0.4h0M21.5 -4.5h0M21.8 -0.0h0M40.6 -4.0h0M37.7 -6.4h0M37.8 -0.4h0M33.5 -23.6h0M11.7 -24.3h0M21.9 -27.5h0M13.6 -35.0h0M19.9 -31.7h0M15.8 -21.9h0M9.7 -30.1h0M18.0 -33.8h0M33.5 -40.1h0M26.2 -32.2h0M9.5 -38.1h0M0.2 -32.6h0M45.0 40.8h0M67.6 36.8h0M61.3 22.6h0M64.4 21.6h0M61.3 19.9h0M77.0 -32.1h0M68.3 -26.4h0M83.0 -28.5h0M82.5 -34.3h0M78.3 -39.1h0M77.0 -35.6h0M61.9 -30.5h0M58.6 -37.5h0M78.5 -34.7h0M48.9 -41.5h0M46.9 -36.1h0M79.5 -24.5h0M72.9 -32.1h0M85.6 -26.8h0M68.6 -30.9h0M85.4 -20.0h0M69.7 -24.2h0M57.3 -37.6h0M45.4 -36.9h0M77.5 -46.7h0M72.2 -18.6h0M77.3 -25.2h0M77.1 -26.7h0M67.0 -25.2h0M65.9 -25.7h0M67.7 -31.8h0M63.7 -28.7h0M69.2 -17.6h0M69.7 -19.6h0M59.3 -35.9h0M58.9 -25.0h0M75.8 -18.9h0M69.4 -36.8h0M78.2 -43.0h0M82.0 -30.7h0M83.3 -36.7h0M51.1 -43.3h0M69.3 -32.0h0M62.5 -28.4h0M77.0 -19.8h0M82.9 -33.2h0M78.0 -44.7h0M50.0 -32.3h0M54.9 -39.6h0M45.1 -38.6h0M66.4 -29.8h0M73.6 -37.7h0M79.1 -43.5h0M52.6 -41.2h0M73.8 -19.5h0M49.7 -38.2h0M80.1 -22.6h0M53.7 -41.8h0M63.8 -25.7h0M43.3 -40.7h0M44.9 -29.0h0M72.3 -21.1h0M74.7 -23.6h0M83.1 -23.9h0M79.6 -38.8h0M72.8 -39.5h0M59.9 -32.6h0M63.9 -31.8h0M72.7 -30.6h0M74.7 -35.1h0M50.7 -34.7h0M52.5 -27.9h0M84.2 -43.2h0M49.3 -42.7h0M77.5 -41.7h0M70.3 -22.2h0M56.7 -28.5h0M57.5 -33.9h0M70.8 -16.7h0M73.5 -20.5h0M94.5 -25.2h0M84.0 -43.1h0M88.1 -32.5h0M85.8 -39.9h0M90.7 -22.6h0M74.3 -9.3h0M73.5 18.1h0M88.5 6.8h0M89.4 -3.7h0M88.4 9.6h0M90.5 -15.9h0M58.1 2.8h0M68.7 -8.3h0M78.4 13.4h0M90.1 -9.8h0M84.4 7.7h0M66.8 9.1h0M71.5 6.0h0M82.0 -13.2h0M75.3 7.1h0M68.3 5.7h0M75.4 6.1h0M70.5 0.0h0M68.6 3.8h0M-72.1 -20.2h0M-66.3 -17.5h0M-66.1 -22.9h0M-62.4 -24.7h0M-59.1 -21.5h0M-58.2 -34.4h0M-70.1 -23.2h0M-68.0 -17.5h0M-56.8 -24.9h0M-54.6 -27.6h0M-52.9 -29.5h0M-71.9 -25.4h0M-56.0 -28.7h0M-62.6 -30.5h0M-66.0 -19.2h0M-63.6 -21.4h0M-73.6 -24.2h0M-62.0 -22.3h0M-58.0 -18.1h0M-47.9 -24.6h0M-58.9 -18.4h0M-62.5 -23.0h0M-76.3 -20.8h0M-55.8 -31.3h0M-60.1 -17.2h0M-58.1 -21.1h0M-57.7 -31.9h0M-70.4 -19.8h0M-48.8 -27.7h0M-74.7 -19.1h0M-67.6 -23.7h0M-63.0 -24.0h0M-60.5 -31.6h0M-70.0 -17.3h0M-55.5 -32.8h0M-49.8 -25.5h0M-54.0 -19.8h0M-74.3 -25.3h0M-68.8 -23.4h0M-55.5 -27.3h0M-56.0 -18.4h0M-60.5 -23.8h0M-76.2 -23.6h0M-69.7 -19.0h0M-64.6 -31.1h0M-71.5 -18.8h0M-59.2 -17.0h0M-68.2 -24.6h0M-63.9 -19.2h0M-67.3 -21.4h0M-75.0 -22.5h0M-77.3 -24.2h0M-59.9 -25.6h0M-57.7 -23.4h0M-68.9 -19.2h0M-64.0 -29.6h0M-74.6 -24.4h0M-62.6 -16.5h0M-63.2 -32.3h0M-52.8 -31.2h0M-65.1 -26.9h0M-58.4 -31.3h0M-70.9 -21.5h0M-50.8 -22.1h0M-64.5 -28.8h0M-65.0 -33.4h0M-80.7 0.5h0M-80.6 3.3h0M-79.6 3.1h0M-78.3 -18.9h0M-69.7 -35.9h0M-62.8 -15.3h0M-55.2 -9.2h0M-38.1 18.2h0M-14.4 -26.1h0M-17.3 -23.6h0M-18.0 -38.5h0" stroke="#fff5b0" stroke-width="1.40"/><path d="M46.9 -26.2h0M34.7 -36.9h0M48.4 -3.3h0M37.0 -43.7h0M66.9 12.9h0M53.5 -29.6h0M73.9 -43.9h0M49.4 -31.2h0M58.8 -30.4h0M61.2 -34.0h0M70.9 -35.1h0M58.3 -39.5h0M70.1 -30.6h0M81.9 -36.0h0M58.2 -31.9h0M80.2 -33.3h0M80.3 -31.0h0M68.3 -38.5h0M79.9 -26.7h0M55.2 -37.1h0M79.5 -29.9h0M84.3 -40.8h0M70.6 -28.2h0M72.5 -33.2h0M74.4 -31.6h0M81.1 -34.9h0M73.3 -35.3h0M55.4 -35.5h0M81.8 -20.2h0M42.1 -28.0h0M75.2 -26.1h0M76.6 -30.7h0M49.6 -36.1h0M86.8 -23.5h0M75.3 -27.6h0M45.7 -34.1h0M47.8 -40.1h0M50.5 -40.2h0M60.4 -34.9h0M86.3 -22.4h0M43.4 -28.0h0M76.4 -36.6h0M65.5 -30.7h0M71.9 -35.3h0M82.6 -44.6h0M47.4 -35.1h0M43.8 -37.4h0M75.3 -20.0h0M52.6 -30.1h0M70.7 -39.1h0M68.9 -35.0h0M56.1 -29.4h0M83.3 -41.7h0M75.3 -30.9h0M75.7 -24.1h0M75.7 -33.6h0M68.5 -15.9h0M75.9 -38.7h0M43.9 -39.7h0M73.9 -33.5h0M55.8 -27.5h0M87.7 -22.0h0M80.0 -25.6h0M52.0 -42.1h0M89.0 -25.4h0M88.8 -24.3h0M76.7 -12.9h0M82.8 -2.9h0M80.5 2.8h0M88.7 3.1h0M76.3 8.2h0M75.2 11.7h0M75.6 9.2h0M-61.2 -16.8h0M-59.9 -18.3h0M-61.3 -29.4h0M-71.3 -23.5h0M-54.8 -20.4h0M-67.9 -20.6h0M-69.3 -26.0h0M-62.3 -29.2h0M-48.0 -25.9h0M-60.8 -27.2h0M-74.2 -26.4h0M-74.7 12.0h0M-59.5 -13.2h0M-13.2 -36.5h0" stroke="#b0ecfa" stroke-width="1.40"/><path d="M35.5 22.1h0M42.8 37.9h0M24.4 43.9h0M34.6 44.5h0M47.0 33.9h0M23.6 41.6h0M29.0 39.1h0M19.2 38.5h0M30.9 40.3h0M28.4 43.0h0M26.4 39.2h0M33.1 31.4h0M52.2 32.3h0M39.0 35.2h0M34.0 34.5h0M45.8 37.3h0M36.2 44.2h0M28.4 37.6h0M27.4 31.7h0M31.7 45.7h0M26.5 43.6h0M40.4 35.6h0M35.5 33.5h0M20.4 45.6h0M31.1 31.3h0M40.8 32.2h0M24.5 33.8h0M18.3 43.9h0M41.8 30.7h0M41.3 29.2h0M17.7 45.3h0M38.7 28.8h0M29.8 44.7h0M40.3 30.7h0M26.2 32.9h0M36.6 26.6h0M38.9 23.8h0M42.8 36.5h0M35.2 31.2h0M36.3 32.3h0M19.0 40.0h0M23.1 34.4h0M40.1 28.4h0M32.3 30.2h0M25.5 40.3h0M18.0 42.4h0M43.5 26.5h0M37.7 24.7h0M31.1 42.3h0M31.3 35.3h0M27.2 36.8h0M45.1 41.9h0M41.4 27.6h0M21.9 35.5h0M24.0 49.6h0M34.2 32.8h0M23.1 44.5h0M25.6 44.7h0M19.7 44.3h0M20.5 39.4h0M23.6 37.9h0M22.5 39.3h0M35.7 47.5h0M29.2 24.2h0M18.3 31.5h0M23.4 27.3h0M33.9 21.6h0M27.1 16.4h0M16.0 28.2h0M28.0 26.7h0M31.0 21.1h0M15.3 24.5h0M19.7 24.6h0M21.5 32.6h0M29.2 17.1h0M26.7 18.9h0M18.5 28.8h0M14.5 26.5h0M44.9 0.8h0M41.9 14.7h0M41.3 11.3h0M47.4 0.6h0M49.5 0.3h0M36.6 12.1h0M46.0 19.9h0M40.5 16.0h0M36.4 18.6h0M46.1 9.9h0M49.3 13.5h0M48.3 10.2h0M47.8 17.7h0M38.0 10.4h0M48.6 6.7h0M49.7 8.5h0M43.2 12.8h0M47.8 12.4h0M43.1 22.3h0M42.3 9.3h0M39.7 12.0h0M43.1 7.6h0M43.9 10.8h0M50.4 2.0h0M42.0 17.6h0M44.8 7.1h0M38.7 22.3h0M50.8 15.9h0M53.9 4.5h0M51.5 23.3h0M55.0 2.1h0M53.2 11.5h0M51.7 0.6h0M24.8 13.9h0M34.7 2.9h0M28.5 0.3h0M31.9 7.9h0M34.3 12.8h0M28.5 12.6h0M36.9 9.5h0M39.6 -23.9h0M33.5 -29.1h0M42.3 -10.6h0M45.5 -1.8h0M32.4 -26.8h0M36.7 -21.4h0M51.3 -7.9h0M40.5 -12.7h0M30.9 -32.7h0M35.4 -39.2h0M52.1 -3.8h0M46.2 -9.8h0M44.8 -25.5h0M45.9 -17.4h0M46.0 -21.4h0M28.3 -30.2h0M53.1 -1.9h0M44.1 -15.4h0M44.0 -5.3h0M49.9 -9.4h0M44.6 -8.7h0M39.6 -20.0h0M53.7 -0.1h0M48.4 -14.3h0M34.5 -26.5h0M40.0 -10.0h0M47.9 -11.4h0M26.7 -31.4h0M53.1 -15.4h0M38.5 -22.4h0M37.9 -27.8h0M31.1 -9.4h0M23.4 -2.5h0M33.0 -3.3h0M28.3 -11.3h0M27.2 -18.2h0M26.8 -30.4h0M21.8 -15.2h0M40.7 -0.8h0M31.2 -26.5h0M22.4 -7.4h0M24.4 -17.4h0M23.9 -23.9h0M36.2 -11.2h0M33.0 -14.2h0M26.8 -4.9h0M39.1 -10.4h0M34.9 -6.1h0M35.6 -14.0h0M22.4 -26.3h0M13.8 -26.8h0M2.8 -34.7h0M14.6 -30.4h0M10.5 -35.1h0M17.7 -26.0h0M16.9 -28.9h0M23.4 -31.3h0M20.5 -24.5h0M3.2 -27.6h0M20.3 -48.1h0M70.8 25.4h0M58.8 25.7h0M53.7 47.9h0M59.6 6.5h0M69.7 34.4h0M62.6 31.1h0M68.5 31.8h0M55.6 10.8h0M57.5 30.9h0M41.8 37.2h0M61.4 -32.6h0M50.9 -31.6h0M56.2 -30.8h0M52.7 -39.1h0M80.8 -42.1h0M74.2 -40.8h0M82.0 -27.0h0M72.5 -36.5h0M76.8 -34.3h0M66.1 -27.8h0M79.7 -34.6h0M73.3 -41.9h0M48.3 -36.0h0M76.7 -44.6h0M76.7 -28.7h0M67.5 -18.7h0M71.5 -29.2h0M66.8 -37.9h0M63.5 -30.6h0M60.5 -31.4h0M82.2 -40.0h0M46.4 -26.9h0M78.5 -29.1h0M90.2 -18.9h0M90.3 -17.5h0M66.4 5.3h0M88.2 -20.2h0M78.3 -17.6h0M80.2 9.3h0M68.6 7.5h0M83.0 -10.0h0M85.4 -9.1h0M91.7 -0.4h0M75.5 10.5h0M73.3 17.3h0M69.7 1.0h0M-57.1 -18.2h0M-64.5 -27.6h0M-51.9 -20.0h0M-56.9 -29.9h0M-55.6 -20.9h0M-49.9 -21.1h0M-64.9 -17.3h0M-71.5 -22.1h0M-49.8 -28.0h0M-49.1 -28.6h0M-50.2 -24.6h0M-53.6 -25.9h0M-60.5 -30.6h0M-60.0 -20.2h0M-50.8 -25.4h0M-61.8 -31.0h0M-60.5 -29.1h0M-68.9 -16.9h0M-65.8 -33.9h0M-69.1 -25.0h0M-61.4 -34.4h0M-51.6 -25.1h0M-59.5 -30.9h0M-66.6 -21.0h0M-65.7 -21.4h0M-55.0 -24.7h0M-65.0 -29.8h0M-56.9 -20.4h0M-53.0 -24.8h0M-59.1 -26.1h0M-68.3 -18.6h0M-55.4 -22.8h0M-56.5 -33.3h0M-61.0 -20.4h0M-52.1 -29.1h0M-53.0 -27.8h0M-52.1 -21.0h0M-67.9 -25.5h0M-73.1 -25.0h0M-58.7 -30.4h0M-59.2 -35.4h0M-54.6 -23.5h0M-56.5 -22.2h0M-54.4 -19.0h0M-59.5 -22.4h0M-56.7 -30.8h0M-72.0 -23.0h0M-67.9 -22.9h0M-58.9 -24.4h0M-74.5 -23.4h0M-60.0 -33.7h0M-67.5 -19.7h0M-63.7 -17.2h0M-55.7 -21.9h0M-69.1 -18.2h0M-63.2 -15.5h0M-48.4 -22.7h0M-73.2 -22.8h0M-62.6 -28.3h0M-58.2 -25.9h0M-77.9 -22.6h0M-52.9 -28.7h0M-63.9 -31.4h0M-67.0 -26.3h0M-72.8 -25.9h0M-58.6 24.0h0M-56.7 23.8h0M-73.9 12.9h0M-57.1 7.4h0M-63.2 5.9h0M-68.3 -7.3h0M-67.9 -2.6h0M-57.2 11.4h0M-66.2 0.4h0M-71.2 7.8h0M-68.1 7.1h0M-77.2 -25.4h0M-76.6 -33.9h0M-48.1 12.4h0M-50.4 18.2h0M-31.6 -15.8h0M-19.0 -29.0h0M-15.6 -23.5h0M-10.3 -28.8h0M-13.0 -31.6h0M-16.9 -34.1h0M-9.4 -31.9h0" stroke="#ffd490" stroke-width="1.40"/><path d="M57.5 34.3h0M74.8 -17.9h0M54.0 -36.1h0M77.0 -29.7h0M73.9 -29.7h0M48.0 -30.2h0M85.6 -24.2h0M72.5 -22.2h0M65.1 -32.8h0M85.9 -21.1h0M48.1 -31.6h0M64.5 -24.5h0M50.2 -25.3h0M46.5 -29.2h0M89.0 -37.1h0M71.4 -0.2h0M-54.0 -21.0h0M-77.4 -23.4h0M-65.7 -16.7h0" stroke="#8cdcf8" stroke-width="1.40"/><path d="M48.8 32.1h0M25.8 37.4h0M43.3 41.5h0M30.6 36.7h0M25.1 35.4h0M29.5 29.5h0M34.1 50.0h0M27.8 41.6h0M35.2 27.8h0M27.1 35.0h0M30.5 33.8h0M34.9 36.1h0M45.5 32.9h0M24.7 46.4h0M37.4 33.8h0M22.7 45.9h0M44.3 35.5h0M21.9 40.6h0M26.8 49.1h0M32.4 28.5h0M32.0 39.0h0M38.0 32.4h0M36.0 38.6h0M30.5 38.4h0M25.5 51.9h0M31.0 28.7h0M25.8 41.8h0M24.0 52.7h0M35.2 25.1h0M22.4 36.9h0M21.5 38.3h0M21.1 44.3h0M43.5 31.2h0M23.4 35.8h0M39.7 25.0h0M29.3 50.7h0M35.6 20.6h0M44.1 33.6h0M20.3 37.2h0M41.4 50.1h0M52.0 34.3h0M17.7 38.9h0M30.3 48.0h0M44.9 25.9h0M35.3 29.2h0M24.1 18.7h0M26.1 29.2h0M29.3 19.4h0M20.7 29.4h0M25.5 20.8h0M23.9 32.4h0M17.7 25.4h0M22.0 25.0h0M40.0 6.9h0M35.2 15.1h0M40.8 0.5h0M47.0 4.9h0M45.1 5.0h0M38.6 20.5h0M41.3 4.9h0M40.1 19.3h0M45.2 12.5h0M34.3 17.8h0M44.4 17.9h0M38.6 3.4h0M45.0 14.4h0M36.0 16.7h0M44.3 8.9h0M45.1 24.0h0M38.7 5.5h0M37.1 14.3h0M38.9 17.4h0M43.7 16.2h0M36.5 20.8h0M39.5 1.8h0M48.4 23.8h0M37.7 3.6h0M34.9 0.1h0M38.9 -25.9h0M47.4 -23.6h0M34.2 -31.0h0M50.0 -5.0h0M41.9 -20.9h0M41.8 -30.9h0M30.7 -30.7h0M49.2 -22.4h0M54.7 -7.3h0M55.7 -0.1h0M42.1 -24.1h0M52.5 -6.2h0M47.4 -0.4h0M43.9 -0.2h0M43.2 -19.4h0M26.7 -23.9h0M28.7 -6.9h0M27.9 -15.2h0M21.7 -18.9h0M24.3 -9.3h0M30.4 -18.7h0M31.6 -0.1h0M20.3 -24.0h0M30.3 -13.3h0M29.4 -24.4h0M18.3 -21.6h0M35.9 -19.9h0M24.1 -5.5h0M5.7 -35.8h0M-2.7 -32.7h0M13.1 -39.4h0M15.4 -18.8h0M58.7 11.7h0M53.6 36.4h0M64.3 15.0h0M84.8 -36.9h0M43.4 -29.1h0M86.3 -36.6h0M88.7 -1.7h0M68.8 -5.5h0M75.8 -6.3h0M71.3 -4.3h0M75.5 5.4h0M68.4 9.7h0M75.5 8.1h0M75.1 15.1h0M-58.1 -24.6h0M-54.6 -30.5h0M-54.4 -26.6h0M-53.1 -21.3h0M-53.6 -30.7h0M-69.2 -27.0h0M-75.5 -24.2h0M-63.9 -18.2h0M-63.4 -22.8h0M-61.1 -19.3h0M-64.8 -15.8h0M-52.8 -26.8h0M-66.5 -25.2h0M-56.6 -19.3h0M-64.8 -22.4h0M-57.4 -33.6h0M-60.1 -21.6h0M-63.1 -27.5h0M-65.1 -20.9h0M-62.7 -19.4h0M-48.9 -25.6h0M-58.8 -33.8h0M-59.6 -27.9h0M-61.9 -27.0h0M-70.3 -25.1h0M-51.6 -29.9h0M-51.1 -20.9h0M-65.8 -23.7h0M-71.2 -19.8h0M-54.6 -29.4h0M-58.1 -26.9h0M-75.1 -19.9h0M-63.0 -29.7h0M-49.8 -26.6h0M-52.2 -30.6h0M-62.7 -26.7h0M-57.7 -17.3h0M-65.7 -32.6h0M-52.6 -22.0h0M-70.1 -26.4h0M-68.5 -21.1h0M-56.9 -21.5h0M-58.5 -32.1h0M-73.7 -21.6h0M-63.6 -33.6h0M-54.9 -18.2h0M-64.5 -23.2h0M-77.2 -24.2h0M-78.6 5.1h0M-58.9 23.5h0M-64.9 19.4h0M-68.5 16.9h0M-56.4 24.6h0M-58.6 -2.0h0M-62.8 -5.5h0M-61.9 11.5h0M-66.1 13.4h0M-71.7 -0.8h0M-72.2 -34.0h0M-72.0 -14.4h0M-68.6 -16.0h0M-47.4 -23.5h0M-52.5 6.3h0M-52.1 -18.2h0M-38.9 -28.8h0M-50.8 -0.8h0M-50.8 4.5h0M-48.9 -29.9h0M-46.5 25.7h0M-29.3 -22.9h0M-34.3 -10.2h0M-39.3 -21.6h0M-33.6 -21.0h0M-11.7 -24.8h0M-18.7 -33.9h0M-19.6 -25.1h0M-19.6 -32.6h0" stroke="#ffa060" stroke-width="1.40"/><path d="M54.3 14.4h0M57.4 -31.1h0M71.0 -18.3h0M74.7 -21.0h0M89.5 -9.6h0M90.7 -1.4h0M74.2 -16.6h0M-53.2 -23.4h0M-72.1 -24.4h0M-53.9 -28.1h0" stroke="#6cc0f4" stroke-width="1.40"/><path d="M44.7 27.4h0M37.4 28.2h0M36.2 41.0h0M42.9 48.7h0M22.4 52.9h0M28.0 33.4h0M44.1 40.1h0M46.7 35.8h0M30.0 32.4h0M23.8 30.1h0M49.8 4.2h0M46.2 -12.3h0M33.3 -33.7h0M49.3 -16.1h0M41.9 -0.4h0M35.5 -32.6h0M43.9 -22.2h0M33.4 -20.7h0M40.4 -6.8h0M37.8 -15.7h0M31.2 -22.5h0M24.6 -27.8h0M21.6 -34.3h0M1.1 -29.7h0M15.9 -41.8h0M1.9 -37.4h0M67.8 25.9h0M68.9 29.1h0M58.5 14.6h0M60.9 3.0h0M74.5 14.0h0M-72.3 -19.2h0M-62.8 -31.4h0M-68.9 -21.9h0M-52.1 -26.0h0M-74.0 -22.3h0M-72.3 -21.1h0M-61.4 -23.5h0M-64.2 -33.1h0M-69.7 -24.3h0M-67.0 -24.3h0M-53.9 -21.8h0M-52.1 -28.0h0M-65.5 -20.1h0M-65.5 -28.6h0M-75.5 -20.6h0M-62.2 -20.2h0M-65.4 -35.1h0M-57.7 -32.7h0M-62.5 20.2h0M-63.8 0.4h0M-54.3 -35.5h0M-48.7 -7.1h0M-45.2 19.8h0M-43.7 14.7h0M-32.7 -25.8h0M-33.9 -6.2h0M-22.8 -29.0h0M-14.3 -34.9h0" stroke="#ffa060" stroke-width="2.16"/><path d="M36.7 35.4h0M38.5 36.6h0M46.1 26.7h0M33.6 27.4h0M40.0 41.1h0M40.6 46.0h0M25.3 50.2h0M31.7 47.6h0M29.4 52.3h0M20.1 40.9h0M45.1 30.6h0M40.7 48.7h0M28.7 49.2h0M51.5 30.2h0M49.3 34.9h0M29.7 53.9h0M21.7 49.0h0M37.2 45.4h0M37.9 40.7h0M21.9 43.0h0M42.9 44.8h0M37.9 22.8h0M36.6 37.1h0M39.3 42.5h0M43.2 29.8h0M33.3 24.7h0M32.7 49.2h0M30.1 49.4h0M47.7 28.0h0M42.1 47.5h0M35.5 52.5h0M27.8 44.4h0M41.1 40.1h0M49.6 30.9h0M28.9 40.7h0M42.5 39.5h0M26.7 52.8h0M42.1 46.1h0M28.2 30.0h0M36.9 39.8h0M35.1 39.6h0M50.4 29.2h0M26.3 31.4h0M28.5 29.0h0M46.6 7.3h0M47.6 15.2h0M40.5 22.2h0M42.6 0.9h0M34.8 19.9h0M46.7 26.4h0M45.7 23.4h0M23.0 7.8h0M28.8 15.5h0M32.6 18.3h0M32.2 1.2h0M26.6 2.5h0M28.8 -32.4h0M40.2 -33.9h0M45.3 -23.5h0M48.4 -6.2h0M51.1 -14.7h0M54.1 -5.0h0M42.8 -17.1h0M36.9 -23.7h0M51.0 -17.7h0M49.0 -18.0h0M45.0 -19.6h0M42.6 -3.7h0M31.4 -28.8h0M36.9 -37.3h0M51.2 -12.7h0M50.0 -26.1h0M34.8 -22.2h0M38.8 -13.7h0M35.9 -8.6h0M18.7 -19.0h0M31.8 -6.3h0M30.5 -16.0h0M6.7 -31.5h0M16.3 -45.3h0M3.4 -31.6h0M19.2 -45.5h0M18.8 -36.6h0M18.6 -22.4h0M51.4 30.9h0M57.8 17.3h0M48.6 34.9h0M63.9 35.5h0M64.9 24.4h0M65.5 27.9h0M56.2 2.2h0M55.7 5.0h0M90.7 -25.7h0M90.7 -21.8h0M89.5 -24.2h0M86.2 -31.3h0M88.4 -7.6h0M84.9 -38.6h0M86.6 -5.8h0M63.2 7.5h0M-57.1 -27.3h0M-58.3 -19.1h0M-60.8 -18.0h0M-61.5 -21.0h0M-64.9 -19.6h0M-57.7 -29.7h0M-59.4 -19.5h0M-61.2 -26.4h0M-60.2 -32.4h0M-58.8 -20.5h0M-60.4 -22.7h0M-64.3 -26.7h0M-65.8 -29.6h0M-58.0 -28.1h0M-59.5 -29.0h0M-67.0 -16.6h0M-65.6 -24.7h0M-72.9 -23.7h0M-75.9 -22.4h0M-71.4 -20.7h0M-62.3 -35.3h0M-54.9 -22.2h0M-62.9 -21.3h0M-61.7 -25.6h0M-53.4 -19.1h0M-71.3 -26.3h0M-50.5 -27.4h0M-60.6 -28.1h0M-70.9 -17.4h0M-51.5 -23.4h0M-70.9 -22.8h0M-61.1 -24.4h0M-63.9 -23.8h0M-58.9 -27.5h0M-73.8 -19.7h0M-73.7 -18.1h0M-54.1 -22.8h0M-81.1 -2.2h0M-79.1 -19.0h0M-80.7 -15.4h0M-70.3 16.4h0M-65.8 18.6h0M-65.4 -5.3h0M-58.8 7.9h0M-59.6 -4.2h0M-61.6 4.7h0M-69.6 12.3h0M-62.6 2.1h0M-80.1 -24.0h0M-69.4 -32.4h0M-64.2 -11.6h0M-48.8 -10.3h0M-48.6 -3.9h0M-41.2 -30.9h0M-51.4 -5.0h0M-52.8 -15.5h0M-43.8 23.7h0M-47.1 -14.5h0M-47.9 19.8h0M-44.9 -27.6h0M-27.5 -30.4h0M-41.5 21.2h0M-36.1 -4.6h0M-34.7 -29.3h0M-37.7 -17.5h0M-26.6 -25.4h0M-34.3 -1.3h0M-15.4 -27.4h0M-19.9 -27.4h0M-14.8 -30.8h0M-13.1 -23.7h0M-21.3 -32.2h0M-16.2 -38.4h0M-15.0 -29.2h0M-20.7 -28.8h0" stroke="#ff6842" stroke-width="2.16"/><path d="M41.9 34.8h0M49.0 29.1h0M35.3 42.1h0M42.6 32.3h0M35.3 46.1h0M53.5 33.9h0M41.3 43.4h0M41.4 38.6h0M44.7 43.7h0M51.6 35.8h0M53.7 36.3h0M42.8 43.0h0M33.3 37.1h0M46.3 44.5h0M37.5 42.7h0M38.8 45.5h0M50.4 32.1h0M48.2 35.8h0M32.7 50.7h0M41.4 44.8h0M34.1 26.0h0M33.9 41.6h0M27.8 50.2h0M32.7 19.2h0M38.5 0.3h0M39.7 -30.9h0M36.9 -19.4h0M28.9 -28.0h0M27.4 -0.5h0M6.5 -27.4h0M12.2 -32.2h0M11.1 -27.6h0M36.6 -48.1h0M54.1 21.3h0M63.9 18.4h0M89.5 -15.9h0M89.3 -16.6h0M91.3 -20.7h0M82.0 -40.7h0M89.8 -26.4h0M84.7 -39.5h0M-51.0 -28.1h0M-61.7 -32.4h0M-62.2 -34.1h0M-61.9 -16.0h0M-63.0 -18.2h0M-73.6 -20.7h0M-56.0 -23.9h0M-65.8 -25.6h0M-60.6 -33.2h0M-63.2 -20.1h0M-74.5 -20.6h0M-57.2 -26.5h0M-61.4 -30.2h0M-56.5 -32.0h0M-63.1 -34.4h0M-59.0 -25.3h0M-56.3 -27.7h0M-70.7 -24.2h0M-79.5 0.6h0M-80.7 -0.2h0M-82.7 -12.2h0M-71.2 13.1h0M-64.1 19.2h0M-70.9 -4.8h0M-66.6 -1.3h0M-66.5 8.0h0M-71.9 1.4h0M-69.1 5.1h0M-66.5 6.1h0M-64.4 -9.0h0M-58.1 5.1h0M-71.4 10.3h0M-64.3 -2.7h0M-64.5 -36.4h0M-60.7 -39.7h0M-66.9 -12.8h0M-57.6 -8.8h0M-69.3 -10.4h0M-44.8 17.5h0M-46.5 14.4h0M-49.5 -18.5h0M-51.0 11.0h0M-50.4 -12.2h0M-45.4 -20.2h0M-54.0 -5.2h0M-53.6 2.2h0M-46.1 -30.7h0M-56.6 -2.7h0M-32.7 -17.3h0M-41.5 -11.0h0M-45.8 -9.8h0M-43.5 -6.0h0M-37.1 -12.1h0M-25.3 -20.1h0M-25.8 -1.8h0M-29.0 11.6h0M-30.3 -3.6h0M-16.5 -36.2h0M-12.7 -29.9h0M-15.4 -33.4h0M-18.0 -31.7h0M-17.8 -40.1h0M-10.5 -35.9h0" stroke="#ff3a38" stroke-width="2.16"/><path d="M79.4 -12.1h0" stroke="#3a78f4" stroke-width="2.16"/><path d="M38.8 38.9h0M51.1 33.3h0M34.1 47.5h0M43.7 46.8h0M28.1 53.1h0M52.3 37.6h0M36.3 30.2h0M41.0 37.0h0M25.4 47.8h0M33.4 42.9h0M22.4 51.1h0M31.2 50.6h0M49.0 33.5h0M45.6 34.4h0M51.0 40.0h0M26.2 46.1h0M33.8 46.1h0M47.1 32.3h0M39.8 37.8h0M50.0 36.2h0M54.9 34.8h0M44.6 36.8h0M64.2 38.3h0M84.2 -40.6h0M88.6 -25.1h0M89.9 -17.8h0M87.1 -2.2h0M85.9 -34.4h0M66.3 26.4h0M67.8 27.8h0M68.9 25.5h0M69.3 25.1h0M69.2 25.0h0M-49.3 -22.8h0M-64.9 -34.2h0M-64.3 -25.8h0M-68.4 16.1h0M-70.7 14.6h0M-60.8 -6.1h0M-58.9 -7.2h0M-62.6 -3.0h0M-62.5 -1.3h0M-65.2 10.7h0M-69.0 -9.2h0M-65.5 -7.2h0M-57.4 -5.9h0M-53.4 13.4h0M-47.1 -1.6h0M-40.2 -7.9h0M-26.5 -9.7h0M-25.5 6.9h0M-22.3 -17.1h0M-8.7 -27.2h0M-18.2 -36.1h0M-20.2 -30.8h0M-13.8 -39.7h0" stroke="#fb1d2c" stroke-width="2.16"/><path d="M39.2 44.1h0M32.2 43.8h0M41.7 41.4h0M45.9 29.1h0M51.1 38.5h0M57.6 23.4h0M62.7 41.0h0M91.0 -17.8h0M67.5 24.8h0M67.9 27.3h0M66.3 28.1h0M-67.1 -22.3h0M-61.9 -17.8h0M-58.5 -29.1h0M-67.4 -18.7h0M-57.9 -30.6h0M-79.5 5.5h0M-79.7 -0.5h0M-79.2 7.7h0M-82.2 -18.4h0M-68.6 15.5h0M-66.5 18.5h0M-64.8 1.9h0M-60.6 8.2h0M-69.6 10.2h0M-38.7 11.4h0M-30.9 -28.6h0M-41.6 10.5h0M-11.1 -27.1h0M-17.4 -28.4h0M-21.6 -27.2h0" stroke="#d8152e" stroke-width="2.16"/><path d="M29.4 46.7h0M87.5 -32.9h0M89.9 -24.3h0M89.0 -12.5h0M88.6 -20.6h0M90.8 -7.7h0M89.6 -23.5h0M90.1 -19.4h0M89.3 -29.4h0M-55.8 -26.4h0M-77.8 -20.2h0M-76.8 -20.8h0M-78.6 8.3h0M-72.1 5.7h0M-61.6 -8.6h0M-11.0 -31.5h0M-14.3 -38.0h0" stroke="#b00f28" stroke-width="2.16"/></g></g>
<g><g fill="none" stroke="#b4b4b4" stroke-width="0.36"><circle r="88.5"/><circle r="41.1"/><path d="M0 0L0.0 107.2"/><path d="M0 0L53.6 92.8"/><path d="M0 0L92.8 53.6"/><path d="M0 0L107.2 0.0"/><path d="M0 0L92.8 -53.6"/><path d="M0 0L53.6 -92.8"/><path d="M0 0L0.0 -107.2"/><path d="M0 0L-53.6 -92.8"/><path d="M0 0L-92.8 -53.6"/><path d="M0 0L-107.2 -0.0"/><path d="M0 0L-92.8 53.6"/><path d="M0 0L-53.6 92.8"/></g><g fill="none" stroke="#707070" stroke-width="0.4" clip-path="url(#lc)"><circle r="88.5"/><circle r="41.1"/><path d="M0 0L0.0 107.2"/><path d="M0 0L53.6 92.8"/><path d="M0 0L92.8 53.6"/><path d="M0 0L107.2 0.0"/><path d="M0 0L92.8 -53.6"/><path d="M0 0L53.6 -92.8"/><path d="M0 0L0.0 -107.2"/><path d="M0 0L-53.6 -92.8"/><path d="M0 0L-92.8 -53.6"/><path d="M0 0L-107.2 -0.0"/><path d="M0 0L-92.8 53.6"/><path d="M0 0L-53.6 92.8"/></g><g stroke="#222" stroke-width="0.6"><path d="M0.0 106.2L0.0 109.1"/><path d="M53.1 92.0L54.5 94.5"/><path d="M92.0 53.1L94.5 54.6"/><path d="M106.2 0.0L109.1 0.0"/><path d="M92.0 -53.1L94.5 -54.5"/><path d="M53.1 -92.0L54.5 -94.5"/><path d="M0.0 -106.2L0.0 -109.1"/><path d="M-53.1 -92.0L-54.6 -94.5"/><path d="M-92.0 -53.1L-94.5 -54.6"/><path d="M-106.2 -0.0L-109.1 -0.0"/><path d="M-92.0 53.1L-94.5 54.6"/><path d="M-53.1 92.0L-54.6 94.5"/></g><circle r="107.2" fill="none" stroke="#111" stroke-width="1.0"/><circle r="2.3" fill="#000"/><text transform="translate(0.0 -114.8) rotate(0)" font-size="9.6" text-anchor="middle" x="0.0" y="3.4" fill="#111">180<tspan font-size="7" dy="-4">o</tspan><tspan dy="4">W</tspan></text><text transform="translate(-57.4 -99.4) rotate(-30)" font-size="9.6" text-anchor="middle" x="0.0" y="3.4" fill="#111">150<tspan font-size="7" dy="-4">o</tspan><tspan dy="4">W</tspan></text><text transform="translate(-99.4 -57.4) rotate(-60)" font-size="9.6" text-anchor="middle" x="0.0" y="3.4" fill="#111">120<tspan font-size="7" dy="-4">o</tspan><tspan dy="4">W</tspan></text><text transform="translate(-118.0 0.0) rotate(90)" font-size="9.6" text-anchor="middle" x="1.7" y="3.4" fill="#111">90<tspan font-size="7" dy="-4">o</tspan><tspan dy="4">W</tspan></text><text transform="translate(-102.2 59.0) rotate(60)" font-size="9.6" text-anchor="middle" x="1.7" y="3.4" fill="#111">60<tspan font-size="7" dy="-4">o</tspan><tspan dy="4">W</tspan></text><text transform="translate(-59.0 102.2) rotate(30)" font-size="9.6" text-anchor="middle" x="1.7" y="3.4" fill="#111">30<tspan font-size="7" dy="-4">o</tspan><tspan dy="4">W</tspan></text><text transform="translate(0.0 118.0) rotate(0)" font-size="9.6" text-anchor="middle" x="0.0" y="3.4" fill="#111">0<tspan font-size="7" dy="-4">o</tspan><tspan dy="4"></tspan></text><text transform="translate(59.0 102.2) rotate(-30)" font-size="9.6" text-anchor="middle" x="1.7" y="3.4" fill="#111">30<tspan font-size="7" dy="-4">o</tspan><tspan dy="4">E</tspan></text><text transform="translate(102.2 59.0) rotate(-60)" font-size="9.6" text-anchor="middle" x="1.7" y="3.4" fill="#111">60<tspan font-size="7" dy="-4">o</tspan><tspan dy="4">E</tspan></text><text transform="translate(118.0 0.0) rotate(-90)" font-size="9.6" text-anchor="middle" x="1.7" y="3.4" fill="#111">90<tspan font-size="7" dy="-4">o</tspan><tspan dy="4">E</tspan></text><text transform="translate(99.4 -57.4) rotate(60)" font-size="9.6" text-anchor="middle" x="0.0" y="3.4" fill="#111">120<tspan font-size="7" dy="-4">o</tspan><tspan dy="4">E</tspan></text><text transform="translate(57.4 -99.4) rotate(30)" font-size="9.6" text-anchor="middle" x="0.0" y="3.4" fill="#111">150<tspan font-size="7" dy="-4">o</tspan><tspan dy="4">E</tspan></text><path d="M-6.5 -87.3h4" stroke="#222" stroke-width="0.7"/><text x="5" y="-83.9" font-size="9.6" fill="#111">30<tspan font-size="7" dy="-4">o</tspan><tspan dy="4">N</tspan></text><path d="M-6.5 -39.9h4" stroke="#222" stroke-width="0.7"/><text x="5" y="-36.5" font-size="9.6" fill="#111">60<tspan font-size="7" dy="-4">o</tspan><tspan dy="4">N</tspan></text><rect x="127.9" y="91.83" width="6.0" height="11.62" fill="#2008d0"/><rect x="127.9" y="80.37" width="6.0" height="11.62" fill="#1a14f0"/><rect x="127.9" y="68.90" width="6.0" height="11.62" fill="#2a48f4"/><rect x="127.9" y="57.43" width="6.0" height="11.62" fill="#3a78f4"/><rect x="127.9" y="45.97" width="6.0" height="11.62" fill="#4ca0f4"/><rect x="127.9" y="34.50" width="6.0" height="11.62" fill="#6cc0f4"/><rect x="127.9" y="23.03" width="6.0" height="11.62" fill="#8cdcf8"/><rect x="127.9" y="11.57" width="6.0" height="11.62" fill="#b0ecfa"/><rect x="127.9" y="0.10" width="6.0" height="11.62" fill="#f0fcff"/><rect x="127.9" y="-11.37" width="6.0" height="11.62" fill="#fffff0"/><rect x="127.9" y="-22.83" width="6.0" height="11.62" fill="#fff5b0"/><rect x="127.9" y="-34.30" width="6.0" height="11.62" fill="#ffd490"/><rect x="127.9" y="-45.77" width="6.0" height="11.62" fill="#ffa060"/><rect x="127.9" y="-57.23" width="6.0" height="11.62" fill="#ff6842"/><rect x="127.9" y="-68.70" width="6.0" height="11.62" fill="#ff3a38"/><rect x="127.9" y="-80.17" width="6.0" height="11.62" fill="#fb1d2c"/><rect x="127.9" y="-91.63" width="6.0" height="11.62" fill="#d8152e"/><rect x="127.9" y="-103.10" width="6.0" height="11.62" fill="#b00f28"/><path d="M127.9 -103.0l3.0 -4.3l3.0 4.3z" fill="#ffee00"/><path d="M127.9 103.2l3.0 3.8l3.0 -3.8z" fill="#0c0880"/><path d="M127.9 -103.1v206.4M133.9 -103.1v206.4" stroke="#aaa" stroke-width="0.3" fill="none"/><text x="136.5" y="106.3" font-size="8.3" fill="#222">-1</text><text x="136.5" y="85.7" font-size="8.3" fill="#222">-0.8</text><text x="136.5" y="65.0" font-size="8.3" fill="#222">-0.6</text><text x="136.5" y="44.4" font-size="8.3" fill="#222">-0.4</text><text x="136.5" y="23.7" font-size="8.3" fill="#222">-0.2</text><text x="136.5" y="3.1" font-size="8.3" fill="#222">0</text><text x="136.5" y="-17.5" font-size="8.3" fill="#222">0.2</text><text x="136.5" y="-38.2" font-size="8.3" fill="#222">0.4</text><text x="136.5" y="-58.8" font-size="8.3" fill="#222">0.6</text><text x="136.5" y="-79.5" font-size="8.3" fill="#222">0.8</text><text x="136.5" y="-100.1" font-size="8.3" fill="#222">1</text><text transform="translate(161.2 -1.0)  rotate(-90)" font-size="8.3" text-anchor="middle" fill="#222">R</text></g>
<text class="s" x="-105" y="-88.6" font-size="14.2" fill="#111">(e)</text>
</g>
<path d="M88.70 682.20L88.70 653.80A28.4 28.4 0 0 0 63.00 694.29Z" fill="#ff0000" stroke="#222" stroke-width="0.35" stroke-linejoin="round"/><path d="M88.70 682.20L63.00 694.29A28.4 28.4 0 0 0 63.40 695.09Z" fill="#0000ff" stroke="#222" stroke-width="0.35" stroke-linejoin="round"/><path d="M88.70 682.20L63.40 695.09A28.4 28.4 0 1 0 109.40 662.76Z" fill="#ff8000" stroke="#222" stroke-width="0.35" stroke-linejoin="round"/><path d="M88.70 682.20L109.40 662.76A28.4 28.4 0 0 0 88.70 653.80Z" fill="#00ffff" stroke="#222" stroke-width="0.35" stroke-linejoin="round"/><text x="55.3" y="664.4" font-size="6.1" text-anchor="middle" fill="#111">32%</text><text x="53.0" y="702.1" font-size="6.1" text-anchor="middle" fill="#111">&lt; 1%</text><text x="113.0" y="713.5" font-size="6.1" text-anchor="middle" fill="#111">55%</text><text x="106.0" y="651.4" font-size="6.1" text-anchor="middle" fill="#111">13%</text><text x="113.0" y="651.9" font-size="6.1" text-anchor="middle" fill="#111">1%</text>
<g transform="translate(414.2 617.0)">
<use href="#land"/>
<g clip-path="url(#cp)"><g fill="none" stroke-linecap="round"><path d="M38.9 31.1h0M34.2 30.1h0M39.4 47.0h0M41.0 23.9h0M22.9 48.3h0M40.6 26.3h0M33.9 38.5h0M35.1 48.8h0M37.0 21.4h0M23.0 23.0h0M45.8 21.7h0M43.2 19.5h0M41.3 3.0h0M39.1 13.8h0M46.2 2.6h0M48.4 2.4h0M49.6 11.6h0M49.2 18.5h0M52.0 19.2h0M27.8 9.6h0M37.1 6.5h0M31.5 11.6h0M24.2 4.4h0M53.4 -12.0h0M36.5 -26.4h0M41.8 -8.7h0M49.8 -19.8h0M46.9 -7.5h0M39.7 -40.6h0M37.7 -41.6h0M43.9 -35.3h0M35.2 -35.0h0M44.5 -13.4h0M35.4 -29.4h0M51.8 -10.6h0M37.8 -16.0h0M50.6 -23.8h0M40.6 -17.7h0M40.8 -25.5h0M28.4 -20.6h0M29.4 -2.5h0M25.3 -12.4h0M35.6 -17.2h0M21.0 -21.5h0M6.9 -39.2h0M60.4 37.9h0M71.5 21.8h0M68.8 20.7h0M47.5 29.6h0M65.4 30.9h0M68.0 16.7h0M54.2 18.1h0M51.3 40.1h0M60.5 29.4h0M76.3 -41.5h0M55.4 -32.9h0M62.7 -24.9h0M56.5 -34.4h0M79.4 -32.6h0M78.4 -20.6h0M67.7 -23.9h0M57.5 -26.9h0M43.7 -31.9h0M47.1 -39.1h0M47.0 -32.5h0M80.6 -28.9h0M54.7 -32.1h0M76.9 -21.1h0M75.6 -37.7h0M50.3 -27.8h0M85.8 -30.5h0M58.8 -26.7h0M47.2 -28.2h0M66.9 -35.6h0M84.2 -29.0h0M50.0 -29.9h0M64.3 -23.4h0M50.5 -28.9h0M81.1 -29.9h0M73.9 -26.1h0M75.3 -41.8h0M70.9 -38.0h0M57.3 -35.4h0M66.8 -32.2h0M44.0 -27.0h0M77.0 -33.3h0M51.8 -30.9h0M46.8 -30.5h0M76.5 -43.1h0M50.9 -37.8h0M48.0 -29.0h0M41.9 -40.8h0M52.9 -35.9h0M66.5 -20.3h0M62.7 -32.4h0M57.1 -39.6h0M67.7 -22.4h0M87.0 -30.8h0M67.1 -27.0h0M79.4 -39.9h0M73.2 -27.1h0M58.9 -34.7h0M74.7 -38.5h0M45.3 -40.2h0M48.4 -32.8h0M69.3 -25.6h0M75.1 -43.4h0M82.6 -29.6h0M53.9 -40.5h0M52.2 -25.6h0M45.4 -32.4h0M81.3 -38.7h0M77.6 -18.7h0M85.3 -28.1h0M57.8 -28.9h0M71.7 -23.3h0M79.3 -27.9h0M78.8 -22.0h0M83.4 -21.0h0M65.7 -38.5h0M49.4 -40.6h0M80.1 -18.8h0M66.2 -34.5h0M88.8 -30.3h0M78.7 -41.5h0M44.2 -42.3h0M64.2 -27.7h0M78.5 -23.0h0M63.1 -26.8h0M78.3 -26.8h0M50.9 -39.2h0M65.8 -19.4h0M71.1 -32.9h0M61.3 -24.4h0M85.0 -33.0h0M74.3 -37.0h0M72.3 -38.1h0M81.2 -45.6h0M82.3 -37.3h0M84.1 -27.5h0M75.1 -32.4h0M45.2 -30.9h0M66.7 -33.4h0M87.3 -20.4h0M86.8 -27.2h0M68.1 -29.0h0M52.4 -33.6h0M70.8 -20.6h0M63.3 -23.8h0M46.1 -37.7h0M60.4 -24.8h0M68.0 -36.5h0M89.6 -29.6h0M54.5 -30.8h0M60.2 -29.7h0M68.5 -33.5h0M78.3 -37.5h0M71.2 -26.0h0M87.0 -25.4h0M47.9 -41.9h0M69.7 -38.1h0M60.0 -28.7h0M68.9 -20.7h0M79.2 -19.5h0M60.3 -38.3h0M77.6 -28.0h0M79.3 -44.6h0M56.4 -32.6h0M50.1 -33.9h0M76.1 -22.1h0M48.7 -34.1h0M53.4 -31.2h0M70.3 -25.2h0M42.4 -29.8h0M86.4 -28.4h0M58.0 -26.0h0M54.3 -34.9h0M90.0 -27.2h0M86.6 -43.0h0M88.7 -45.1h0M90.5 -43.9h0M90.8 -32.5h0M89.4 -6.7h0M87.9 -6.3h0M89.7 -9.2h0M85.1 -35.3h0M90.3 -22.4h0M83.3 -6.2h0M66.2 -2.8h0M64.6 -5.0h0M64.5 2.3h0M69.7 -12.2h0M90.1 -12.7h0M80.2 -3.0h0M78.5 -5.5h0M75.6 6.4h0M70.1 17.7h0M67.8 8.2h0M68.4 3.9h0M-64.2 -24.8h0M-51.8 -22.4h0M-60.1 -34.5h0M-53.3 -22.6h0M-52.0 -24.0h0M-63.7 -16.2h0M-60.2 -24.8h0M-50.0 -22.4h0M-78.1 -21.8h0M-76.0 -19.9h0M-66.3 -26.6h0M-54.7 -25.6h0M-72.9 -17.9h0M-75.5 -26.2h0M-70.6 -18.7h0M-65.5 -31.0h0M-55.4 -19.4h0M-68.1 -26.4h0M-64.2 -20.6h0M-75.2 -21.4h0M-52.8 -20.2h0M-48.8 -23.9h0M-63.6 -28.6h0M-59.3 -23.7h0M-54.4 -32.2h0M-53.7 -27.3h0M-64.4 -32.1h0M-59.4 -32.0h0M-73.4 -18.9h0M-57.6 -25.2h0M-55.9 -29.9h0M-66.8 -27.5h0M-53.7 -28.9h0M-56.8 -28.7h0M-56.7 -25.8h0M-61.5 -28.2h0M-66.4 -34.7h0M-71.2 -25.0h0M-77.1 -22.1h0M-50.9 -26.3h0M-50.2 -23.3h0M-70.0 -21.9h0M-72.2 -26.8h0M-77.1 -20.8h0M-67.7 -27.3h0M-54.1 -24.4h0M-66.5 -20.1h0M-61.9 -19.3h0M-62.1 -23.9h0M-55.7 -25.2h0M-53.8 -31.5h0M-49.0 -22.0h0M-54.9 -28.6h0M-61.2 -21.8h0M-52.6 -19.4h0M-60.9 -25.4h0M-66.4 -9.2h0M-68.7 -0.3h0M-17.4 -25.3h0M-17.0 -30.0h0M-11.3 -38.3h0M-12.3 -33.8h0" stroke="#fffff0" stroke-width="1.40"/><path d="M25.2 15.2h0M43.4 3.2h0M46.2 16.8h0M29.6 5.6h0M41.9 -27.4h0M41.9 -34.7h0M37.6 -32.7h0M33.1 -38.4h0M38.0 -39.6h0M37.5 -3.7h0M33.5 -44.2h0M51.0 24.6h0M69.0 -27.6h0M89.2 -31.4h0M84.1 -25.5h0M89.0 -23.9h0M65.0 -28.7h0M53.9 -33.2h0M44.2 -30.1h0M62.5 -33.8h0M84.6 -22.3h0M51.3 -36.1h0M79.9 -41.6h0M64.5 -26.6h0M44.5 -35.6h0M81.9 -25.5h0M49.1 -27.5h0M76.3 -39.7h0M80.4 -36.0h0M51.9 -29.1h0M78.5 -31.9h0M74.8 -25.1h0M49.6 -39.4h0M84.6 -30.8h0M67.6 -34.3h0M67.3 -30.8h0M52.6 -26.8h0M82.6 -22.2h0M45.4 -27.7h0M82.4 -38.9h0M82.1 -23.4h0M67.4 -16.8h0M61.1 -27.4h0M58.4 -33.2h0M80.4 -37.6h0M80.0 -20.7h0M69.2 -22.4h0M87.2 -35.0h0M65.3 -22.0h0M45.6 -42.5h0M85.6 -37.7h0M46.7 -41.3h0M77.9 -40.5h0M72.6 -24.6h0M75.2 -40.2h0M54.9 -28.6h0M71.6 -41.1h0M69.9 -35.8h0M54.8 -38.1h0M51.8 -34.7h0M48.4 -38.4h0M88.8 -22.6h0M71.9 -27.1h0M83.6 -34.9h0M51.1 -26.9h0M55.0 -34.2h0M65.6 -23.8h0M81.0 -32.4h0M43.2 -30.9h0M66.2 -22.7h0M73.0 -28.8h0M61.5 -25.6h0M81.0 -40.8h0M70.5 -27.1h0M84.5 -32.0h0M73.1 -23.6h0M81.0 -21.6h0M70.0 -33.8h0M84.0 -33.1h0M82.4 -32.1h0M80.5 -27.6h0M75.9 -29.6h0M81.3 -46.7h0M73.3 -42.9h0M78.2 -30.2h0M71.4 -31.8h0M71.5 -24.7h0M51.7 -32.5h0M91.0 -22.3h0M45.8 -35.6h0M59.3 -23.7h0M87.9 -28.9h0M72.6 -25.9h0M92.7 -29.0h0M98.1 -23.4h0M95.5 -29.8h0M93.4 -37.2h0M95.0 -27.4h0M93.1 -31.1h0M84.7 -44.9h0M89.7 -41.5h0M88.7 -18.6h0M90.3 -15.4h0M88.6 -29.8h0M77.2 -2.7h0M62.1 5.6h0M80.1 -9.7h0M80.8 -17.7h0M74.0 4.4h0M91.0 -18.9h0M85.6 -12.1h0M68.2 -1.9h0M84.4 1.7h0M71.8 -10.9h0M88.4 -15.4h0M79.6 15.7h0M63.4 -1.9h0M75.9 11.5h0M68.2 7.5h0M69.1 5.2h0M-73.3 -26.5h0M-65.4 -18.0h0M-76.7 -24.8h0M-69.9 -20.5h0M-48.6 -26.8h0M-65.0 -25.5h0M-57.0 -22.9h0M-63.8 -35.1h0M-50.4 -29.4h0M-63.3 -26.1h0M-65.8 -27.8h0M-68.9 -20.0h0M-72.8 -22.1h0M-67.2 -17.4h0M-58.2 -22.5h0M-60.1 -26.5h0M-64.7 -18.5h0M-71.9 -18.0h0M-75.7 -25.4h0M-58.8 -32.9h0M-57.7 -19.9h0M-62.4 -33.3h0M-66.3 -18.3h0M-75.4 -23.3h0M-51.4 -27.3h0M-49.2 -24.6h0M-76.3 -21.6h0M-58.5 -36.9h0M-23.7 -31.2h0" stroke="#f0fcff" stroke-width="1.40"/><path d="M29.8 42.8h0M28.7 35.3h0M33.8 40.2h0M20.3 42.6h0M32.3 41.5h0M37.5 38.4h0M28.1 45.9h0M27.0 51.4h0M38.6 26.3h0M24.6 36.8h0M47.1 30.0h0M39.7 33.9h0M44.1 38.7h0M42.2 25.5h0M42.7 28.1h0M23.9 39.3h0M21.8 47.1h0M31.8 37.6h0M28.9 31.3h0M31.9 33.5h0M31.9 26.9h0M27.6 47.5h0M40.0 49.9h0M32.8 35.4h0M36.6 23.4h0M45.4 45.9h0M36.1 51.1h0M34.3 23.3h0M23.9 51.0h0M27.5 40.2h0M44.2 37.1h0M38.0 30.0h0M44.1 28.8h0M39.0 48.4h0M35.0 37.6h0M26.5 23.6h0M32.7 24.3h0M19.2 33.5h0M30.4 27.0h0M24.7 25.4h0M27.9 21.2h0M40.1 9.9h0M43.4 5.8h0M43.4 24.4h0M37.9 7.9h0M38.4 15.6h0M50.8 6.9h0M41.6 20.8h0M41.6 23.6h0M50.8 10.4h0M51.4 7.1h0M55.1 7.3h0M25.9 6.7h0M34.1 9.7h0M23.9 0.0h0M32.2 15.4h0M37.8 0.2h0M32.3 4.4h0M47.4 -19.9h0M47.0 -15.8h0M38.0 -29.8h0M44.3 -10.7h0M49.8 -11.4h0M33.7 -23.9h0M53.3 -19.1h0M40.2 -15.7h0M52.4 -20.9h0M41.0 -2.1h0M43.0 -33.0h0M41.5 -6.5h0M38.3 -18.1h0M42.6 -38.2h0M50.3 -1.2h0M37.1 -35.5h0M40.0 -37.8h0M42.1 -14.3h0M40.1 -35.8h0M47.1 -4.8h0M39.6 -28.7h0M35.8 -42.3h0M44.6 -3.5h0M33.3 -11.5h0M24.5 -21.2h0M21.6 -11.7h0M19.2 -13.3h0M35.0 -0.4h0M21.5 -4.5h0M21.8 -0.0h0M40.6 -4.0h0M37.7 -6.4h0M37.8 -0.4h0M33.5 -23.6h0M11.7 -24.3h0M21.9 -27.5h0M13.6 -35.0h0M19.9 -31.7h0M15.8 -21.9h0M9.7 -30.1h0M18.0 -33.8h0M33.5 -40.1h0M26.2 -32.2h0M9.5 -38.1h0M0.2 -32.6h0M45.0 40.8h0M67.6 36.8h0M61.3 22.6h0M64.4 21.6h0M61.3 19.9h0M77.0 -32.1h0M68.3 -26.4h0M83.0 -28.5h0M82.5 -34.3h0M78.3 -39.1h0M77.0 -35.6h0M61.9 -30.5h0M58.6 -37.5h0M78.5 -34.7h0M48.9 -41.5h0M46.9 -36.1h0M79.5 -24.5h0M72.9 -32.1h0M85.6 -26.8h0M68.6 -30.9h0M85.4 -20.0h0M69.7 -24.2h0M57.3 -37.6h0M45.4 -36.9h0M77.5 -46.7h0M72.2 -18.6h0M77.3 -25.2h0M77.1 -26.7h0M67.0 -25.2h0M65.9 -25.7h0M67.7 -31.8h0M63.7 -28.7h0M69.2 -17.6h0M69.7 -19.6h0M59.3 -35.9h0M58.9 -25.0h0M75.8 -18.9h0M69.4 -36.8h0M78.2 -43.0h0M82.0 -30.7h0M83.3 -36.7h0M51.1 -43.3h0M69.3 -32.0h0M62.5 -28.4h0M77.0 -19.8h0M82.9 -33.2h0M78.0 -44.7h0M50.0 -32.3h0M54.9 -39.6h0M45.1 -38.6h0M66.4 -29.8h0M73.6 -37.7h0M79.1 -43.5h0M52.6 -41.2h0M73.8 -19.5h0M49.7 -38.2h0M80.1 -22.6h0M53.7 -41.8h0M63.8 -25.7h0M43.3 -40.7h0M44.9 -29.0h0M72.3 -21.1h0M74.7 -23.6h0M83.1 -23.9h0M79.6 -38.8h0M72.8 -39.5h0M59.9 -32.6h0M63.9 -31.8h0M72.7 -30.6h0M74.7 -35.1h0M50.7 -34.7h0M52.5 -27.9h0M84.2 -43.2h0M49.3 -42.7h0M77.5 -41.7h0M70.3 -22.2h0M56.7 -28.5h0M57.5 -33.9h0M70.8 -16.7h0M73.5 -20.5h0M94.5 -25.2h0M84.0 -43.1h0M88.1 -32.5h0M85.8 -39.9h0M90.7 -22.6h0M74.3 -9.3h0M73.5 18.1h0M88.5 6.8h0M89.4 -3.7h0M88.4 9.6h0M90.5 -15.9h0M58.1 2.8h0M68.7 -8.3h0M78.4 13.4h0M90.1 -9.8h0M84.4 7.7h0M66.8 9.1h0M71.5 6.0h0M82.0 -13.2h0M75.3 7.1h0M68.3 5.7h0M75.4 6.1h0M70.5 0.0h0M68.6 3.8h0M-72.1 -20.2h0M-66.3 -17.5h0M-66.1 -22.9h0M-62.4 -24.7h0M-59.1 -21.5h0M-58.2 -34.4h0M-70.1 -23.2h0M-68.0 -17.5h0M-56.8 -24.9h0M-54.6 -27.6h0M-52.9 -29.5h0M-71.9 -25.4h0M-56.0 -28.7h0M-62.6 -30.5h0M-66.0 -19.2h0M-63.6 -21.4h0M-73.6 -24.2h0M-62.0 -22.3h0M-58.0 -18.1h0M-47.9 -24.6h0M-58.9 -18.4h0M-62.5 -23.0h0M-76.3 -20.8h0M-55.8 -31.3h0M-60.1 -17.2h0M-58.1 -21.1h0M-57.7 -31.9h0M-70.4 -19.8h0M-48.8 -27.7h0M-74.7 -19.1h0M-67.6 -23.7h0M-63.0 -24.0h0M-60.5 -31.6h0M-70.0 -17.3h0M-55.5 -32.8h0M-49.8 -25.5h0M-54.0 -19.8h0M-74.3 -25.3h0M-68.8 -23.4h0M-55.5 -27.3h0M-56.0 -18.4h0M-60.5 -23.8h0M-76.2 -23.6h0M-69.7 -19.0h0M-64.6 -31.1h0M-71.5 -18.8h0M-59.2 -17.0h0M-68.2 -24.6h0M-63.9 -19.2h0M-67.3 -21.4h0M-75.0 -22.5h0M-77.3 -24.2h0M-59.9 -25.6h0M-57.7 -23.4h0M-68.9 -19.2h0M-64.0 -29.6h0M-74.6 -24.4h0M-62.6 -16.5h0M-63.2 -32.3h0M-52.8 -31.2h0M-65.1 -26.9h0M-58.4 -31.3h0M-70.9 -21.5h0M-50.8 -22.1h0M-64.5 -28.8h0M-65.0 -33.4h0M-80.7 0.5h0M-80.6 3.3h0M-79.6 3.1h0M-78.3 -18.9h0M-69.7 -35.9h0M-62.8 -15.3h0M-55.2 -9.2h0M-38.1 18.2h0M-14.4 -26.1h0M-17.3 -23.6h0M-18.0 -38.5h0" stroke="#fff5b0" stroke-width="1.40"/><path d="M46.9 -26.2h0M34.7 -36.9h0M48.4 -3.3h0M37.0 -43.7h0M66.9 12.9h0M53.5 -29.6h0M73.9 -43.9h0M49.4 -31.2h0M58.8 -30.4h0M61.2 -34.0h0M70.9 -35.1h0M58.3 -39.5h0M70.1 -30.6h0M81.9 -36.0h0M58.2 -31.9h0M80.2 -33.3h0M80.3 -31.0h0M68.3 -38.5h0M79.9 -26.7h0M55.2 -37.1h0M79.5 -29.9h0M84.3 -40.8h0M70.6 -28.2h0M72.5 -33.2h0M74.4 -31.6h0M81.1 -34.9h0M73.3 -35.3h0M55.4 -35.5h0M81.8 -20.2h0M42.1 -28.0h0M75.2 -26.1h0M76.6 -30.7h0M49.6 -36.1h0M86.8 -23.5h0M75.3 -27.6h0M45.7 -34.1h0M47.8 -40.1h0M50.5 -40.2h0M60.4 -34.9h0M86.3 -22.4h0M43.4 -28.0h0M76.4 -36.6h0M65.5 -30.7h0M71.9 -35.3h0M82.6 -44.6h0M47.4 -35.1h0M43.8 -37.4h0M75.3 -20.0h0M52.6 -30.1h0M70.7 -39.1h0M68.9 -35.0h0M56.1 -29.4h0M83.3 -41.7h0M75.3 -30.9h0M75.7 -24.1h0M75.7 -33.6h0M68.5 -15.9h0M75.9 -38.7h0M43.9 -39.7h0M73.9 -33.5h0M55.8 -27.5h0M87.7 -22.0h0M80.0 -25.6h0M52.0 -42.1h0M89.0 -25.4h0M88.8 -24.3h0M76.7 -12.9h0M82.8 -2.9h0M80.5 2.8h0M88.7 3.1h0M76.3 8.2h0M75.2 11.7h0M75.6 9.2h0M-61.2 -16.8h0M-59.9 -18.3h0M-61.3 -29.4h0M-71.3 -23.5h0M-54.8 -20.4h0M-67.9 -20.6h0M-69.3 -26.0h0M-62.3 -29.2h0M-48.0 -25.9h0M-60.8 -27.2h0M-74.2 -26.4h0M-74.7 12.0h0M-59.5 -13.2h0M-13.2 -36.5h0" stroke="#b0ecfa" stroke-width="1.40"/><path d="M35.5 22.1h0M42.8 37.9h0M24.4 43.9h0M34.6 44.5h0M47.0 33.9h0M23.6 41.6h0M29.0 39.1h0M19.2 38.5h0M30.9 40.3h0M28.4 43.0h0M26.4 39.2h0M33.1 31.4h0M52.2 32.3h0M39.0 35.2h0M34.0 34.5h0M45.8 37.3h0M36.2 44.2h0M28.4 37.6h0M27.4 31.7h0M31.7 45.7h0M26.5 43.6h0M40.4 35.6h0M35.5 33.5h0M20.4 45.6h0M31.1 31.3h0M40.8 32.2h0M24.5 33.8h0M18.3 43.9h0M41.8 30.7h0M41.3 29.2h0M17.7 45.3h0M38.7 28.8h0M29.8 44.7h0M40.3 30.7h0M26.2 32.9h0M36.6 26.6h0M38.9 23.8h0M42.8 36.5h0M35.2 31.2h0M36.3 32.3h0M19.0 40.0h0M23.1 34.4h0M40.1 28.4h0M32.3 30.2h0M25.5 40.3h0M18.0 42.4h0M43.5 26.5h0M37.7 24.7h0M31.1 42.3h0M31.3 35.3h0M27.2 36.8h0M45.1 41.9h0M41.4 27.6h0M21.9 35.5h0M24.0 49.6h0M34.2 32.8h0M23.1 44.5h0M25.6 44.7h0M19.7 44.3h0M20.5 39.4h0M23.6 37.9h0M22.5 39.3h0M35.7 47.5h0M29.2 24.2h0M18.3 31.5h0M23.4 27.3h0M33.9 21.6h0M27.1 16.4h0M16.0 28.2h0M28.0 26.7h0M31.0 21.1h0M15.3 24.5h0M19.7 24.6h0M21.5 32.6h0M29.2 17.1h0M26.7 18.9h0M18.5 28.8h0M14.5 26.5h0M44.9 0.8h0M41.9 14.7h0M41.3 11.3h0M47.4 0.6h0M49.5 0.3h0M36.6 12.1h0M46.0 19.9h0M40.5 16.0h0M36.4 18.6h0M46.1 9.9h0M49.3 13.5h0M48.3 10.2h0M47.8 17.7h0M38.0 10.4h0M48.6 6.7h0M49.7 8.5h0M43.2 12.8h0M47.8 12.4h0M43.1 22.3h0M42.3 9.3h0M39.7 12.0h0M43.1 7.6h0M43.9 10.8h0M50.4 2.0h0M42.0 17.6h0M44.8 7.1h0M38.7 22.3h0M50.8 15.9h0M53.9 4.5h0M51.5 23.3h0M55.0 2.1h0M53.2 11.5h0M51.7 0.6h0M24.8 13.9h0M34.7 2.9h0M28.5 0.3h0M31.9 7.9h0M34.3 12.8h0M28.5 12.6h0M36.9 9.5h0M39.6 -23.9h0M33.5 -29.1h0M42.3 -10.6h0M45.5 -1.8h0M32.4 -26.8h0M36.7 -21.4h0M51.3 -7.9h0M40.5 -12.7h0M30.9 -32.7h0M35.4 -39.2h0M52.1 -3.8h0M46.2 -9.8h0M44.8 -25.5h0M45.9 -17.4h0M46.0 -21.4h0M28.3 -30.2h0M53.1 -1.9h0M44.1 -15.4h0M44.0 -5.3h0M49.9 -9.4h0M44.6 -8.7h0M39.6 -20.0h0M53.7 -0.1h0M48.4 -14.3h0M34.5 -26.5h0M40.0 -10.0h0M47.9 -11.4h0M26.7 -31.4h0M53.1 -15.4h0M38.5 -22.4h0M37.9 -27.8h0M31.1 -9.4h0M23.4 -2.5h0M33.0 -3.3h0M28.3 -11.3h0M27.2 -18.2h0M26.8 -30.4h0M21.8 -15.2h0M40.7 -0.8h0M31.2 -26.5h0M22.4 -7.4h0M24.4 -17.4h0M23.9 -23.9h0M36.2 -11.2h0M33.0 -14.2h0M26.8 -4.9h0M39.1 -10.4h0M34.9 -6.1h0M35.6 -14.0h0M22.4 -26.3h0M13.8 -26.8h0M2.8 -34.7h0M14.6 -30.4h0M10.5 -35.1h0M17.7 -26.0h0M16.9 -28.9h0M23.4 -31.3h0M20.5 -24.5h0M3.2 -27.6h0M20.3 -48.1h0M70.8 25.4h0M58.8 25.7h0M53.7 47.9h0M59.6 6.5h0M69.7 34.4h0M62.6 31.1h0M68.5 31.8h0M55.6 10.8h0M57.5 30.9h0M41.8 37.2h0M61.4 -32.6h0M50.9 -31.6h0M56.2 -30.8h0M52.7 -39.1h0M80.8 -42.1h0M74.2 -40.8h0M82.0 -27.0h0M72.5 -36.5h0M76.8 -34.3h0M66.1 -27.8h0M79.7 -34.6h0M73.3 -41.9h0M48.3 -36.0h0M76.7 -44.6h0M76.7 -28.7h0M67.5 -18.7h0M71.5 -29.2h0M66.8 -37.9h0M63.5 -30.6h0M60.5 -31.4h0M82.2 -40.0h0M46.4 -26.9h0M78.5 -29.1h0M90.2 -18.9h0M90.3 -17.5h0M66.4 5.3h0M88.2 -20.2h0M78.3 -17.6h0M80.2 9.3h0M68.6 7.5h0M83.0 -10.0h0M85.4 -9.1h0M91.7 -0.4h0M75.5 10.5h0M73.3 17.3h0M69.7 1.0h0M-57.1 -18.2h0M-64.5 -27.6h0M-51.9 -20.0h0M-56.9 -29.9h0M-55.6 -20.9h0M-49.9 -21.1h0M-64.9 -17.3h0M-71.5 -22.1h0M-49.8 -28.0h0M-49.1 -28.6h0M-50.2 -24.6h0M-53.6 -25.9h0M-60.5 -30.6h0M-60.0 -20.2h0M-50.8 -25.4h0M-61.8 -31.0h0M-60.5 -29.1h0M-68.9 -16.9h0M-65.8 -33.9h0M-69.1 -25.0h0M-61.4 -34.4h0M-51.6 -25.1h0M-59.5 -30.9h0M-66.6 -21.0h0M-65.7 -21.4h0M-55.0 -24.7h0M-65.0 -29.8h0M-56.9 -20.4h0M-53.0 -24.8h0M-59.1 -26.1h0M-68.3 -18.6h0M-55.4 -22.8h0M-56.5 -33.3h0M-61.0 -20.4h0M-52.1 -29.1h0M-53.0 -27.8h0M-52.1 -21.0h0M-67.9 -25.5h0M-73.1 -25.0h0M-58.7 -30.4h0M-59.2 -35.4h0M-54.6 -23.5h0M-56.5 -22.2h0M-54.4 -19.0h0M-59.5 -22.4h0M-56.7 -30.8h0M-72.0 -23.0h0M-67.9 -22.9h0M-58.9 -24.4h0M-74.5 -23.4h0M-60.0 -33.7h0M-67.5 -19.7h0M-63.7 -17.2h0M-55.7 -21.9h0M-69.1 -18.2h0M-63.2 -15.5h0M-48.4 -22.7h0M-73.2 -22.8h0M-62.6 -28.3h0M-58.2 -25.9h0M-77.9 -22.6h0M-52.9 -28.7h0M-63.9 -31.4h0M-67.0 -26.3h0M-72.8 -25.9h0M-58.6 24.0h0M-56.7 23.8h0M-73.9 12.9h0M-57.1 7.4h0M-63.2 5.9h0M-68.3 -7.3h0M-67.9 -2.6h0M-57.2 11.4h0M-66.2 0.4h0M-71.2 7.8h0M-68.1 7.1h0M-77.2 -25.4h0M-76.6 -33.9h0M-48.1 12.4h0M-50.4 18.2h0M-31.6 -15.8h0M-19.0 -29.0h0M-15.6 -23.5h0M-10.3 -28.8h0M-13.0 -31.6h0M-16.9 -34.1h0M-9.4 -31.9h0" stroke="#ffd490" stroke-width="1.40"/><path d="M57.5 34.3h0M74.8 -17.9h0M54.0 -36.1h0M77.0 -29.7h0M73.9 -29.7h0M48.0 -30.2h0M85.6 -24.2h0M72.5 -22.2h0M65.1 -32.8h0M85.9 -21.1h0M48.1 -31.6h0M64.5 -24.5h0M50.2 -25.3h0M46.5 -29.2h0M89.0 -37.1h0M71.4 -0.2h0M-54.0 -21.0h0M-77.4 -23.4h0M-65.7 -16.7h0" stroke="#8cdcf8" stroke-width="1.40"/><path d="M48.8 32.1h0M25.8 37.4h0M43.3 41.5h0M30.6 36.7h0M25.1 35.4h0M29.5 29.5h0M34.1 50.0h0M27.8 41.6h0M35.2 27.8h0M27.1 35.0h0M30.5 33.8h0M34.9 36.1h0M45.5 32.9h0M24.7 46.4h0M37.4 33.8h0M22.7 45.9h0M44.3 35.5h0M21.9 40.6h0M26.8 49.1h0M32.4 28.5h0M32.0 39.0h0M38.0 32.4h0M36.0 38.6h0M30.5 38.4h0M25.5 51.9h0M31.0 28.7h0M25.8 41.8h0M24.0 52.7h0M35.2 25.1h0M22.4 36.9h0M21.5 38.3h0M21.1 44.3h0M43.5 31.2h0M23.4 35.8h0M39.7 25.0h0M29.3 50.7h0M35.6 20.6h0M44.1 33.6h0M20.3 37.2h0M41.4 50.1h0M52.0 34.3h0M17.7 38.9h0M30.3 48.0h0M44.9 25.9h0M35.3 29.2h0M24.1 18.7h0M26.1 29.2h0M29.3 19.4h0M20.7 29.4h0M25.5 20.8h0M23.9 32.4h0M17.7 25.4h0M22.0 25.0h0M40.0 6.9h0M35.2 15.1h0M40.8 0.5h0M47.0 4.9h0M45.1 5.0h0M38.6 20.5h0M41.3 4.9h0M40.1 19.3h0M45.2 12.5h0M34.3 17.8h0M44.4 17.9h0M38.6 3.4h0M45.0 14.4h0M36.0 16.7h0M44.3 8.9h0M45.1 24.0h0M38.7 5.5h0M37.1 14.3h0M38.9 17.4h0M43.7 16.2h0M36.5 20.8h0M39.5 1.8h0M48.4 23.8h0M37.7 3.6h0M34.9 0.1h0M38.9 -25.9h0M47.4 -23.6h0M34.2 -31.0h0M50.0 -5.0h0M41.9 -20.9h0M41.8 -30.9h0M30.7 -30.7h0M49.2 -22.4h0M54.7 -7.3h0M55.7 -0.1h0M42.1 -24.1h0M52.5 -6.2h0M47.4 -0.4h0M43.9 -0.2h0M43.2 -19.4h0M26.7 -23.9h0M28.7 -6.9h0M27.9 -15.2h0M21.7 -18.9h0M24.3 -9.3h0M30.4 -18.7h0M31.6 -0.1h0M20.3 -24.0h0M30.3 -13.3h0M29.4 -24.4h0M18.3 -21.6h0M35.9 -19.9h0M24.1 -5.5h0M5.7 -35.8h0M-2.7 -32.7h0M13.1 -39.4h0M15.4 -18.8h0M58.7 11.7h0M53.6 36.4h0M64.3 15.0h0M84.8 -36.9h0M43.4 -29.1h0M86.3 -36.6h0M88.7 -1.7h0M68.8 -5.5h0M75.8 -6.3h0M71.3 -4.3h0M75.5 5.4h0M68.4 9.7h0M75.5 8.1h0M75.1 15.1h0M-58.1 -24.6h0M-54.6 -30.5h0M-54.4 -26.6h0M-53.1 -21.3h0M-53.6 -30.7h0M-69.2 -27.0h0M-75.5 -24.2h0M-63.9 -18.2h0M-63.4 -22.8h0M-61.1 -19.3h0M-64.8 -15.8h0M-52.8 -26.8h0M-66.5 -25.2h0M-56.6 -19.3h0M-64.8 -22.4h0M-57.4 -33.6h0M-60.1 -21.6h0M-63.1 -27.5h0M-65.1 -20.9h0M-62.7 -19.4h0M-48.9 -25.6h0M-58.8 -33.8h0M-59.6 -27.9h0M-61.9 -27.0h0M-70.3 -25.1h0M-51.6 -29.9h0M-51.1 -20.9h0M-65.8 -23.7h0M-71.2 -19.8h0M-54.6 -29.4h0M-58.1 -26.9h0M-75.1 -19.9h0M-63.0 -29.7h0M-49.8 -26.6h0M-52.2 -30.6h0M-62.7 -26.7h0M-57.7 -17.3h0M-65.7 -32.6h0M-52.6 -22.0h0M-70.1 -26.4h0M-68.5 -21.1h0M-56.9 -21.5h0M-58.5 -32.1h0M-73.7 -21.6h0M-63.6 -33.6h0M-54.9 -18.2h0M-64.5 -23.2h0M-77.2 -24.2h0M-78.6 5.1h0M-58.9 23.5h0M-64.9 19.4h0M-68.5 16.9h0M-56.4 24.6h0M-58.6 -2.0h0M-62.8 -5.5h0M-61.9 11.5h0M-66.1 13.4h0M-71.7 -0.8h0M-72.2 -34.0h0M-72.0 -14.4h0M-68.6 -16.0h0M-47.4 -23.5h0M-52.5 6.3h0M-52.1 -18.2h0M-38.9 -28.8h0M-50.8 -0.8h0M-50.8 4.5h0M-48.9 -29.9h0M-46.5 25.7h0M-29.3 -22.9h0M-34.3 -10.2h0M-39.3 -21.6h0M-33.6 -21.0h0M-11.7 -24.8h0M-18.7 -33.9h0M-19.6 -25.1h0M-19.6 -32.6h0" stroke="#ffa060" stroke-width="1.40"/><path d="M54.3 14.4h0M57.4 -31.1h0M71.0 -18.3h0M74.7 -21.0h0M89.5 -9.6h0M90.7 -1.4h0M74.2 -16.6h0M-53.2 -23.4h0M-72.1 -24.4h0M-53.9 -28.1h0" stroke="#6cc0f4" stroke-width="1.40"/><path d="M44.7 27.4h0M37.4 28.2h0M36.2 41.0h0M42.9 48.7h0M22.4 52.9h0M28.0 33.4h0M44.1 40.1h0M46.7 35.8h0M30.0 32.4h0M23.8 30.1h0M49.8 4.2h0M46.2 -12.3h0M33.3 -33.7h0M49.3 -16.1h0M41.9 -0.4h0M35.5 -32.6h0M43.9 -22.2h0M33.4 -20.7h0M40.4 -6.8h0M37.8 -15.7h0M31.2 -22.5h0M24.6 -27.8h0M21.6 -34.3h0M1.1 -29.7h0M15.9 -41.8h0M1.9 -37.4h0M67.8 25.9h0M68.9 29.1h0M58.5 14.6h0M60.9 3.0h0M74.5 14.0h0M-72.3 -19.2h0M-62.8 -31.4h0M-68.9 -21.9h0M-52.1 -26.0h0M-74.0 -22.3h0M-72.3 -21.1h0M-61.4 -23.5h0M-64.2 -33.1h0M-69.7 -24.3h0M-67.0 -24.3h0M-53.9 -21.8h0M-52.1 -28.0h0M-65.5 -20.1h0M-65.5 -28.6h0M-75.5 -20.6h0M-62.2 -20.2h0M-65.4 -35.1h0M-57.7 -32.7h0M-62.5 20.2h0M-63.8 0.4h0M-54.3 -35.5h0M-48.7 -7.1h0M-45.2 19.8h0M-43.7 14.7h0M-32.7 -25.8h0M-33.9 -6.2h0M-22.8 -29.0h0M-14.3 -34.9h0" stroke="#ffa060" stroke-width="2.16"/><path d="M36.7 35.4h0M38.5 36.6h0M46.1 26.7h0M33.6 27.4h0M40.0 41.1h0M40.6 46.0h0M25.3 50.2h0M31.7 47.6h0M29.4 52.3h0M20.1 40.9h0M45.1 30.6h0M40.7 48.7h0M28.7 49.2h0M51.5 30.2h0M49.3 34.9h0M29.7 53.9h0M21.7 49.0h0M37.2 45.4h0M37.9 40.7h0M21.9 43.0h0M42.9 44.8h0M37.9 22.8h0M36.6 37.1h0M39.3 42.5h0M43.2 29.8h0M33.3 24.7h0M32.7 49.2h0M30.1 49.4h0M47.7 28.0h0M42.1 47.5h0M35.5 52.5h0M27.8 44.4h0M41.1 40.1h0M49.6 30.9h0M28.9 40.7h0M42.5 39.5h0M26.7 52.8h0M42.1 46.1h0M28.2 30.0h0M36.9 39.8h0M35.1 39.6h0M50.4 29.2h0M26.3 31.4h0M28.5 29.0h0M46.6 7.3h0M47.6 15.2h0M40.5 22.2h0M42.6 0.9h0M34.8 19.9h0M46.7 26.4h0M45.7 23.4h0M23.0 7.8h0M28.8 15.5h0M32.6 18.3h0M32.2 1.2h0M26.6 2.5h0M28.8 -32.4h0M40.2 -33.9h0M45.3 -23.5h0M48.4 -6.2h0M51.1 -14.7h0M54.1 -5.0h0M42.8 -17.1h0M36.9 -23.7h0M51.0 -17.7h0M49.0 -18.0h0M45.0 -19.6h0M42.6 -3.7h0M31.4 -28.8h0M36.9 -37.3h0M51.2 -12.7h0M50.0 -26.1h0M34.8 -22.2h0M38.8 -13.7h0M35.9 -8.6h0M18.7 -19.0h0M31.8 -6.3h0M30.5 -16.0h0M6.7 -31.5h0M16.3 -45.3h0M3.4 -31.6h0M19.2 -45.5h0M18.8 -36.6h0M18.6 -22.4h0M51.4 30.9h0M57.8 17.3h0M48.6 34.9h0M63.9 35.5h0M64.9 24.4h0M65.5 27.9h0M56.2 2.2h0M55.7 5.0h0M90.7 -25.7h0M90.7 -21.8h0M89.5 -24.2h0M86.2 -31.3h0M88.4 -7.6h0M84.9 -38.6h0M86.6 -5.8h0M63.2 7.5h0M-57.1 -27.3h0M-58.3 -19.1h0M-60.8 -18.0h0M-61.5 -21.0h0M-64.9 -19.6h0M-57.7 -29.7h0M-59.4 -19.5h0M-61.2 -26.4h0M-60.2 -32.4h0M-58.8 -20.5h0M-60.4 -22.7h0M-64.3 -26.7h0M-65.8 -29.6h0M-58.0 -28.1h0M-59.5 -29.0h0M-67.0 -16.6h0M-65.6 -24.7h0M-72.9 -23.7h0M-75.9 -22.4h0M-71.4 -20.7h0M-62.3 -35.3h0M-54.9 -22.2h0M-62.9 -21.3h0M-61.7 -25.6h0M-53.4 -19.1h0M-71.3 -26.3h0M-50.5 -27.4h0M-60.6 -28.1h0M-70.9 -17.4h0M-51.5 -23.4h0M-70.9 -22.8h0M-61.1 -24.4h0M-63.9 -23.8h0M-58.9 -27.5h0M-73.8 -19.7h0M-73.7 -18.1h0M-54.1 -22.8h0M-81.1 -2.2h0M-79.1 -19.0h0M-80.7 -15.4h0M-70.3 16.4h0M-65.8 18.6h0M-65.4 -5.3h0M-58.8 7.9h0M-59.6 -4.2h0M-61.6 4.7h0M-69.6 12.3h0M-62.6 2.1h0M-80.1 -24.0h0M-69.4 -32.4h0M-64.2 -11.6h0M-48.8 -10.3h0M-48.6 -3.9h0M-41.2 -30.9h0M-51.4 -5.0h0M-52.8 -15.5h0M-43.8 23.7h0M-47.1 -14.5h0M-47.9 19.8h0M-44.9 -27.6h0M-27.5 -30.4h0M-41.5 21.2h0M-36.1 -4.6h0M-34.7 -29.3h0M-37.7 -17.5h0M-26.6 -25.4h0M-34.3 -1.3h0M-15.4 -27.4h0M-19.9 -27.4h0M-14.8 -30.8h0M-13.1 -23.7h0M-21.3 -32.2h0M-16.2 -38.4h0M-15.0 -29.2h0M-20.7 -28.8h0" stroke="#ff6842" stroke-width="2.16"/><path d="M41.9 34.8h0M49.0 29.1h0M35.3 42.1h0M42.6 32.3h0M35.3 46.1h0M53.5 33.9h0M41.3 43.4h0M41.4 38.6h0M44.7 43.7h0M51.6 35.8h0M53.7 36.3h0M42.8 43.0h0M33.3 37.1h0M46.3 44.5h0M37.5 42.7h0M38.8 45.5h0M50.4 32.1h0M48.2 35.8h0M32.7 50.7h0M41.4 44.8h0M34.1 26.0h0M33.9 41.6h0M27.8 50.2h0M32.7 19.2h0M38.5 0.3h0M39.7 -30.9h0M36.9 -19.4h0M28.9 -28.0h0M27.4 -0.5h0M6.5 -27.4h0M12.2 -32.2h0M11.1 -27.6h0M36.6 -48.1h0M54.1 21.3h0M63.9 18.4h0M89.5 -15.9h0M89.3 -16.6h0M91.3 -20.7h0M82.0 -40.7h0M89.8 -26.4h0M84.7 -39.5h0M-51.0 -28.1h0M-61.7 -32.4h0M-62.2 -34.1h0M-61.9 -16.0h0M-63.0 -18.2h0M-73.6 -20.7h0M-56.0 -23.9h0M-65.8 -25.6h0M-60.6 -33.2h0M-63.2 -20.1h0M-74.5 -20.6h0M-57.2 -26.5h0M-61.4 -30.2h0M-56.5 -32.0h0M-63.1 -34.4h0M-59.0 -25.3h0M-56.3 -27.7h0M-70.7 -24.2h0M-79.5 0.6h0M-80.7 -0.2h0M-82.7 -12.2h0M-71.2 13.1h0M-64.1 19.2h0M-70.9 -4.8h0M-66.6 -1.3h0M-66.5 8.0h0M-71.9 1.4h0M-69.1 5.1h0M-66.5 6.1h0M-64.4 -9.0h0M-58.1 5.1h0M-71.4 10.3h0M-64.3 -2.7h0M-64.5 -36.4h0M-60.7 -39.7h0M-66.9 -12.8h0M-57.6 -8.8h0M-69.3 -10.4h0M-44.8 17.5h0M-46.5 14.4h0M-49.5 -18.5h0M-51.0 11.0h0M-50.4 -12.2h0M-45.4 -20.2h0M-54.0 -5.2h0M-53.6 2.2h0M-46.1 -30.7h0M-56.6 -2.7h0M-32.7 -17.3h0M-41.5 -11.0h0M-45.8 -9.8h0M-43.5 -6.0h0M-37.1 -12.1h0M-25.3 -20.1h0M-25.8 -1.8h0M-29.0 11.6h0M-30.3 -3.6h0M-16.5 -36.2h0M-12.7 -29.9h0M-15.4 -33.4h0M-18.0 -31.7h0M-17.8 -40.1h0M-10.5 -35.9h0" stroke="#ff3a38" stroke-width="2.16"/><path d="M79.4 -12.1h0" stroke="#3a78f4" stroke-width="2.16"/><path d="M38.8 38.9h0M51.1 33.3h0M34.1 47.5h0M43.7 46.8h0M28.1 53.1h0M52.3 37.6h0M36.3 30.2h0M41.0 37.0h0M25.4 47.8h0M33.4 42.9h0M22.4 51.1h0M31.2 50.6h0M49.0 33.5h0M45.6 34.4h0M51.0 40.0h0M26.2 46.1h0M33.8 46.1h0M47.1 32.3h0M39.8 37.8h0M50.0 36.2h0M54.9 34.8h0M44.6 36.8h0M64.2 38.3h0M84.2 -40.6h0M88.6 -25.1h0M89.9 -17.8h0M87.1 -2.2h0M85.9 -34.4h0M66.3 26.4h0M67.8 27.8h0M68.9 25.5h0M69.3 25.1h0M69.2 25.0h0M-49.3 -22.8h0M-64.9 -34.2h0M-64.3 -25.8h0M-68.4 16.1h0M-70.7 14.6h0M-60.8 -6.1h0M-58.9 -7.2h0M-62.6 -3.0h0M-62.5 -1.3h0M-65.2 10.7h0M-69.0 -9.2h0M-65.5 -7.2h0M-57.4 -5.9h0M-53.4 13.4h0M-47.1 -1.6h0M-40.2 -7.9h0M-26.5 -9.7h0M-25.5 6.9h0M-22.3 -17.1h0M-8.7 -27.2h0M-18.2 -36.1h0M-20.2 -30.8h0M-13.8 -39.7h0" stroke="#fb1d2c" stroke-width="2.16"/><path d="M39.2 44.1h0M32.2 43.8h0M41.7 41.4h0M45.9 29.1h0M51.1 38.5h0M57.6 23.4h0M62.7 41.0h0M91.0 -17.8h0M67.5 24.8h0M67.9 27.3h0M66.3 28.1h0M-67.1 -22.3h0M-61.9 -17.8h0M-58.5 -29.1h0M-67.4 -18.7h0M-57.9 -30.6h0M-79.5 5.5h0M-79.7 -0.5h0M-79.2 7.7h0M-82.2 -18.4h0M-68.6 15.5h0M-66.5 18.5h0M-64.8 1.9h0M-60.6 8.2h0M-69.6 10.2h0M-38.7 11.4h0M-30.9 -28.6h0M-41.6 10.5h0M-11.1 -27.1h0M-17.4 -28.4h0M-21.6 -27.2h0" stroke="#d8152e" stroke-width="2.16"/><path d="M29.4 46.7h0M87.5 -32.9h0M89.9 -24.3h0M89.0 -12.5h0M88.6 -20.6h0M90.8 -7.7h0M89.6 -23.5h0M90.1 -19.4h0M89.3 -29.4h0M-55.8 -26.4h0M-77.8 -20.2h0M-76.8 -20.8h0M-78.6 8.3h0M-72.1 5.7h0M-61.6 -8.6h0M-11.0 -31.5h0M-14.3 -38.0h0" stroke="#b00f28" stroke-width="2.16"/></g></g>
<g><g fill="none" stroke="#b4b4b4" stroke-width="0.36"><circle r="88.5"/><circle r="41.1"/><path d="M0 0L0.0 107.2"/><path d="M0 0L53.6 92.8"/><path d="M0 0L92.8 53.6"/><path d="M0 0L107.2 0.0"/><path d="M0 0L92.8 -53.6"/><path d="M0 0L53.6 -92.8"/><path d="M0 0L0.0 -107.2"/><path d="M0 0L-53.6 -92.8"/><path d="M0 0L-92.8 -53.6"/><path d="M0 0L-107.2 -0.0"/><path d="M0 0L-92.8 53.6"/><path d="M0 0L-53.6 92.8"/></g><g fill="none" stroke="#707070" stroke-width="0.4" clip-path="url(#lc)"><circle r="88.5"/><circle r="41.1"/><path d="M0 0L0.0 107.2"/><path d="M0 0L53.6 92.8"/><path d="M0 0L92.8 53.6"/><path d="M0 0L107.2 0.0"/><path d="M0 0L92.8 -53.6"/><path d="M0 0L53.6 -92.8"/><path d="M0 0L0.0 -107.2"/><path d="M0 0L-53.6 -92.8"/><path d="M0 0L-92.8 -53.6"/><path d="M0 0L-107.2 -0.0"/><path d="M0 0L-92.8 53.6"/><path d="M0 0L-53.6 92.8"/></g><g stroke="#222" stroke-width="0.6"><path d="M0.0 106.2L0.0 109.1"/><path d="M53.1 92.0L54.5 94.5"/><path d="M92.0 53.1L94.5 54.6"/><path d="M106.2 0.0L109.1 0.0"/><path d="M92.0 -53.1L94.5 -54.5"/><path d="M53.1 -92.0L54.5 -94.5"/><path d="M0.0 -106.2L0.0 -109.1"/><path d="M-53.1 -92.0L-54.6 -94.5"/><path d="M-92.0 -53.1L-94.5 -54.6"/><path d="M-106.2 -0.0L-109.1 -0.0"/><path d="M-92.0 53.1L-94.5 54.6"/><path d="M-53.1 92.0L-54.6 94.5"/></g><circle r="107.2" fill="none" stroke="#111" stroke-width="1.0"/><circle r="2.3" fill="#000"/><text transform="translate(0.0 -114.8) rotate(0)" font-size="9.6" text-anchor="middle" x="0.0" y="3.4" fill="#111">180<tspan font-size="7" dy="-4">o</tspan><tspan dy="4">W</tspan></text><text transform="translate(-57.4 -99.4) rotate(-30)" font-size="9.6" text-anchor="middle" x="0.0" y="3.4" fill="#111">150<tspan font-size="7" dy="-4">o</tspan><tspan dy="4">W</tspan></text><text transform="translate(-99.4 -57.4) rotate(-60)" font-size="9.6" text-anchor="middle" x="0.0" y="3.4" fill="#111">120<tspan font-size="7" dy="-4">o</tspan><tspan dy="4">W</tspan></text><text transform="translate(-118.0 0.0) rotate(90)" font-size="9.6" text-anchor="middle" x="1.7" y="3.4" fill="#111">90<tspan font-size="7" dy="-4">o</tspan><tspan dy="4">W</tspan></text><text transform="translate(-102.2 59.0) rotate(60)" font-size="9.6" text-anchor="middle" x="1.7" y="3.4" fill="#111">60<tspan font-size="7" dy="-4">o</tspan><tspan dy="4">W</tspan></text><text transform="translate(-59.0 102.2) rotate(30)" font-size="9.6" text-anchor="middle" x="1.7" y="3.4" fill="#111">30<tspan font-size="7" dy="-4">o</tspan><tspan dy="4">W</tspan></text><text transform="translate(0.0 118.0) rotate(0)" font-size="9.6" text-anchor="middle" x="0.0" y="3.4" fill="#111">0<tspan font-size="7" dy="-4">o</tspan><tspan dy="4"></tspan></text><text transform="translate(59.0 102.2) rotate(-30)" font-size="9.6" text-anchor="middle" x="1.7" y="3.4" fill="#111">30<tspan font-size="7" dy="-4">o</tspan><tspan dy="4">E</tspan></text><text transform="translate(102.2 59.0) rotate(-60)" font-size="9.6" text-anchor="middle" x="1.7" y="3.4" fill="#111">60<tspan font-size="7" dy="-4">o</tspan><tspan dy="4">E</tspan></text><text transform="translate(118.0 0.0) rotate(-90)" font-size="9.6" text-anchor="middle" x="1.7" y="3.4" fill="#111">90<tspan font-size="7" dy="-4">o</tspan><tspan dy="4">E</tspan></text><text transform="translate(99.4 -57.4) rotate(60)" font-size="9.6" text-anchor="middle" x="0.0" y="3.4" fill="#111">120<tspan font-size="7" dy="-4">o</tspan><tspan dy="4">E</tspan></text><text transform="translate(57.4 -99.4) rotate(30)" font-size="9.6" text-anchor="middle" x="0.0" y="3.4" fill="#111">150<tspan font-size="7" dy="-4">o</tspan><tspan dy="4">E</tspan></text><path d="M-6.5 -87.3h4" stroke="#222" stroke-width="0.7"/><text x="5" y="-83.9" font-size="9.6" fill="#111">30<tspan font-size="7" dy="-4">o</tspan><tspan dy="4">N</tspan></text><path d="M-6.5 -39.9h4" stroke="#222" stroke-width="0.7"/><text x="5" y="-36.5" font-size="9.6" fill="#111">60<tspan font-size="7" dy="-4">o</tspan><tspan dy="4">N</tspan></text><rect x="127.9" y="91.83" width="6.0" height="11.62" fill="#2008d0"/><rect x="127.9" y="80.37" width="6.0" height="11.62" fill="#1a14f0"/><rect x="127.9" y="68.90" width="6.0" height="11.62" fill="#2a48f4"/><rect x="127.9" y="57.43" width="6.0" height="11.62" fill="#3a78f4"/><rect x="127.9" y="45.97" width="6.0" height="11.62" fill="#4ca0f4"/><rect x="127.9" y="34.50" width="6.0" height="11.62" fill="#6cc0f4"/><rect x="127.9" y="23.03" width="6.0" height="11.62" fill="#8cdcf8"/><rect x="127.9" y="11.57" width="6.0" height="11.62" fill="#b0ecfa"/><rect x="127.9" y="0.10" width="6.0" height="11.62" fill="#f0fcff"/><rect x="127.9" y="-11.37" width="6.0" height="11.62" fill="#fffff0"/><rect x="127.9" y="-22.83" width="6.0" height="11.62" fill="#fff5b0"/><rect x="127.9" y="-34.30" width="6.0" height="11.62" fill="#ffd490"/><rect x="127.9" y="-45.77" width="6.0" height="11.62" fill="#ffa060"/><rect x="127.9" y="-57.23" width="6.0" height="11.62" fill="#ff6842"/><rect x="127.9" y="-68.70" width="6.0" height="11.62" fill="#ff3a38"/><rect x="127.9" y="-80.17" width="6.0" height="11.62" fill="#fb1d2c"/><rect x="127.9" y="-91.63" width="6.0" height="11.62" fill="#d8152e"/><rect x="127.9" y="-103.10" width="6.0" height="11.62" fill="#b00f28"/><path d="M127.9 -103.0l3.0 -4.3l3.0 4.3z" fill="#ffee00"/><path d="M127.9 103.2l3.0 3.8l3.0 -3.8z" fill="#0c0880"/><path d="M127.9 -103.1v206.4M133.9 -103.1v206.4" stroke="#aaa" stroke-width="0.3" fill="none"/><text x="136.5" y="106.3" font-size="8.3" fill="#222">-1</text><text x="136.5" y="85.7" font-size="8.3" fill="#222">-0.8</text><text x="136.5" y="65.0" font-size="8.3" fill="#222">-0.6</text><text x="136.5" y="44.4" font-size="8.3" fill="#222">-0.4</text><text x="136.5" y="23.7" font-size="8.3" fill="#222">-0.2</text><text x="136.5" y="3.1" font-size="8.3" fill="#222">0</text><text x="136.5" y="-17.5" font-size="8.3" fill="#222">0.2</text><text x="136.5" y="-38.2" font-size="8.3" fill="#222">0.4</text><text x="136.5" y="-58.8" font-size="8.3" fill="#222">0.6</text><text x="136.5" y="-79.5" font-size="8.3" fill="#222">0.8</text><text x="136.5" y="-100.1" font-size="8.3" fill="#222">1</text><text transform="translate(161.2 -1.0)  rotate(-90)" font-size="8.3" text-anchor="middle" fill="#222">R</text></g>
<text class="s" x="-105" y="-88.6" font-size="14.2" fill="#111">(f)</text>
</g>
<path d="M378.90 682.20L378.90 653.80A28.4 28.4 0 0 0 353.20 694.29Z" fill="#ff0000" stroke="#222" stroke-width="0.35" stroke-linejoin="round"/><path d="M378.90 682.20L353.20 694.29A28.4 28.4 0 0 0 353.60 695.09Z" fill="#0000ff" stroke="#222" stroke-width="0.35" stroke-linejoin="round"/><path d="M378.90 682.20L353.60 695.09A28.4 28.4 0 1 0 399.60 662.76Z" fill="#ff8000" stroke="#222" stroke-width="0.35" stroke-linejoin="round"/><path d="M378.90 682.20L399.60 662.76A28.4 28.4 0 0 0 378.90 653.80Z" fill="#00ffff" stroke="#222" stroke-width="0.35" stroke-linejoin="round"/><text x="345.7" y="664.4" font-size="6.1" text-anchor="middle" fill="#111">32%</text><text x="344.0" y="702.1" font-size="6.1" text-anchor="middle" fill="#111">&lt; 1%</text><text x="403.6" y="713.5" font-size="6.1" text-anchor="middle" fill="#111">55%</text><text x="391.0" y="651.8" font-size="6.1" text-anchor="middle" fill="#111">12%</text>
</svg></body></html>
